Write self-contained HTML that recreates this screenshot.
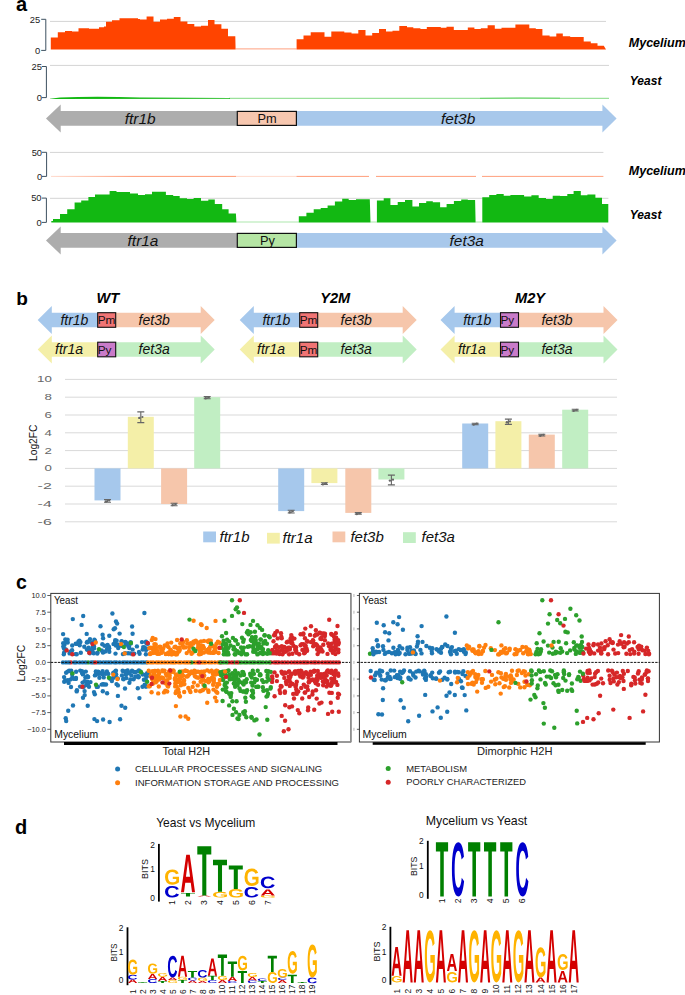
<!DOCTYPE html>
<html><head><meta charset="utf-8"><style>
html,body{margin:0;padding:0;background:#fff;}
body{width:685px;height:995px;overflow:hidden;font-family:"Liberation Sans", sans-serif;}
svg{display:block;}
</style></head><body>
<svg width="685" height="995" viewBox="0 0 685 995" font-family='"Liberation Sans", sans-serif'><defs><path id="gA" d="M1133 0 1008 360H471L346 0H51L565 1409H913L1425 0ZM739 1192 733 1170Q723 1134 709.0 1088.0Q695 1042 537 582H942L803 987L760 1123Z"/><path id="gC" d="M795 212Q1062 212 1166 480L1423 383Q1340 179 1179.5 79.5Q1019 -20 795 -20Q455 -20 269.5 172.5Q84 365 84 711Q84 1058 263.0 1244.0Q442 1430 782 1430Q1030 1430 1186.0 1330.5Q1342 1231 1405 1038L1145 967Q1112 1073 1015.5 1135.5Q919 1198 788 1198Q588 1198 484.5 1074.0Q381 950 381 711Q381 468 487.5 340.0Q594 212 795 212Z"/><path id="gG" d="M806 211Q921 211 1029.0 244.5Q1137 278 1196 330V525H852V743H1466V225Q1354 110 1174.5 45.0Q995 -20 798 -20Q454 -20 269.0 170.5Q84 361 84 711Q84 1059 270.0 1244.5Q456 1430 805 1430Q1301 1430 1436 1063L1164 981Q1120 1088 1026.0 1143.0Q932 1198 805 1198Q597 1198 489.0 1072.0Q381 946 381 711Q381 472 492.5 341.5Q604 211 806 211Z"/><path id="gT" d="M773 1181V0H478V1181H23V1409H1229V1181Z"/></defs><text x="16" y="10.8" font-size="20" font-weight="bold" font-style="normal" text-anchor="start" fill="#000" >a</text>
<line x1="50" y1="21.4" x2="606" y2="21.4" stroke="#d4d4d4" stroke-width="1"/>
<path d="M50.8,49.4 L50.8,37.4 L57.8,37.4 L57.8,32.2 L65.0,32.2 L65.0,30.9 L72.0,30.9 L72.0,31.6 L78.5,31.6 L78.5,28.2 L89.0,28.2 L89.0,28.7 L99.0,28.7 L99.0,27.2 L104.0,27.2 L104.0,26.4 L106.0,26.4 L106.0,21.7 L112.0,21.7 L112.0,20.2 L119.5,20.2 L119.5,18.3 L138.0,18.3 L138.0,19.0 L140.0,19.0 L140.0,19.5 L146.6,19.5 L146.6,16.6 L153.5,16.6 L153.5,21.7 L160.0,21.7 L160.0,19.5 L167.0,19.5 L167.0,18.8 L173.8,18.8 L173.8,16.9 L180.5,16.9 L180.5,21.4 L187.4,21.4 L187.4,23.9 L194.3,23.9 L194.3,26.4 L201.0,26.4 L201.0,25.8 L208.0,25.8 L208.0,19.9 L214.5,19.9 L214.5,24.2 L221.4,24.2 L221.4,28.7 L228.0,28.7 L228.0,36.3 L235.3,36.3 L235.6,49.4 Z" fill="#ff4400"/>
<path d="M296.6,49.4 L296.6,39.2 L303.5,39.2 L303.5,35.5 L310.7,35.5 L310.7,32.2 L324.5,32.2 L324.5,36.7 L331.3,36.7 L331.3,31.6 L344.3,31.6 L344.3,32.6 L351.5,32.6 L351.5,33.4 L358.3,33.4 L358.3,30.0 L365.5,30.0 L365.5,35.5 L372.2,35.5 L372.2,33.0 L379.0,33.0 L379.0,29.0 L386.0,29.0 L386.0,31.6 L392.5,31.6 L392.5,30.7 L399.3,30.7 L399.3,26.0 L407.0,26.0 L407.0,27.2 L413.3,27.2 L413.3,28.2 L420.4,28.2 L420.4,29.0 L426.8,29.0 L426.8,27.0 L440.8,27.0 L440.8,27.8 L446.5,27.8 L446.5,26.8 L453.8,26.8 L453.8,30.0 L467.8,30.0 L467.8,27.5 L474.4,27.5 L474.4,29.0 L480.8,29.0 L480.8,28.2 L487.6,28.2 L487.6,25.3 L494.8,25.3 L494.8,28.7 L501.5,28.7 L501.5,27.8 L515.4,27.8 L515.4,24.6 L529.3,24.6 L529.3,28.2 L535.8,28.2 L535.8,29.0 L542.4,29.0 L542.4,35.5 L549.6,35.5 L549.6,36.6 L556.3,36.6 L556.3,33.6 L562.8,33.6 L562.8,36.3 L570.2,36.3 L570.2,37.0 L583.7,37.0 L583.7,41.4 L590.8,41.4 L590.8,43.3 L597.5,43.3 L597.5,45.8 L603.8,45.8 L606.0,49.4 Z" fill="#ff4400"/>
<line x1="235.6" y1="48.9" x2="296.6" y2="48.9" stroke="#ff4400" stroke-opacity="0.5" stroke-width="1"/>
<path d="M41.199999999999996,19.3 H45.8 V50.4 H41.199999999999996" fill="none" stroke="#3d5060" stroke-width="1"/>
<text x="40.199999999999996" y="22.6" font-size="9.4" font-weight="normal" font-style="normal" text-anchor="end" fill="#222" >25</text>
<text x="40.199999999999996" y="53.699999999999996" font-size="9.4" font-weight="normal" font-style="normal" text-anchor="end" fill="#222" >0</text>
<text x="628.8" y="46.7" font-size="12.5" font-weight="bold" font-style="italic" text-anchor="start" fill="#000" >Mycelium</text>
<line x1="50" y1="65.4" x2="609" y2="65.4" stroke="#d4d4d4" stroke-width="1"/>
<path d="M50,98.7 L60,97.4 Q95,96.2 140,97.4 L230,97.9 L230,98.8 L50,98.9 Z" fill="#12b812"/>
<path d="M229,98.3 H609" stroke="#12b812" stroke-opacity="0.6" stroke-width="0.9"/>
<path d="M480,98.3 Q520,97.3 560,98.1" stroke="#12b812" stroke-opacity="0.5" stroke-width="0.8" fill="none"/>
<path d="M41.8,66.5 H46.4 V97.6 H41.8" fill="none" stroke="#3d5060" stroke-width="1"/>
<text x="42.0" y="69.8" font-size="9.4" font-weight="normal" font-style="normal" text-anchor="end" fill="#222" >25</text>
<text x="42.0" y="100.89999999999999" font-size="9.4" font-weight="normal" font-style="normal" text-anchor="end" fill="#222" >0</text>
<text x="629.8" y="84.6" font-size="12" font-weight="bold" font-style="italic" text-anchor="start" fill="#000" >Yeast</text>
<path d="M46,118.4 L60.7,104.4 L60.7,111.0 L237,111.0 L237,125.80000000000001 L60.7,125.80000000000001 L60.7,132.4 Z" fill="#adadad"/>
<path d="M296,111.0 L602.4,111.0 L602.4,104.4 L616.6,118.4 L602.4,132.4 L602.4,125.80000000000001 L296,125.80000000000001 Z" fill="#a8c8eb"/>
<rect x="237.3" y="111.4" width="59.1" height="14.00000000000001" fill="#f7c7af" stroke="#111" stroke-width="1.2"/>
<text x="124.8" y="123.60000000000001" font-size="15.4" font-weight="normal" font-style="italic" text-anchor="start" fill="#111" >ftr1b</text>
<text x="441.0" y="123.60000000000001" font-size="15.4" font-weight="normal" font-style="italic" text-anchor="start" fill="#111" >fet3b</text>
<text x="257.5" y="123.0" font-size="12.8" font-weight="normal" font-style="normal" text-anchor="start" fill="#111" >Pm</text>
<line x1="50" y1="152.4" x2="603.4" y2="152.4" stroke="#d4d4d4" stroke-width="1"/>
<defs><linearGradient id="rg" x1="51" x2="603" gradientUnits="userSpaceOnUse"><stop offset="0" stop-color="#ff4400" stop-opacity="0.2"/><stop offset="0.15" stop-color="#ff4400" stop-opacity="0.55"/><stop offset="1" stop-color="#ff4400" stop-opacity="0.5"/></linearGradient></defs>
<path d="M51,176.4 H236 M296.5,176.4 H369 M376,176.4 H476 M482,176.4 H603.4" stroke="url(#rg)" stroke-width="1"/>
<path d="M236,176.4 H296.5" stroke="#ff4400" stroke-opacity="0.2" stroke-width="1"/>
<path d="M42.0,152.3 H46.6 V176.4 H42.0" fill="none" stroke="#3d5060" stroke-width="1"/>
<text x="42.1" y="155.60000000000002" font-size="9.4" font-weight="normal" font-style="normal" text-anchor="end" fill="#222" >50</text>
<text x="42.1" y="179.70000000000002" font-size="9.4" font-weight="normal" font-style="normal" text-anchor="end" fill="#222" >0</text>
<text x="628.8" y="175.0" font-size="12.5" font-weight="bold" font-style="italic" text-anchor="start" fill="#000" >Mycelium</text>
<line x1="50" y1="198.3" x2="608.4" y2="198.3" stroke="#d4d4d4" stroke-width="1"/>
<path d="M51.3,222.5 L51.3,221.0 L53.0,221.0 L53.0,219.1 L60.0,219.1 L60.0,213.9 L67.2,213.9 L67.2,209.2 L74.6,209.2 L74.6,202.6 L81.2,202.6 L81.2,200.4 L88.4,200.4 L88.4,197.1 L95.0,197.1 L95.0,194.6 L109.6,194.6 L109.6,191.0 L116.5,191.0 L116.5,192.0 L130.0,192.0 L130.0,193.4 L138.0,193.4 L138.0,194.9 L145.0,194.9 L145.0,194.3 L152.0,194.3 L152.0,191.7 L165.9,191.7 L165.9,195.0 L173.2,195.0 L173.2,196.0 L179.7,196.0 L179.7,198.2 L187.0,198.2 L187.0,199.0 L193.6,199.0 L193.6,198.0 L201.0,198.0 L201.0,200.7 L208.3,200.7 L208.3,199.4 L214.8,199.4 L214.8,204.0 L222.2,204.0 L222.2,209.2 L228.6,209.2 L228.6,213.6 L235.9,213.6 L236.4,222.5 Z" fill="#12b812"/>
<path d="M298.8,222.5 L298.8,216.2 L306.4,216.2 L306.4,212.8 L313.7,212.8 L313.7,209.2 L320.7,209.2 L320.7,208.0 L327.6,208.0 L327.6,205.5 L334.9,205.5 L334.9,201.6 L342.2,201.6 L342.2,198.7 L348.7,198.7 L348.7,200.1 L356.0,200.1 L356.0,199.3 L369.8,199.3 L370.5,222.5 Z" fill="#12b812"/>
<path d="M376.9,222.5 L376.9,200.4 L383.7,200.4 L383.7,198.2 L390.4,198.2 L390.4,205.1 L397.7,205.1 L397.7,201.9 L405.0,201.9 L405.0,200.0 L412.4,200.0 L412.4,206.6 L419.0,206.6 L419.0,202.9 L426.2,202.9 L426.2,201.2 L432.8,201.2 L432.8,202.2 L440.1,202.2 L440.1,207.3 L446.6,207.3 L446.6,204.1 L453.9,204.1 L453.9,200.9 L461.2,200.9 L461.2,199.4 L467.8,199.4 L467.8,200.1 L475.1,200.1 L475.6,222.5 Z" fill="#12b812"/>
<path d="M482.3,222.5 L482.3,197.2 L489.2,197.2 L489.2,194.9 L496.4,194.9 L496.4,193.9 L503.7,193.9 L503.7,195.8 L510.4,195.8 L510.4,195.0 L524.1,195.0 L524.1,196.5 L531.4,196.5 L531.4,195.3 L538.7,195.3 L538.7,198.0 L546.0,198.0 L546.0,199.0 L552.7,199.0 L552.7,195.8 L560.0,195.8 L560.0,196.0 L567.3,196.0 L567.3,193.9 L573.6,193.9 L573.6,191.0 L580.8,191.0 L580.8,195.3 L587.4,195.3 L587.4,194.6 L595.4,194.6 L595.4,197.8 L602.0,197.8 L602.0,204.1 L608.3,204.1 L608.3,222.5 Z" fill="#12b812"/>
<path d="M236.4,222.0 H298.8 M370.5,222.0 H376.9 M475.6,222.0 H482.3" stroke="#12b812" stroke-opacity="0.35" stroke-width="1"/>
<path d="M41.8,198.1 H46.4 V222.4 H41.8" fill="none" stroke="#3d5060" stroke-width="1"/>
<text x="41.6" y="201.4" font-size="9.4" font-weight="normal" font-style="normal" text-anchor="end" fill="#222" >50</text>
<text x="41.6" y="225.70000000000002" font-size="9.4" font-weight="normal" font-style="normal" text-anchor="end" fill="#222" >0</text>
<text x="629.8" y="219.3" font-size="12" font-weight="bold" font-style="italic" text-anchor="start" fill="#000" >Yeast</text>
<path d="M46,240.4 L60.7,226.4 L60.7,233.0 L237,233.0 L237,247.8 L60.7,247.8 L60.7,254.4 Z" fill="#adadad"/>
<path d="M296,233.0 L602.4,233.0 L602.4,226.4 L616.6,240.4 L602.4,254.4 L602.4,247.8 L296,247.8 Z" fill="#a8c8eb"/>
<rect x="237.3" y="233.4" width="59.1" height="14.00000000000001" fill="#b5e5a4" stroke="#111" stroke-width="1.2"/>
<text x="127.6" y="245.6" font-size="15.4" font-weight="normal" font-style="italic" text-anchor="start" fill="#111" >ftr1a</text>
<text x="449.6" y="245.6" font-size="15.4" font-weight="normal" font-style="italic" text-anchor="start" fill="#111" >fet3a</text>
<text x="260.0" y="245.0" font-size="12.8" font-weight="normal" font-style="normal" text-anchor="start" fill="#111" >Py</text>
<text x="16.3" y="304.6" font-size="19" font-weight="bold" font-style="normal" text-anchor="start" fill="#000" >b</text>
<path d="M37.7,320.0 L51.8,305.9 L51.8,312.7 L98,312.7 L98,327.3 L51.8,327.3 L51.8,334.1 Z" fill="#a6c8ec"/>
<path d="M115,312.7 L200.7,312.7 L200.7,305.9 L214.7,320.0 L200.7,334.1 L200.7,327.3 L115,327.3 Z" fill="#f6c6ab"/>
<rect x="97.7" y="312.7" width="18" height="14.600000000000023" fill="#f07474" stroke="#111" stroke-width="1.1"/>
<text x="60.4" y="324.8" font-size="14" font-weight="normal" font-style="italic" text-anchor="start" fill="#111" >ftr1b</text>
<text x="138.6" y="324.8" font-size="14" font-weight="normal" font-style="italic" text-anchor="start" fill="#111" >fet3b</text>
<text x="97.7" y="324.1" font-size="11.8" font-weight="normal" font-style="normal" text-anchor="start" fill="#111" >Pm</text>
<path d="M37.7,349.5 L51.8,335.4 L51.8,342.2 L98,342.2 L98,356.8 L51.8,356.8 L51.8,363.6 Z" fill="#f4efa8"/>
<path d="M115,342.2 L200.7,342.2 L200.7,335.4 L214.7,349.5 L200.7,363.6 L200.7,356.8 L115,356.8 Z" fill="#c1eec3"/>
<rect x="97.7" y="342.2" width="18" height="14.600000000000023" fill="#c97bc9" stroke="#111" stroke-width="1.1"/>
<text x="55.1" y="354.3" font-size="14" font-weight="normal" font-style="italic" text-anchor="start" fill="#111" >ftr1a</text>
<text x="138.6" y="354.3" font-size="14" font-weight="normal" font-style="italic" text-anchor="start" fill="#111" >fet3a</text>
<text x="97.7" y="353.6" font-size="11.8" font-weight="normal" font-style="normal" text-anchor="start" fill="#111" >Py</text>
<path d="M239.7,320.0 L253.8,305.9 L253.8,312.7 L300,312.7 L300,327.3 L253.8,327.3 L253.8,334.1 Z" fill="#a6c8ec"/>
<path d="M317,312.7 L402.7,312.7 L402.7,305.9 L416.7,320.0 L402.7,334.1 L402.7,327.3 L317,327.3 Z" fill="#f6c6ab"/>
<rect x="299.7" y="312.7" width="18" height="14.600000000000023" fill="#f07474" stroke="#111" stroke-width="1.1"/>
<text x="262.4" y="324.8" font-size="14" font-weight="normal" font-style="italic" text-anchor="start" fill="#111" >ftr1b</text>
<text x="340.6" y="324.8" font-size="14" font-weight="normal" font-style="italic" text-anchor="start" fill="#111" >fet3b</text>
<text x="299.7" y="324.1" font-size="11.8" font-weight="normal" font-style="normal" text-anchor="start" fill="#111" >Pm</text>
<path d="M239.7,349.5 L253.8,335.4 L253.8,342.2 L300,342.2 L300,356.8 L253.8,356.8 L253.8,363.6 Z" fill="#f4efa8"/>
<path d="M317,342.2 L402.7,342.2 L402.7,335.4 L416.7,349.5 L402.7,363.6 L402.7,356.8 L317,356.8 Z" fill="#c1eec3"/>
<rect x="299.7" y="342.2" width="18" height="14.600000000000023" fill="#f07474" stroke="#111" stroke-width="1.1"/>
<text x="257.1" y="354.3" font-size="14" font-weight="normal" font-style="italic" text-anchor="start" fill="#111" >ftr1a</text>
<text x="340.6" y="354.3" font-size="14" font-weight="normal" font-style="italic" text-anchor="start" fill="#111" >fet3a</text>
<text x="299.7" y="353.6" font-size="11.8" font-weight="normal" font-style="normal" text-anchor="start" fill="#111" >Pm</text>
<path d="M440.5,320.0 L454.6,305.9 L454.6,312.7 L500.8,312.7 L500.8,327.3 L454.6,327.3 L454.6,334.1 Z" fill="#a6c8ec"/>
<path d="M517.8,312.7 L603.5,312.7 L603.5,305.9 L617.5,320.0 L603.5,334.1 L603.5,327.3 L517.8,327.3 Z" fill="#f6c6ab"/>
<rect x="500.5" y="312.7" width="18" height="14.600000000000023" fill="#c97bc9" stroke="#111" stroke-width="1.1"/>
<text x="463.2" y="324.8" font-size="14" font-weight="normal" font-style="italic" text-anchor="start" fill="#111" >ftr1b</text>
<text x="541.4" y="324.8" font-size="14" font-weight="normal" font-style="italic" text-anchor="start" fill="#111" >fet3b</text>
<text x="500.5" y="324.1" font-size="11.8" font-weight="normal" font-style="normal" text-anchor="start" fill="#111" >Py</text>
<path d="M440.5,349.5 L454.6,335.4 L454.6,342.2 L500.8,342.2 L500.8,356.8 L454.6,356.8 L454.6,363.6 Z" fill="#f4efa8"/>
<path d="M517.8,342.2 L603.5,342.2 L603.5,335.4 L617.5,349.5 L603.5,363.6 L603.5,356.8 L517.8,356.8 Z" fill="#c1eec3"/>
<rect x="500.5" y="342.2" width="18" height="14.600000000000023" fill="#c97bc9" stroke="#111" stroke-width="1.1"/>
<text x="457.90000000000003" y="354.3" font-size="14" font-weight="normal" font-style="italic" text-anchor="start" fill="#111" >ftr1a</text>
<text x="541.4" y="354.3" font-size="14" font-weight="normal" font-style="italic" text-anchor="start" fill="#111" >fet3a</text>
<text x="500.5" y="353.6" font-size="11.8" font-weight="normal" font-style="normal" text-anchor="start" fill="#111" >Py</text>
<text x="96.4" y="303.4" font-size="14.6" font-weight="bold" font-style="italic" text-anchor="start" fill="#000" >WT</text>
<text x="320.2" y="303.4" font-size="14.6" font-weight="bold" font-style="italic" text-anchor="start" fill="#000" >Y2M</text>
<text x="515.0" y="303.4" font-size="14.6" font-weight="bold" font-style="italic" text-anchor="start" fill="#000" >M2Y</text>
<line x1="65" y1="379.4" x2="617" y2="379.4" stroke="#d9d9d9" stroke-width="1"/>
<text x="51.8" y="382.29999999999995" font-size="8.2" font-weight="normal" font-style="normal" text-anchor="end" fill="#666" textLength="14.8" lengthAdjust="spacingAndGlyphs" >10</text>
<line x1="65" y1="397.2" x2="617" y2="397.2" stroke="#d9d9d9" stroke-width="1"/>
<text x="51.8" y="400.09999999999997" font-size="8.2" font-weight="normal" font-style="normal" text-anchor="end" fill="#666" textLength="7.4" lengthAdjust="spacingAndGlyphs" >8</text>
<line x1="65" y1="415.0" x2="617" y2="415.0" stroke="#d9d9d9" stroke-width="1"/>
<text x="51.8" y="417.9" font-size="8.2" font-weight="normal" font-style="normal" text-anchor="end" fill="#666" textLength="7.4" lengthAdjust="spacingAndGlyphs" >6</text>
<line x1="65" y1="432.8" x2="617" y2="432.8" stroke="#d9d9d9" stroke-width="1"/>
<text x="51.8" y="435.69999999999993" font-size="8.2" font-weight="normal" font-style="normal" text-anchor="end" fill="#666" textLength="7.4" lengthAdjust="spacingAndGlyphs" >4</text>
<line x1="65" y1="450.6" x2="617" y2="450.6" stroke="#d9d9d9" stroke-width="1"/>
<text x="51.8" y="453.49999999999994" font-size="8.2" font-weight="normal" font-style="normal" text-anchor="end" fill="#666" textLength="7.4" lengthAdjust="spacingAndGlyphs" >2</text>
<line x1="65" y1="468.4" x2="617" y2="468.4" stroke="#d9d9d9" stroke-width="1"/>
<text x="51.8" y="471.29999999999995" font-size="8.2" font-weight="normal" font-style="normal" text-anchor="end" fill="#666" textLength="7.4" lengthAdjust="spacingAndGlyphs" >0</text>
<line x1="65" y1="486.2" x2="617" y2="486.2" stroke="#d9d9d9" stroke-width="1"/>
<text x="51.8" y="489.09999999999997" font-size="8.2" font-weight="normal" font-style="normal" text-anchor="end" fill="#666" textLength="14.200000000000001" lengthAdjust="spacingAndGlyphs" >-2</text>
<line x1="65" y1="504.0" x2="617" y2="504.0" stroke="#d9d9d9" stroke-width="1"/>
<text x="51.8" y="506.9" font-size="8.2" font-weight="normal" font-style="normal" text-anchor="end" fill="#666" textLength="14.200000000000001" lengthAdjust="spacingAndGlyphs" >-4</text>
<line x1="65" y1="521.8" x2="617" y2="521.8" stroke="#d9d9d9" stroke-width="1"/>
<text x="51.8" y="524.6999999999999" font-size="8.2" font-weight="normal" font-style="normal" text-anchor="end" fill="#666" textLength="14.200000000000001" lengthAdjust="spacingAndGlyphs" >-6</text>
<text transform="translate(37.4,461) rotate(-90)" font-size="10.6" fill="#111" textLength="36.4" lengthAdjust="spacingAndGlyphs">Log2FC</text>
<rect x="94.5" y="468.4" width="26" height="32.0" fill="#a6c8ec"/>
<rect x="127.8" y="416.8" width="26" height="51.6" fill="#f4efa8"/>
<rect x="161.1" y="468.4" width="26" height="35.6" fill="#f6c6ab"/>
<rect x="194.2" y="397.2" width="26" height="71.2" fill="#c1eec3"/>
<rect x="278.2" y="468.4" width="26" height="42.7" fill="#a6c8ec"/>
<rect x="311.4" y="468.4" width="26" height="14.7" fill="#f4efa8"/>
<rect x="345.3" y="468.4" width="26" height="44.5" fill="#f6c6ab"/>
<rect x="378.4" y="468.4" width="26" height="11.1" fill="#c1eec3"/>
<rect x="462.2" y="423.5" width="26" height="44.9" fill="#a6c8ec"/>
<rect x="495.4" y="421.2" width="26" height="47.2" fill="#f4efa8"/>
<rect x="528.8" y="434.6" width="26" height="33.8" fill="#f6c6ab"/>
<rect x="562.2" y="409.7" width="26" height="58.7" fill="#c1eec3"/>
<path d="M107.5,499.6 V502.3 M104.0,499.6 H111.0 M104.0,502.3 H111.0" stroke="#666" stroke-width="1.1" fill="none"/>
<circle cx="106.0" cy="501.5" r="1.2" fill="#666"/>
<circle cx="109.1" cy="500.6" r="1.1" fill="#666"/>
<path d="M140.8,411.9 V422.6 M137.3,411.9 H144.3 M137.3,422.6 H144.3" stroke="#666" stroke-width="1.1" fill="none"/>
<circle cx="139.3" cy="417.9" r="1.2" fill="#666"/>
<circle cx="142.4" cy="417.0" r="1.1" fill="#666"/>
<path d="M174.1,503.2 V505.8 M170.6,503.2 H177.6 M170.6,505.8 H177.6" stroke="#666" stroke-width="1.1" fill="none"/>
<circle cx="172.6" cy="505.1" r="1.2" fill="#666"/>
<circle cx="175.7" cy="504.2" r="1.1" fill="#666"/>
<path d="M207.2,396.6 V398.8 M203.7,396.6 H210.7 M203.7,398.8 H210.7" stroke="#666" stroke-width="1.1" fill="none"/>
<circle cx="205.7" cy="398.3" r="1.2" fill="#666"/>
<circle cx="208.79999999999998" cy="397.4" r="1.1" fill="#666"/>
<path d="M291.2,510.3 V513.0 M287.7,510.3 H294.7 M287.7,513.0 H294.7" stroke="#666" stroke-width="1.1" fill="none"/>
<circle cx="289.7" cy="512.2" r="1.2" fill="#666"/>
<circle cx="292.8" cy="511.3" r="1.1" fill="#666"/>
<path d="M324.4,482.7 V484.5 M320.9,482.7 H327.9 M320.9,484.5 H327.9" stroke="#666" stroke-width="1.1" fill="none"/>
<circle cx="322.9" cy="484.2" r="1.2" fill="#666"/>
<circle cx="326.0" cy="483.3" r="1.1" fill="#666"/>
<path d="M358.3,512.6 V514.2 M354.8,512.6 H361.8 M354.8,514.2 H361.8" stroke="#666" stroke-width="1.1" fill="none"/>
<circle cx="356.8" cy="514.0" r="1.2" fill="#666"/>
<circle cx="359.90000000000003" cy="513.1" r="1.1" fill="#666"/>
<path d="M391.4,475.1 V484.9 M387.9,475.1 H394.9 M387.9,484.9 H394.9" stroke="#666" stroke-width="1.1" fill="none"/>
<circle cx="389.9" cy="480.6" r="1.2" fill="#666"/>
<circle cx="393.0" cy="479.7" r="1.1" fill="#666"/>
<path d="M475.2,423.2 V424.8 M471.7,423.2 H478.7 M471.7,424.8 H478.7" stroke="#666" stroke-width="1.1" fill="none"/>
<circle cx="473.7" cy="424.6" r="1.2" fill="#666"/>
<circle cx="476.8" cy="423.7" r="1.1" fill="#666"/>
<path d="M508.4,419.1 V424.4 M504.9,419.1 H511.9 M504.9,424.4 H511.9" stroke="#666" stroke-width="1.1" fill="none"/>
<circle cx="506.9" cy="422.3" r="1.2" fill="#666"/>
<circle cx="510.0" cy="421.4" r="1.1" fill="#666"/>
<path d="M541.8,434.2 V436.0 M538.3,434.2 H545.3 M538.3,436.0 H545.3" stroke="#666" stroke-width="1.1" fill="none"/>
<circle cx="540.3" cy="435.7" r="1.2" fill="#666"/>
<circle cx="543.4" cy="434.8" r="1.1" fill="#666"/>
<path d="M575.2,409.3 V411.0 M571.7,409.3 H578.7 M571.7,411.0 H578.7" stroke="#666" stroke-width="1.1" fill="none"/>
<circle cx="573.7" cy="410.8" r="1.2" fill="#666"/>
<circle cx="576.8000000000001" cy="409.9" r="1.1" fill="#666"/>
<rect x="203.2" y="531.5" width="12.8" height="10.8" fill="#a6c8ec"/>
<text x="219.5" y="541.7" font-size="15" font-weight="normal" font-style="italic" text-anchor="start" fill="#111" >ftr1b</text>
<rect x="267" y="532.8" width="12.8" height="10.8" fill="#f4efa8"/>
<text x="282.5" y="543.0" font-size="15" font-weight="normal" font-style="italic" text-anchor="start" fill="#111" >ftr1a</text>
<rect x="332.5" y="531.5" width="12.8" height="10.8" fill="#f6c6ab"/>
<text x="350.4" y="541.7" font-size="15" font-weight="normal" font-style="italic" text-anchor="start" fill="#111" >fet3b</text>
<rect x="403" y="532.2" width="12.8" height="10.8" fill="#c1eec3"/>
<text x="421.6" y="542.4000000000001" font-size="15" font-weight="normal" font-style="italic" text-anchor="start" fill="#111" >fet3a</text>
<text x="16" y="589.2" font-size="19.5" font-weight="bold" font-style="normal" text-anchor="start" fill="#000" >c</text>
<rect x="50.8" y="593.4" width="300" height="148.6" fill="#fff" stroke="#333" stroke-width="1"/>
<rect x="359.4" y="593.4" width="300" height="148.6" fill="#fff" stroke="#333" stroke-width="1"/>
<circle cx="506.0" cy="679.8" r="2.2" fill="#ff7f0e"/>
<circle cx="127.6" cy="673.4" r="2.2" fill="#1f77b4"/>
<circle cx="375.1" cy="652.3" r="2.2" fill="#1f77b4"/>
<circle cx="473.7" cy="684.6" r="2.2" fill="#ff7f0e"/>
<circle cx="400.6" cy="700.3" r="2.2" fill="#1f77b4"/>
<circle cx="70.8" cy="662.4" r="2.2" fill="#d62728"/>
<circle cx="280.2" cy="693.0" r="2.2" fill="#d62728"/>
<circle cx="411.5" cy="653.5" r="2.2" fill="#1f77b4"/>
<circle cx="439.0" cy="672.8" r="2.2" fill="#1f77b4"/>
<circle cx="235.2" cy="684.5" r="2.2" fill="#2ca02c"/>
<circle cx="548.0" cy="645.6" r="2.2" fill="#2ca02c"/>
<circle cx="279.0" cy="647.2" r="2.2" fill="#d62728"/>
<circle cx="396.9" cy="675.3" r="2.2" fill="#1f77b4"/>
<circle cx="104.5" cy="645.8" r="2.2" fill="#1f77b4"/>
<circle cx="588.8" cy="651.8" r="2.2" fill="#d62728"/>
<circle cx="237.0" cy="683.6" r="2.2" fill="#2ca02c"/>
<circle cx="76.0" cy="678.0" r="2.2" fill="#1f77b4"/>
<circle cx="227.0" cy="671.2" r="2.2" fill="#2ca02c"/>
<circle cx="338.4" cy="675.7" r="2.2" fill="#d62728"/>
<circle cx="167.5" cy="643.4" r="2.2" fill="#ff7f0e"/>
<circle cx="161.4" cy="652.9" r="2.2" fill="#ff7f0e"/>
<circle cx="302.4" cy="649.9" r="2.2" fill="#d62728"/>
<circle cx="645.4" cy="654.0" r="2.2" fill="#d62728"/>
<circle cx="229.1" cy="693.5" r="2.2" fill="#2ca02c"/>
<circle cx="648.0" cy="678.6" r="2.2" fill="#d62728"/>
<circle cx="80.4" cy="642.1" r="2.2" fill="#1f77b4"/>
<circle cx="179.1" cy="648.3" r="2.2" fill="#ff7f0e"/>
<circle cx="128.9" cy="646.3" r="2.2" fill="#1f77b4"/>
<circle cx="624.1" cy="642.3" r="2.2" fill="#d62728"/>
<circle cx="170.0" cy="672.3" r="2.2" fill="#ff7f0e"/>
<circle cx="246.2" cy="692.4" r="2.2" fill="#2ca02c"/>
<circle cx="623.7" cy="647.2" r="2.2" fill="#d62728"/>
<circle cx="303.4" cy="633.5" r="2.2" fill="#d62728"/>
<circle cx="166.9" cy="675.8" r="2.2" fill="#ff7f0e"/>
<circle cx="312.7" cy="691.5" r="2.2" fill="#d62728"/>
<circle cx="277.7" cy="638.4" r="2.2" fill="#d62728"/>
<circle cx="70.8" cy="671.3" r="2.2" fill="#1f77b4"/>
<circle cx="112.4" cy="613.5" r="2.2" fill="#1f77b4"/>
<circle cx="410.0" cy="671.2" r="2.2" fill="#1f77b4"/>
<circle cx="271.0" cy="662.4" r="2.2" fill="#d62728"/>
<circle cx="501.4" cy="645.4" r="2.2" fill="#ff7f0e"/>
<circle cx="527.6" cy="684.8" r="2.2" fill="#ff7f0e"/>
<circle cx="142.0" cy="642.1" r="2.2" fill="#1f77b4"/>
<circle cx="158.1" cy="675.7" r="2.2" fill="#ff7f0e"/>
<circle cx="267.6" cy="677.5" r="2.2" fill="#2ca02c"/>
<circle cx="178.6" cy="679.1" r="2.2" fill="#ff7f0e"/>
<circle cx="331.7" cy="643.8" r="2.2" fill="#d62728"/>
<circle cx="604.2" cy="647.6" r="2.2" fill="#d62728"/>
<circle cx="93.9" cy="646.2" r="2.2" fill="#1f77b4"/>
<circle cx="512.7" cy="681.0" r="2.2" fill="#ff7f0e"/>
<circle cx="461.0" cy="681.2" r="2.2" fill="#1f77b4"/>
<circle cx="216.1" cy="691.5" r="2.2" fill="#ff7f0e"/>
<circle cx="580.6" cy="680.8" r="2.2" fill="#2ca02c"/>
<circle cx="234.5" cy="662.4" r="2.2" fill="#2ca02c"/>
<circle cx="257.5" cy="686.8" r="2.2" fill="#2ca02c"/>
<circle cx="94.0" cy="692.1" r="2.2" fill="#1f77b4"/>
<circle cx="570.1" cy="650.4" r="2.2" fill="#2ca02c"/>
<circle cx="312.5" cy="679.5" r="2.2" fill="#d62728"/>
<circle cx="146.7" cy="676.4" r="2.2" fill="#1f77b4"/>
<circle cx="306.6" cy="648.7" r="2.2" fill="#d62728"/>
<circle cx="552.5" cy="647.6" r="2.2" fill="#2ca02c"/>
<circle cx="168.7" cy="654.0" r="2.2" fill="#ff7f0e"/>
<circle cx="135.4" cy="672.1" r="2.2" fill="#1f77b4"/>
<circle cx="232.4" cy="673.2" r="2.2" fill="#2ca02c"/>
<circle cx="69.6" cy="653.4" r="2.2" fill="#1f77b4"/>
<circle cx="292.0" cy="637.4" r="2.2" fill="#d62728"/>
<circle cx="164.7" cy="645.5" r="2.2" fill="#ff7f0e"/>
<circle cx="317.0" cy="645.2" r="2.2" fill="#d62728"/>
<circle cx="158.0" cy="670.8" r="2.2" fill="#ff7f0e"/>
<circle cx="213.5" cy="672.4" r="2.2" fill="#ff7f0e"/>
<circle cx="68.2" cy="710.7" r="2.2" fill="#1f77b4"/>
<circle cx="102.3" cy="644.3" r="2.2" fill="#1f77b4"/>
<circle cx="321.5" cy="702.6" r="2.2" fill="#d62728"/>
<circle cx="331.4" cy="650.2" r="2.2" fill="#d62728"/>
<circle cx="303.1" cy="662.4" r="2.2" fill="#d62728"/>
<circle cx="296.0" cy="650.2" r="2.2" fill="#d62728"/>
<circle cx="158.6" cy="674.0" r="2.2" fill="#ff7f0e"/>
<circle cx="167.5" cy="685.7" r="2.2" fill="#ff7f0e"/>
<circle cx="558.7" cy="691.9" r="2.2" fill="#2ca02c"/>
<circle cx="282.5" cy="654.3" r="2.2" fill="#d62728"/>
<circle cx="315.7" cy="644.8" r="2.2" fill="#d62728"/>
<circle cx="178.8" cy="692.3" r="2.2" fill="#ff7f0e"/>
<circle cx="281.3" cy="636.8" r="2.2" fill="#d62728"/>
<circle cx="328.1" cy="643.4" r="2.2" fill="#d62728"/>
<circle cx="612.7" cy="643.0" r="2.2" fill="#d62728"/>
<circle cx="106.0" cy="662.4" r="2.2" fill="#1f77b4"/>
<circle cx="260.1" cy="674.2" r="2.2" fill="#2ca02c"/>
<circle cx="291.6" cy="642.5" r="2.2" fill="#d62728"/>
<circle cx="314.2" cy="709.8" r="2.2" fill="#d62728"/>
<circle cx="234.0" cy="678.9" r="2.2" fill="#2ca02c"/>
<circle cx="326.1" cy="680.4" r="2.2" fill="#d62728"/>
<circle cx="175.9" cy="674.5" r="2.2" fill="#ff7f0e"/>
<circle cx="300.3" cy="662.4" r="2.2" fill="#d62728"/>
<circle cx="109.3" cy="651.7" r="2.2" fill="#1f77b4"/>
<circle cx="529.3" cy="649.8" r="2.2" fill="#ff7f0e"/>
<circle cx="289.8" cy="685.9" r="2.2" fill="#d62728"/>
<circle cx="126.2" cy="671.2" r="2.2" fill="#1f77b4"/>
<circle cx="235.1" cy="670.7" r="2.2" fill="#2ca02c"/>
<circle cx="281.8" cy="646.1" r="2.2" fill="#d62728"/>
<circle cx="185.4" cy="647.4" r="2.2" fill="#ff7f0e"/>
<circle cx="270.5" cy="652.1" r="2.2" fill="#2ca02c"/>
<circle cx="94.4" cy="719.1" r="2.2" fill="#1f77b4"/>
<circle cx="399.1" cy="617.1" r="2.2" fill="#1f77b4"/>
<circle cx="445.2" cy="644.5" r="2.2" fill="#1f77b4"/>
<circle cx="117.9" cy="695.9" r="2.2" fill="#1f77b4"/>
<circle cx="560.7" cy="648.3" r="2.2" fill="#2ca02c"/>
<circle cx="65.5" cy="649.8" r="2.2" fill="#1f77b4"/>
<circle cx="208.7" cy="648.9" r="2.2" fill="#ff7f0e"/>
<circle cx="152.8" cy="653.1" r="2.2" fill="#ff7f0e"/>
<circle cx="97.9" cy="662.4" r="2.2" fill="#1f77b4"/>
<circle cx="145.9" cy="686.5" r="2.2" fill="#1f77b4"/>
<circle cx="413.0" cy="673.4" r="2.2" fill="#1f77b4"/>
<circle cx="601.2" cy="678.6" r="2.2" fill="#d62728"/>
<circle cx="531.9" cy="680.3" r="2.2" fill="#2ca02c"/>
<circle cx="217.3" cy="692.8" r="2.2" fill="#ff7f0e"/>
<circle cx="312.4" cy="694.5" r="2.2" fill="#d62728"/>
<circle cx="288.7" cy="676.6" r="2.2" fill="#d62728"/>
<circle cx="255.1" cy="639.5" r="2.2" fill="#2ca02c"/>
<circle cx="149.2" cy="673.7" r="2.2" fill="#ff7f0e"/>
<circle cx="108.3" cy="673.9" r="2.2" fill="#1f77b4"/>
<circle cx="129.4" cy="682.7" r="2.2" fill="#1f77b4"/>
<circle cx="321.5" cy="639.1" r="2.2" fill="#d62728"/>
<circle cx="138.5" cy="677.3" r="2.2" fill="#1f77b4"/>
<circle cx="217.3" cy="671.5" r="2.2" fill="#ff7f0e"/>
<circle cx="557.2" cy="620.0" r="2.2" fill="#2ca02c"/>
<circle cx="242.3" cy="624.1" r="2.2" fill="#2ca02c"/>
<circle cx="146.0" cy="641.8" r="2.2" fill="#1f77b4"/>
<circle cx="424.2" cy="670.6" r="2.2" fill="#1f77b4"/>
<circle cx="648.6" cy="671.2" r="2.2" fill="#d62728"/>
<circle cx="149.7" cy="686.2" r="2.2" fill="#ff7f0e"/>
<circle cx="237.5" cy="718.5" r="2.2" fill="#2ca02c"/>
<circle cx="162.3" cy="670.5" r="2.2" fill="#ff7f0e"/>
<circle cx="116.0" cy="621.4" r="2.2" fill="#1f77b4"/>
<circle cx="99.4" cy="677.8" r="2.2" fill="#1f77b4"/>
<circle cx="264.5" cy="635.4" r="2.2" fill="#2ca02c"/>
<circle cx="478.3" cy="674.9" r="2.2" fill="#ff7f0e"/>
<circle cx="384.8" cy="653.9" r="2.2" fill="#1f77b4"/>
<circle cx="295.2" cy="673.7" r="2.2" fill="#d62728"/>
<circle cx="242.0" cy="637.7" r="2.2" fill="#2ca02c"/>
<circle cx="127.5" cy="662.4" r="2.2" fill="#1f77b4"/>
<circle cx="175.9" cy="706.1" r="2.2" fill="#ff7f0e"/>
<circle cx="317.5" cy="680.1" r="2.2" fill="#d62728"/>
<circle cx="321.4" cy="637.4" r="2.2" fill="#d62728"/>
<circle cx="116.5" cy="684.1" r="2.2" fill="#1f77b4"/>
<circle cx="212.9" cy="674.0" r="2.2" fill="#ff7f0e"/>
<circle cx="471.4" cy="683.8" r="2.2" fill="#ff7f0e"/>
<circle cx="218.6" cy="653.0" r="2.2" fill="#ff7f0e"/>
<circle cx="220.6" cy="673.1" r="2.2" fill="#ff7f0e"/>
<circle cx="246.0" cy="682.3" r="2.2" fill="#2ca02c"/>
<circle cx="560.2" cy="623.3" r="2.2" fill="#2ca02c"/>
<circle cx="258.0" cy="662.4" r="2.2" fill="#2ca02c"/>
<circle cx="195.0" cy="676.2" r="2.2" fill="#ff7f0e"/>
<circle cx="261.1" cy="646.8" r="2.2" fill="#2ca02c"/>
<circle cx="122.9" cy="662.4" r="2.2" fill="#1f77b4"/>
<circle cx="161.1" cy="648.7" r="2.2" fill="#ff7f0e"/>
<circle cx="272.1" cy="681.9" r="2.2" fill="#d62728"/>
<circle cx="563.8" cy="670.5" r="2.2" fill="#2ca02c"/>
<circle cx="239.2" cy="662.4" r="2.2" fill="#2ca02c"/>
<circle cx="253.5" cy="648.7" r="2.2" fill="#2ca02c"/>
<circle cx="482.9" cy="651.0" r="2.2" fill="#ff7f0e"/>
<circle cx="523.5" cy="671.3" r="2.2" fill="#ff7f0e"/>
<circle cx="208.2" cy="678.9" r="2.2" fill="#ff7f0e"/>
<circle cx="273.5" cy="641.3" r="2.2" fill="#d62728"/>
<circle cx="251.6" cy="696.1" r="2.2" fill="#2ca02c"/>
<circle cx="188.3" cy="687.9" r="2.2" fill="#ff7f0e"/>
<circle cx="246.7" cy="679.2" r="2.2" fill="#2ca02c"/>
<circle cx="108.5" cy="662.4" r="2.2" fill="#1f77b4"/>
<circle cx="119.4" cy="645.3" r="2.2" fill="#1f77b4"/>
<circle cx="594.8" cy="684.5" r="2.2" fill="#d62728"/>
<circle cx="181.5" cy="676.4" r="2.2" fill="#ff7f0e"/>
<circle cx="267.3" cy="719.7" r="2.2" fill="#2ca02c"/>
<circle cx="64.5" cy="644.8" r="2.2" fill="#1f77b4"/>
<circle cx="589.3" cy="670.5" r="2.2" fill="#d62728"/>
<circle cx="80.1" cy="686.6" r="2.2" fill="#1f77b4"/>
<circle cx="555.3" cy="653.3" r="2.2" fill="#2ca02c"/>
<circle cx="430.5" cy="675.3" r="2.2" fill="#1f77b4"/>
<circle cx="447.2" cy="711.7" r="2.2" fill="#1f77b4"/>
<circle cx="138.6" cy="676.2" r="2.2" fill="#1f77b4"/>
<circle cx="338.3" cy="652.3" r="2.2" fill="#d62728"/>
<circle cx="263.7" cy="690.4" r="2.2" fill="#2ca02c"/>
<circle cx="274.6" cy="696.3" r="2.2" fill="#d62728"/>
<circle cx="618.5" cy="677.1" r="2.2" fill="#d62728"/>
<circle cx="337.7" cy="649.7" r="2.2" fill="#d62728"/>
<circle cx="530.8" cy="654.1" r="2.2" fill="#ff7f0e"/>
<circle cx="574.3" cy="648.0" r="2.2" fill="#2ca02c"/>
<circle cx="579.6" cy="647.8" r="2.2" fill="#2ca02c"/>
<circle cx="311.0" cy="680.3" r="2.2" fill="#d62728"/>
<circle cx="336.2" cy="637.6" r="2.2" fill="#d62728"/>
<circle cx="121.8" cy="645.9" r="2.2" fill="#1f77b4"/>
<circle cx="152.5" cy="649.0" r="2.2" fill="#ff7f0e"/>
<circle cx="151.6" cy="692.3" r="2.2" fill="#ff7f0e"/>
<circle cx="436.2" cy="678.8" r="2.2" fill="#1f77b4"/>
<circle cx="155.9" cy="679.3" r="2.2" fill="#ff7f0e"/>
<circle cx="537.2" cy="652.9" r="2.2" fill="#2ca02c"/>
<circle cx="326.7" cy="675.5" r="2.2" fill="#d62728"/>
<circle cx="190.7" cy="643.1" r="2.2" fill="#ff7f0e"/>
<circle cx="125.7" cy="644.1" r="2.2" fill="#1f77b4"/>
<circle cx="301.2" cy="688.0" r="2.2" fill="#d62728"/>
<circle cx="623.9" cy="673.8" r="2.2" fill="#d62728"/>
<circle cx="132.0" cy="670.8" r="2.2" fill="#1f77b4"/>
<circle cx="617.4" cy="684.5" r="2.2" fill="#d62728"/>
<circle cx="543.6" cy="641.5" r="2.2" fill="#2ca02c"/>
<circle cx="400.2" cy="678.9" r="2.2" fill="#1f77b4"/>
<circle cx="281.7" cy="715.9" r="2.2" fill="#d62728"/>
<circle cx="119.6" cy="633.6" r="2.2" fill="#1f77b4"/>
<circle cx="646.9" cy="670.5" r="2.2" fill="#d62728"/>
<circle cx="155.9" cy="648.1" r="2.2" fill="#ff7f0e"/>
<circle cx="272.4" cy="678.7" r="2.2" fill="#d62728"/>
<circle cx="537.4" cy="688.2" r="2.2" fill="#2ca02c"/>
<circle cx="227.7" cy="652.1" r="2.2" fill="#2ca02c"/>
<circle cx="397.4" cy="678.0" r="2.2" fill="#1f77b4"/>
<circle cx="245.9" cy="701.7" r="2.2" fill="#2ca02c"/>
<circle cx="408.2" cy="721.3" r="2.2" fill="#1f77b4"/>
<circle cx="565.0" cy="618.9" r="2.2" fill="#2ca02c"/>
<circle cx="189.1" cy="647.1" r="2.2" fill="#ff7f0e"/>
<circle cx="546.8" cy="676.6" r="2.2" fill="#2ca02c"/>
<circle cx="201.9" cy="647.0" r="2.2" fill="#ff7f0e"/>
<circle cx="64.0" cy="648.6" r="2.2" fill="#1f77b4"/>
<circle cx="127.6" cy="670.4" r="2.2" fill="#1f77b4"/>
<circle cx="397.6" cy="624.3" r="2.2" fill="#1f77b4"/>
<circle cx="291.2" cy="642.8" r="2.2" fill="#d62728"/>
<circle cx="289.2" cy="671.4" r="2.2" fill="#d62728"/>
<circle cx="494.8" cy="679.7" r="2.2" fill="#ff7f0e"/>
<circle cx="618.0" cy="644.6" r="2.2" fill="#d62728"/>
<circle cx="236.6" cy="701.2" r="2.2" fill="#2ca02c"/>
<circle cx="211.5" cy="670.9" r="2.2" fill="#ff7f0e"/>
<circle cx="583.9" cy="678.9" r="2.2" fill="#d62728"/>
<circle cx="555.6" cy="685.2" r="2.2" fill="#2ca02c"/>
<circle cx="137.7" cy="671.4" r="2.2" fill="#1f77b4"/>
<circle cx="203.0" cy="646.0" r="2.2" fill="#ff7f0e"/>
<circle cx="146.0" cy="649.9" r="2.2" fill="#1f77b4"/>
<circle cx="249.7" cy="646.3" r="2.2" fill="#2ca02c"/>
<circle cx="152.7" cy="683.8" r="2.2" fill="#ff7f0e"/>
<circle cx="87.3" cy="676.1" r="2.2" fill="#1f77b4"/>
<circle cx="312.9" cy="640.3" r="2.2" fill="#d62728"/>
<circle cx="580.1" cy="652.9" r="2.2" fill="#2ca02c"/>
<circle cx="408.7" cy="678.8" r="2.2" fill="#1f77b4"/>
<circle cx="335.4" cy="654.1" r="2.2" fill="#d62728"/>
<circle cx="276.5" cy="662.4" r="2.2" fill="#d62728"/>
<circle cx="266.5" cy="696.6" r="2.2" fill="#2ca02c"/>
<circle cx="634.7" cy="677.5" r="2.2" fill="#d62728"/>
<circle cx="616.3" cy="677.3" r="2.2" fill="#d62728"/>
<circle cx="596.8" cy="683.8" r="2.2" fill="#d62728"/>
<circle cx="263.7" cy="642.4" r="2.2" fill="#2ca02c"/>
<circle cx="645.1" cy="674.6" r="2.2" fill="#d62728"/>
<circle cx="291.5" cy="640.2" r="2.2" fill="#d62728"/>
<circle cx="410.0" cy="647.3" r="2.2" fill="#1f77b4"/>
<circle cx="232.5" cy="714.9" r="2.2" fill="#2ca02c"/>
<circle cx="647.9" cy="678.4" r="2.2" fill="#d62728"/>
<circle cx="256.2" cy="686.9" r="2.2" fill="#2ca02c"/>
<circle cx="565.5" cy="680.6" r="2.2" fill="#2ca02c"/>
<circle cx="511.0" cy="682.9" r="2.2" fill="#ff7f0e"/>
<circle cx="569.1" cy="674.3" r="2.2" fill="#2ca02c"/>
<circle cx="331.2" cy="684.5" r="2.2" fill="#d62728"/>
<circle cx="466.8" cy="645.5" r="2.2" fill="#ff7f0e"/>
<circle cx="241.4" cy="654.2" r="2.2" fill="#2ca02c"/>
<circle cx="246.9" cy="632.4" r="2.2" fill="#2ca02c"/>
<circle cx="83.7" cy="686.8" r="2.2" fill="#1f77b4"/>
<circle cx="244.5" cy="714.2" r="2.2" fill="#2ca02c"/>
<circle cx="257.0" cy="679.8" r="2.2" fill="#2ca02c"/>
<circle cx="201.1" cy="645.4" r="2.2" fill="#ff7f0e"/>
<circle cx="320.4" cy="647.4" r="2.2" fill="#d62728"/>
<circle cx="289.2" cy="679.4" r="2.2" fill="#d62728"/>
<circle cx="286.8" cy="642.2" r="2.2" fill="#d62728"/>
<circle cx="432.3" cy="648.2" r="2.2" fill="#1f77b4"/>
<circle cx="540.3" cy="671.9" r="2.2" fill="#2ca02c"/>
<circle cx="478.5" cy="651.1" r="2.2" fill="#ff7f0e"/>
<circle cx="492.0" cy="674.9" r="2.2" fill="#ff7f0e"/>
<circle cx="494.9" cy="650.1" r="2.2" fill="#ff7f0e"/>
<circle cx="64.1" cy="652.8" r="2.2" fill="#1f77b4"/>
<circle cx="155.5" cy="639.1" r="2.2" fill="#ff7f0e"/>
<circle cx="223.9" cy="643.9" r="2.2" fill="#2ca02c"/>
<circle cx="154.6" cy="671.5" r="2.2" fill="#ff7f0e"/>
<circle cx="571.4" cy="689.4" r="2.2" fill="#2ca02c"/>
<circle cx="194.4" cy="662.4" r="2.2" fill="#ff7f0e"/>
<circle cx="300.7" cy="670.6" r="2.2" fill="#d62728"/>
<circle cx="121.6" cy="641.1" r="2.2" fill="#1f77b4"/>
<circle cx="229.1" cy="675.9" r="2.2" fill="#2ca02c"/>
<circle cx="376.7" cy="652.3" r="2.2" fill="#1f77b4"/>
<circle cx="275.1" cy="646.7" r="2.2" fill="#d62728"/>
<circle cx="213.5" cy="689.6" r="2.2" fill="#ff7f0e"/>
<circle cx="589.5" cy="649.7" r="2.2" fill="#d62728"/>
<circle cx="551.1" cy="678.0" r="2.2" fill="#2ca02c"/>
<circle cx="199.1" cy="654.2" r="2.2" fill="#ff7f0e"/>
<circle cx="404.0" cy="670.5" r="2.2" fill="#1f77b4"/>
<circle cx="418.6" cy="670.6" r="2.2" fill="#1f77b4"/>
<circle cx="455.0" cy="671.8" r="2.2" fill="#1f77b4"/>
<circle cx="543.4" cy="703.1" r="2.2" fill="#2ca02c"/>
<circle cx="613.3" cy="709.6" r="2.2" fill="#d62728"/>
<circle cx="260.5" cy="675.0" r="2.2" fill="#2ca02c"/>
<circle cx="530.5" cy="699.6" r="2.2" fill="#2ca02c"/>
<circle cx="455.1" cy="672.6" r="2.2" fill="#1f77b4"/>
<circle cx="133.2" cy="662.4" r="2.2" fill="#1f77b4"/>
<circle cx="588.5" cy="644.5" r="2.2" fill="#d62728"/>
<circle cx="330.4" cy="662.4" r="2.2" fill="#d62728"/>
<circle cx="234.7" cy="680.8" r="2.2" fill="#2ca02c"/>
<circle cx="604.3" cy="649.1" r="2.2" fill="#d62728"/>
<circle cx="305.1" cy="645.9" r="2.2" fill="#d62728"/>
<circle cx="307.1" cy="641.3" r="2.2" fill="#d62728"/>
<circle cx="449.5" cy="692.5" r="2.2" fill="#1f77b4"/>
<circle cx="383.7" cy="625.3" r="2.2" fill="#1f77b4"/>
<circle cx="295.0" cy="671.5" r="2.2" fill="#d62728"/>
<circle cx="93.7" cy="653.3" r="2.2" fill="#1f77b4"/>
<circle cx="173.7" cy="652.3" r="2.2" fill="#ff7f0e"/>
<circle cx="183.0" cy="675.7" r="2.2" fill="#ff7f0e"/>
<circle cx="191.7" cy="671.8" r="2.2" fill="#ff7f0e"/>
<circle cx="189.8" cy="690.4" r="2.2" fill="#ff7f0e"/>
<circle cx="332.2" cy="711.8" r="2.2" fill="#d62728"/>
<circle cx="300.3" cy="676.6" r="2.2" fill="#d62728"/>
<circle cx="413.9" cy="650.5" r="2.2" fill="#1f77b4"/>
<circle cx="213.7" cy="652.8" r="2.2" fill="#ff7f0e"/>
<circle cx="243.7" cy="674.8" r="2.2" fill="#2ca02c"/>
<circle cx="282.0" cy="662.4" r="2.2" fill="#d62728"/>
<circle cx="388.5" cy="640.4" r="2.2" fill="#1f77b4"/>
<circle cx="252.0" cy="696.3" r="2.2" fill="#2ca02c"/>
<circle cx="132.8" cy="671.4" r="2.2" fill="#1f77b4"/>
<circle cx="221.3" cy="675.2" r="2.2" fill="#2ca02c"/>
<circle cx="641.8" cy="683.5" r="2.2" fill="#d62728"/>
<circle cx="207.5" cy="641.2" r="2.2" fill="#ff7f0e"/>
<circle cx="425.2" cy="694.9" r="2.2" fill="#1f77b4"/>
<circle cx="374.7" cy="680.0" r="2.2" fill="#1f77b4"/>
<circle cx="328.0" cy="713.9" r="2.2" fill="#d62728"/>
<circle cx="514.6" cy="654.3" r="2.2" fill="#ff7f0e"/>
<circle cx="248.5" cy="634.2" r="2.2" fill="#2ca02c"/>
<circle cx="200.3" cy="677.0" r="2.2" fill="#ff7f0e"/>
<circle cx="113.6" cy="672.9" r="2.2" fill="#1f77b4"/>
<circle cx="275.3" cy="632.9" r="2.2" fill="#d62728"/>
<circle cx="243.2" cy="641.7" r="2.2" fill="#2ca02c"/>
<circle cx="304.1" cy="653.2" r="2.2" fill="#d62728"/>
<circle cx="221.5" cy="675.2" r="2.2" fill="#2ca02c"/>
<circle cx="389.2" cy="633.2" r="2.2" fill="#1f77b4"/>
<circle cx="165.9" cy="654.1" r="2.2" fill="#ff7f0e"/>
<circle cx="211.7" cy="662.4" r="2.2" fill="#ff7f0e"/>
<circle cx="280.8" cy="686.0" r="2.2" fill="#d62728"/>
<circle cx="63.3" cy="646.6" r="2.2" fill="#1f77b4"/>
<circle cx="601.3" cy="651.1" r="2.2" fill="#d62728"/>
<circle cx="161.5" cy="650.4" r="2.2" fill="#ff7f0e"/>
<circle cx="83.2" cy="616.0" r="2.2" fill="#1f77b4"/>
<circle cx="233.8" cy="646.9" r="2.2" fill="#2ca02c"/>
<circle cx="155.0" cy="678.5" r="2.2" fill="#ff7f0e"/>
<circle cx="294.4" cy="662.4" r="2.2" fill="#d62728"/>
<circle cx="238.3" cy="679.4" r="2.2" fill="#2ca02c"/>
<circle cx="580.9" cy="644.9" r="2.2" fill="#2ca02c"/>
<circle cx="165.9" cy="653.9" r="2.2" fill="#ff7f0e"/>
<circle cx="95.8" cy="674.8" r="2.2" fill="#1f77b4"/>
<circle cx="129.3" cy="648.1" r="2.2" fill="#1f77b4"/>
<circle cx="397.9" cy="650.4" r="2.2" fill="#1f77b4"/>
<circle cx="80.8" cy="652.8" r="2.2" fill="#1f77b4"/>
<circle cx="301.4" cy="671.1" r="2.2" fill="#d62728"/>
<circle cx="87.3" cy="681.8" r="2.2" fill="#1f77b4"/>
<circle cx="236.0" cy="640.6" r="2.2" fill="#2ca02c"/>
<circle cx="92.3" cy="651.2" r="2.2" fill="#1f77b4"/>
<circle cx="334.7" cy="641.5" r="2.2" fill="#d62728"/>
<circle cx="574.4" cy="649.5" r="2.2" fill="#2ca02c"/>
<circle cx="381.7" cy="679.6" r="2.2" fill="#1f77b4"/>
<circle cx="173.0" cy="671.9" r="2.2" fill="#ff7f0e"/>
<circle cx="82.9" cy="674.4" r="2.2" fill="#1f77b4"/>
<circle cx="159.3" cy="673.1" r="2.2" fill="#ff7f0e"/>
<circle cx="382.8" cy="700.0" r="2.2" fill="#1f77b4"/>
<circle cx="638.8" cy="649.3" r="2.2" fill="#d62728"/>
<circle cx="370.7" cy="671.0" r="2.2" fill="#1f77b4"/>
<circle cx="408.5" cy="677.6" r="2.2" fill="#1f77b4"/>
<circle cx="72.8" cy="619.1" r="2.2" fill="#1f77b4"/>
<circle cx="322.9" cy="681.5" r="2.2" fill="#d62728"/>
<circle cx="153.4" cy="674.1" r="2.2" fill="#ff7f0e"/>
<circle cx="196.4" cy="677.2" r="2.2" fill="#ff7f0e"/>
<circle cx="593.8" cy="644.0" r="2.2" fill="#d62728"/>
<circle cx="338.0" cy="673.5" r="2.2" fill="#d62728"/>
<circle cx="372.7" cy="648.3" r="2.2" fill="#1f77b4"/>
<circle cx="204.2" cy="675.4" r="2.2" fill="#ff7f0e"/>
<circle cx="397.2" cy="651.8" r="2.2" fill="#1f77b4"/>
<circle cx="609.7" cy="679.8" r="2.2" fill="#d62728"/>
<circle cx="243.6" cy="691.4" r="2.2" fill="#2ca02c"/>
<circle cx="207.2" cy="702.8" r="2.2" fill="#ff7f0e"/>
<circle cx="468.0" cy="684.0" r="2.2" fill="#ff7f0e"/>
<circle cx="103.0" cy="684.1" r="2.2" fill="#1f77b4"/>
<circle cx="186.6" cy="676.5" r="2.2" fill="#ff7f0e"/>
<circle cx="217.9" cy="641.7" r="2.2" fill="#ff7f0e"/>
<circle cx="250.0" cy="662.4" r="2.2" fill="#2ca02c"/>
<circle cx="260.8" cy="639.6" r="2.2" fill="#2ca02c"/>
<circle cx="545.0" cy="683.0" r="2.2" fill="#2ca02c"/>
<circle cx="418.0" cy="641.6" r="2.2" fill="#1f77b4"/>
<circle cx="205.3" cy="688.1" r="2.2" fill="#ff7f0e"/>
<circle cx="284.2" cy="647.0" r="2.2" fill="#d62728"/>
<circle cx="578.3" cy="676.9" r="2.2" fill="#2ca02c"/>
<circle cx="305.4" cy="662.4" r="2.2" fill="#d62728"/>
<circle cx="252.8" cy="670.7" r="2.2" fill="#2ca02c"/>
<circle cx="193.6" cy="620.7" r="2.2" fill="#ff7f0e"/>
<circle cx="322.8" cy="676.4" r="2.2" fill="#d62728"/>
<circle cx="179.3" cy="647.6" r="2.2" fill="#ff7f0e"/>
<circle cx="207.4" cy="650.0" r="2.2" fill="#ff7f0e"/>
<circle cx="429.8" cy="647.8" r="2.2" fill="#1f77b4"/>
<circle cx="161.5" cy="677.4" r="2.2" fill="#ff7f0e"/>
<circle cx="123.6" cy="679.3" r="2.2" fill="#1f77b4"/>
<circle cx="317.3" cy="634.5" r="2.2" fill="#d62728"/>
<circle cx="564.2" cy="674.0" r="2.2" fill="#2ca02c"/>
<circle cx="303.9" cy="649.6" r="2.2" fill="#d62728"/>
<circle cx="245.7" cy="654.4" r="2.2" fill="#2ca02c"/>
<circle cx="97.9" cy="686.7" r="2.2" fill="#1f77b4"/>
<circle cx="333.3" cy="662.4" r="2.2" fill="#d62728"/>
<circle cx="230.7" cy="696.9" r="2.2" fill="#2ca02c"/>
<circle cx="550.3" cy="670.5" r="2.2" fill="#2ca02c"/>
<circle cx="299.3" cy="674.2" r="2.2" fill="#d62728"/>
<circle cx="572.2" cy="690.9" r="2.2" fill="#2ca02c"/>
<circle cx="626.4" cy="653.7" r="2.2" fill="#d62728"/>
<circle cx="160.2" cy="646.6" r="2.2" fill="#ff7f0e"/>
<circle cx="335.4" cy="647.2" r="2.2" fill="#d62728"/>
<circle cx="197.7" cy="685.4" r="2.2" fill="#ff7f0e"/>
<circle cx="538.4" cy="654.2" r="2.2" fill="#2ca02c"/>
<circle cx="164.0" cy="692.4" r="2.2" fill="#ff7f0e"/>
<circle cx="63.8" cy="654.2" r="2.2" fill="#1f77b4"/>
<circle cx="237.4" cy="685.4" r="2.2" fill="#2ca02c"/>
<circle cx="255.7" cy="640.6" r="2.2" fill="#2ca02c"/>
<circle cx="388.9" cy="652.0" r="2.2" fill="#1f77b4"/>
<circle cx="209.6" cy="681.1" r="2.2" fill="#ff7f0e"/>
<circle cx="330.8" cy="685.8" r="2.2" fill="#d62728"/>
<circle cx="247.8" cy="631.0" r="2.2" fill="#2ca02c"/>
<circle cx="202.0" cy="680.6" r="2.2" fill="#ff7f0e"/>
<circle cx="167.8" cy="662.4" r="2.2" fill="#ff7f0e"/>
<circle cx="587.5" cy="677.6" r="2.2" fill="#d62728"/>
<circle cx="282.0" cy="673.0" r="2.2" fill="#d62728"/>
<circle cx="224.3" cy="672.7" r="2.2" fill="#2ca02c"/>
<circle cx="175.3" cy="678.1" r="2.2" fill="#ff7f0e"/>
<circle cx="133.6" cy="679.2" r="2.2" fill="#1f77b4"/>
<circle cx="316.0" cy="644.2" r="2.2" fill="#d62728"/>
<circle cx="639.5" cy="679.6" r="2.2" fill="#d62728"/>
<circle cx="587.6" cy="671.0" r="2.2" fill="#d62728"/>
<circle cx="412.5" cy="652.3" r="2.2" fill="#1f77b4"/>
<circle cx="190.5" cy="692.1" r="2.2" fill="#ff7f0e"/>
<circle cx="245.4" cy="691.4" r="2.2" fill="#2ca02c"/>
<circle cx="280.8" cy="686.8" r="2.2" fill="#d62728"/>
<circle cx="590.0" cy="653.3" r="2.2" fill="#d62728"/>
<circle cx="132.1" cy="626.5" r="2.2" fill="#1f77b4"/>
<circle cx="503.3" cy="678.8" r="2.2" fill="#ff7f0e"/>
<circle cx="198.3" cy="647.9" r="2.2" fill="#ff7f0e"/>
<circle cx="593.4" cy="645.3" r="2.2" fill="#d62728"/>
<circle cx="385.8" cy="680.2" r="2.2" fill="#1f77b4"/>
<circle cx="169.6" cy="671.6" r="2.2" fill="#ff7f0e"/>
<circle cx="81.6" cy="624.9" r="2.2" fill="#1f77b4"/>
<circle cx="330.5" cy="649.8" r="2.2" fill="#d62728"/>
<circle cx="286.4" cy="684.1" r="2.2" fill="#d62728"/>
<circle cx="505.4" cy="675.9" r="2.2" fill="#ff7f0e"/>
<circle cx="145.7" cy="674.6" r="2.2" fill="#1f77b4"/>
<circle cx="604.7" cy="647.1" r="2.2" fill="#d62728"/>
<circle cx="125.9" cy="674.8" r="2.2" fill="#1f77b4"/>
<circle cx="281.0" cy="633.3" r="2.2" fill="#d62728"/>
<circle cx="128.4" cy="646.4" r="2.2" fill="#1f77b4"/>
<circle cx="591.1" cy="651.9" r="2.2" fill="#d62728"/>
<circle cx="289.8" cy="649.5" r="2.2" fill="#d62728"/>
<circle cx="99.7" cy="673.6" r="2.2" fill="#1f77b4"/>
<circle cx="122.9" cy="654.1" r="2.2" fill="#1f77b4"/>
<circle cx="323.7" cy="674.2" r="2.2" fill="#d62728"/>
<circle cx="260.3" cy="662.4" r="2.2" fill="#2ca02c"/>
<circle cx="225.8" cy="676.2" r="2.2" fill="#2ca02c"/>
<circle cx="415.6" cy="654.1" r="2.2" fill="#1f77b4"/>
<circle cx="167.2" cy="680.2" r="2.2" fill="#ff7f0e"/>
<circle cx="331.9" cy="682.5" r="2.2" fill="#d62728"/>
<circle cx="624.6" cy="646.8" r="2.2" fill="#d62728"/>
<circle cx="71.0" cy="687.0" r="2.2" fill="#1f77b4"/>
<circle cx="307.0" cy="674.0" r="2.2" fill="#d62728"/>
<circle cx="309.2" cy="697.0" r="2.2" fill="#d62728"/>
<circle cx="150.8" cy="653.1" r="2.2" fill="#ff7f0e"/>
<circle cx="82.0" cy="671.2" r="2.2" fill="#1f77b4"/>
<circle cx="442.4" cy="647.1" r="2.2" fill="#1f77b4"/>
<circle cx="208.9" cy="640.5" r="2.2" fill="#ff7f0e"/>
<circle cx="447.3" cy="679.5" r="2.2" fill="#1f77b4"/>
<circle cx="77.1" cy="643.9" r="2.2" fill="#1f77b4"/>
<circle cx="72.1" cy="650.2" r="2.2" fill="#1f77b4"/>
<circle cx="593.5" cy="719.2" r="2.2" fill="#d62728"/>
<circle cx="191.4" cy="646.4" r="2.2" fill="#ff7f0e"/>
<circle cx="176.4" cy="682.3" r="2.2" fill="#ff7f0e"/>
<circle cx="226.9" cy="682.6" r="2.2" fill="#2ca02c"/>
<circle cx="320.9" cy="676.8" r="2.2" fill="#d62728"/>
<circle cx="130.3" cy="679.5" r="2.2" fill="#1f77b4"/>
<circle cx="182.0" cy="671.4" r="2.2" fill="#ff7f0e"/>
<circle cx="638.6" cy="653.7" r="2.2" fill="#d62728"/>
<circle cx="176.5" cy="653.1" r="2.2" fill="#ff7f0e"/>
<circle cx="405.5" cy="654.2" r="2.2" fill="#1f77b4"/>
<circle cx="155.0" cy="670.9" r="2.2" fill="#ff7f0e"/>
<circle cx="284.9" cy="662.4" r="2.2" fill="#d62728"/>
<circle cx="67.6" cy="639.8" r="2.2" fill="#1f77b4"/>
<circle cx="125.2" cy="707.7" r="2.2" fill="#1f77b4"/>
<circle cx="395.7" cy="653.0" r="2.2" fill="#1f77b4"/>
<circle cx="448.7" cy="672.3" r="2.2" fill="#1f77b4"/>
<circle cx="288.5" cy="729.2" r="2.2" fill="#d62728"/>
<circle cx="529.8" cy="685.2" r="2.2" fill="#ff7f0e"/>
<circle cx="286.7" cy="682.5" r="2.2" fill="#d62728"/>
<circle cx="557.1" cy="652.4" r="2.2" fill="#2ca02c"/>
<circle cx="289.4" cy="707.2" r="2.2" fill="#d62728"/>
<circle cx="291.3" cy="635.1" r="2.2" fill="#d62728"/>
<circle cx="297.3" cy="662.4" r="2.2" fill="#d62728"/>
<circle cx="527.4" cy="684.7" r="2.2" fill="#ff7f0e"/>
<circle cx="415.5" cy="677.5" r="2.2" fill="#1f77b4"/>
<circle cx="88.1" cy="662.4" r="2.2" fill="#2ca02c"/>
<circle cx="469.0" cy="646.6" r="2.2" fill="#ff7f0e"/>
<circle cx="393.3" cy="622.3" r="2.2" fill="#1f77b4"/>
<circle cx="268.3" cy="671.3" r="2.2" fill="#2ca02c"/>
<circle cx="192.7" cy="652.5" r="2.2" fill="#ff7f0e"/>
<circle cx="243.9" cy="647.6" r="2.2" fill="#2ca02c"/>
<circle cx="283.8" cy="731.3" r="2.2" fill="#d62728"/>
<circle cx="334.3" cy="673.5" r="2.2" fill="#d62728"/>
<circle cx="536.4" cy="651.9" r="2.2" fill="#2ca02c"/>
<circle cx="158.2" cy="693.4" r="2.2" fill="#ff7f0e"/>
<circle cx="286.0" cy="651.4" r="2.2" fill="#d62728"/>
<circle cx="334.2" cy="650.6" r="2.2" fill="#d62728"/>
<circle cx="175.6" cy="693.1" r="2.2" fill="#ff7f0e"/>
<circle cx="338.8" cy="642.7" r="2.2" fill="#d62728"/>
<circle cx="108.8" cy="646.6" r="2.2" fill="#1f77b4"/>
<circle cx="327.9" cy="670.5" r="2.2" fill="#d62728"/>
<circle cx="314.7" cy="635.8" r="2.2" fill="#d62728"/>
<circle cx="66.1" cy="672.8" r="2.2" fill="#1f77b4"/>
<circle cx="144.4" cy="613.0" r="2.2" fill="#1f77b4"/>
<circle cx="155.4" cy="652.9" r="2.2" fill="#ff7f0e"/>
<circle cx="252.0" cy="637.1" r="2.2" fill="#2ca02c"/>
<circle cx="223.3" cy="673.6" r="2.2" fill="#2ca02c"/>
<circle cx="169.4" cy="671.4" r="2.2" fill="#ff7f0e"/>
<circle cx="219.2" cy="648.1" r="2.2" fill="#ff7f0e"/>
<circle cx="255.7" cy="637.0" r="2.2" fill="#2ca02c"/>
<circle cx="462.6" cy="687.9" r="2.2" fill="#1f77b4"/>
<circle cx="457.6" cy="672.0" r="2.2" fill="#1f77b4"/>
<circle cx="305.0" cy="638.2" r="2.2" fill="#d62728"/>
<circle cx="292.6" cy="638.4" r="2.2" fill="#d62728"/>
<circle cx="526.2" cy="651.2" r="2.2" fill="#ff7f0e"/>
<circle cx="263.3" cy="682.0" r="2.2" fill="#2ca02c"/>
<circle cx="623.5" cy="681.0" r="2.2" fill="#d62728"/>
<circle cx="252.0" cy="690.6" r="2.2" fill="#2ca02c"/>
<circle cx="256.5" cy="719.5" r="2.2" fill="#2ca02c"/>
<circle cx="201.8" cy="690.6" r="2.2" fill="#ff7f0e"/>
<circle cx="157.5" cy="653.9" r="2.2" fill="#ff7f0e"/>
<circle cx="323.2" cy="676.8" r="2.2" fill="#d62728"/>
<circle cx="181.6" cy="682.8" r="2.2" fill="#ff7f0e"/>
<circle cx="203.9" cy="675.9" r="2.2" fill="#ff7f0e"/>
<circle cx="296.7" cy="693.9" r="2.2" fill="#d62728"/>
<circle cx="467.9" cy="672.2" r="2.2" fill="#ff7f0e"/>
<circle cx="516.9" cy="675.0" r="2.2" fill="#ff7f0e"/>
<circle cx="179.9" cy="696.5" r="2.2" fill="#ff7f0e"/>
<circle cx="139.6" cy="653.7" r="2.2" fill="#1f77b4"/>
<circle cx="264.7" cy="635.3" r="2.2" fill="#2ca02c"/>
<circle cx="576.2" cy="645.6" r="2.2" fill="#2ca02c"/>
<circle cx="517.6" cy="651.4" r="2.2" fill="#ff7f0e"/>
<circle cx="517.6" cy="670.9" r="2.2" fill="#ff7f0e"/>
<circle cx="283.5" cy="651.6" r="2.2" fill="#d62728"/>
<circle cx="475.0" cy="652.2" r="2.2" fill="#ff7f0e"/>
<circle cx="545.8" cy="684.5" r="2.2" fill="#2ca02c"/>
<circle cx="382.1" cy="671.3" r="2.2" fill="#1f77b4"/>
<circle cx="535.6" cy="654.3" r="2.2" fill="#2ca02c"/>
<circle cx="459.5" cy="680.1" r="2.2" fill="#1f77b4"/>
<circle cx="131.4" cy="675.4" r="2.2" fill="#1f77b4"/>
<circle cx="295.4" cy="671.8" r="2.2" fill="#d62728"/>
<circle cx="125.0" cy="688.5" r="2.2" fill="#1f77b4"/>
<circle cx="175.0" cy="679.8" r="2.2" fill="#ff7f0e"/>
<circle cx="227.0" cy="652.1" r="2.2" fill="#2ca02c"/>
<circle cx="228.9" cy="662.4" r="2.2" fill="#d62728"/>
<circle cx="539.3" cy="671.1" r="2.2" fill="#2ca02c"/>
<circle cx="321.0" cy="677.9" r="2.2" fill="#d62728"/>
<circle cx="223.9" cy="673.6" r="2.2" fill="#2ca02c"/>
<circle cx="527.8" cy="654.1" r="2.2" fill="#ff7f0e"/>
<circle cx="191.4" cy="662.4" r="2.2" fill="#2ca02c"/>
<circle cx="158.1" cy="678.8" r="2.2" fill="#ff7f0e"/>
<circle cx="335.5" cy="643.3" r="2.2" fill="#d62728"/>
<circle cx="205.6" cy="662.4" r="2.2" fill="#ff7f0e"/>
<circle cx="168.8" cy="654.1" r="2.2" fill="#ff7f0e"/>
<circle cx="191.5" cy="653.8" r="2.2" fill="#ff7f0e"/>
<circle cx="316.0" cy="679.3" r="2.2" fill="#d62728"/>
<circle cx="242.9" cy="683.3" r="2.2" fill="#2ca02c"/>
<circle cx="332.0" cy="647.5" r="2.2" fill="#d62728"/>
<circle cx="239.5" cy="688.5" r="2.2" fill="#2ca02c"/>
<circle cx="84.6" cy="681.2" r="2.2" fill="#1f77b4"/>
<circle cx="425.0" cy="678.3" r="2.2" fill="#1f77b4"/>
<circle cx="376.0" cy="651.7" r="2.2" fill="#1f77b4"/>
<circle cx="179.7" cy="649.7" r="2.2" fill="#ff7f0e"/>
<circle cx="183.1" cy="684.4" r="2.2" fill="#ff7f0e"/>
<circle cx="380.3" cy="675.7" r="2.2" fill="#1f77b4"/>
<circle cx="79.7" cy="645.3" r="2.2" fill="#1f77b4"/>
<circle cx="288.8" cy="671.8" r="2.2" fill="#d62728"/>
<circle cx="204.0" cy="652.6" r="2.2" fill="#ff7f0e"/>
<circle cx="292.6" cy="684.0" r="2.2" fill="#d62728"/>
<circle cx="250.2" cy="673.6" r="2.2" fill="#2ca02c"/>
<circle cx="425.9" cy="674.2" r="2.2" fill="#1f77b4"/>
<circle cx="76.7" cy="654.2" r="2.2" fill="#1f77b4"/>
<circle cx="447.5" cy="646.0" r="2.2" fill="#1f77b4"/>
<circle cx="203.8" cy="647.9" r="2.2" fill="#ff7f0e"/>
<circle cx="279.6" cy="690.1" r="2.2" fill="#d62728"/>
<circle cx="498.5" cy="622.3" r="2.2" fill="#2ca02c"/>
<circle cx="235.2" cy="640.2" r="2.2" fill="#2ca02c"/>
<circle cx="253.9" cy="673.9" r="2.2" fill="#2ca02c"/>
<circle cx="170.3" cy="652.0" r="2.2" fill="#ff7f0e"/>
<circle cx="203.3" cy="679.4" r="2.2" fill="#ff7f0e"/>
<circle cx="648.1" cy="650.6" r="2.2" fill="#d62728"/>
<circle cx="266.6" cy="681.6" r="2.2" fill="#2ca02c"/>
<circle cx="472.5" cy="682.8" r="2.2" fill="#ff7f0e"/>
<circle cx="226.4" cy="662.4" r="2.2" fill="#2ca02c"/>
<circle cx="592.6" cy="684.6" r="2.2" fill="#d62728"/>
<circle cx="607.7" cy="645.3" r="2.2" fill="#d62728"/>
<circle cx="111.0" cy="662.4" r="2.2" fill="#1f77b4"/>
<circle cx="255.7" cy="680.3" r="2.2" fill="#2ca02c"/>
<circle cx="147.1" cy="673.3" r="2.2" fill="#1f77b4"/>
<circle cx="185.1" cy="670.8" r="2.2" fill="#ff7f0e"/>
<circle cx="613.5" cy="649.6" r="2.2" fill="#d62728"/>
<circle cx="458.8" cy="649.1" r="2.2" fill="#1f77b4"/>
<circle cx="447.3" cy="678.9" r="2.2" fill="#1f77b4"/>
<circle cx="142.5" cy="686.8" r="2.2" fill="#1f77b4"/>
<circle cx="204.0" cy="640.9" r="2.2" fill="#ff7f0e"/>
<circle cx="74.1" cy="662.4" r="2.2" fill="#1f77b4"/>
<circle cx="226.3" cy="644.4" r="2.2" fill="#2ca02c"/>
<circle cx="186.9" cy="640.3" r="2.2" fill="#ff7f0e"/>
<circle cx="482.7" cy="679.4" r="2.2" fill="#ff7f0e"/>
<circle cx="421.5" cy="653.4" r="2.2" fill="#1f77b4"/>
<circle cx="251.3" cy="716.9" r="2.2" fill="#2ca02c"/>
<circle cx="200.6" cy="681.8" r="2.2" fill="#ff7f0e"/>
<circle cx="226.1" cy="633.0" r="2.2" fill="#2ca02c"/>
<circle cx="490.8" cy="648.2" r="2.2" fill="#ff7f0e"/>
<circle cx="252.2" cy="695.9" r="2.2" fill="#2ca02c"/>
<circle cx="146.2" cy="662.4" r="2.2" fill="#1f77b4"/>
<circle cx="85.4" cy="677.4" r="2.2" fill="#1f77b4"/>
<circle cx="117.1" cy="623.6" r="2.2" fill="#1f77b4"/>
<circle cx="260.8" cy="652.7" r="2.2" fill="#2ca02c"/>
<circle cx="307.1" cy="650.8" r="2.2" fill="#d62728"/>
<circle cx="637.6" cy="646.9" r="2.2" fill="#d62728"/>
<circle cx="123.6" cy="671.4" r="2.2" fill="#1f77b4"/>
<circle cx="540.5" cy="679.4" r="2.2" fill="#2ca02c"/>
<circle cx="71.2" cy="670.6" r="2.2" fill="#1f77b4"/>
<circle cx="189.5" cy="619.6" r="2.2" fill="#2ca02c"/>
<circle cx="516.5" cy="654.0" r="2.2" fill="#ff7f0e"/>
<circle cx="163.0" cy="671.2" r="2.2" fill="#ff7f0e"/>
<circle cx="209.6" cy="671.6" r="2.2" fill="#ff7f0e"/>
<circle cx="165.6" cy="680.7" r="2.2" fill="#ff7f0e"/>
<circle cx="138.9" cy="670.4" r="2.2" fill="#1f77b4"/>
<circle cx="83.0" cy="673.9" r="2.2" fill="#1f77b4"/>
<circle cx="93.7" cy="644.8" r="2.2" fill="#1f77b4"/>
<circle cx="424.4" cy="671.5" r="2.2" fill="#1f77b4"/>
<circle cx="400.1" cy="671.7" r="2.2" fill="#1f77b4"/>
<circle cx="324.9" cy="673.6" r="2.2" fill="#d62728"/>
<circle cx="442.4" cy="679.7" r="2.2" fill="#1f77b4"/>
<circle cx="72.2" cy="645.5" r="2.2" fill="#1f77b4"/>
<circle cx="589.5" cy="680.4" r="2.2" fill="#d62728"/>
<circle cx="172.1" cy="654.3" r="2.2" fill="#ff7f0e"/>
<circle cx="257.7" cy="670.7" r="2.2" fill="#2ca02c"/>
<circle cx="610.5" cy="683.0" r="2.2" fill="#d62728"/>
<circle cx="612.6" cy="642.3" r="2.2" fill="#d62728"/>
<circle cx="468.1" cy="648.4" r="2.2" fill="#ff7f0e"/>
<circle cx="566.1" cy="643.2" r="2.2" fill="#2ca02c"/>
<circle cx="430.7" cy="675.9" r="2.2" fill="#1f77b4"/>
<circle cx="284.9" cy="691.4" r="2.2" fill="#d62728"/>
<circle cx="76.9" cy="690.2" r="2.2" fill="#1f77b4"/>
<circle cx="200.2" cy="650.7" r="2.2" fill="#ff7f0e"/>
<circle cx="378.0" cy="645.3" r="2.2" fill="#1f77b4"/>
<circle cx="278.4" cy="652.0" r="2.2" fill="#d62728"/>
<circle cx="330.8" cy="702.7" r="2.2" fill="#d62728"/>
<circle cx="115.0" cy="628.3" r="2.2" fill="#1f77b4"/>
<circle cx="245.3" cy="697.8" r="2.2" fill="#2ca02c"/>
<circle cx="205.6" cy="680.9" r="2.2" fill="#ff7f0e"/>
<circle cx="255.1" cy="679.0" r="2.2" fill="#2ca02c"/>
<circle cx="87.7" cy="705.7" r="2.2" fill="#1f77b4"/>
<circle cx="451.2" cy="684.0" r="2.2" fill="#1f77b4"/>
<circle cx="86.9" cy="649.5" r="2.2" fill="#1f77b4"/>
<circle cx="322.2" cy="662.4" r="2.2" fill="#d62728"/>
<circle cx="263.0" cy="662.4" r="2.2" fill="#2ca02c"/>
<circle cx="239.1" cy="653.0" r="2.2" fill="#2ca02c"/>
<circle cx="268.2" cy="650.2" r="2.2" fill="#2ca02c"/>
<circle cx="100.5" cy="626.2" r="2.2" fill="#1f77b4"/>
<circle cx="111.9" cy="681.0" r="2.2" fill="#1f77b4"/>
<circle cx="177.3" cy="653.4" r="2.2" fill="#ff7f0e"/>
<circle cx="255.5" cy="651.9" r="2.2" fill="#2ca02c"/>
<circle cx="509.4" cy="650.0" r="2.2" fill="#ff7f0e"/>
<circle cx="229.5" cy="674.5" r="2.2" fill="#2ca02c"/>
<circle cx="156.6" cy="651.4" r="2.2" fill="#ff7f0e"/>
<circle cx="164.7" cy="662.4" r="2.2" fill="#ff7f0e"/>
<circle cx="585.9" cy="680.9" r="2.2" fill="#d62728"/>
<circle cx="582.3" cy="647.0" r="2.2" fill="#2ca02c"/>
<circle cx="431.7" cy="651.0" r="2.2" fill="#1f77b4"/>
<circle cx="315.9" cy="662.4" r="2.2" fill="#d62728"/>
<circle cx="274.1" cy="635.3" r="2.2" fill="#d62728"/>
<circle cx="531.6" cy="671.3" r="2.2" fill="#2ca02c"/>
<circle cx="125.1" cy="653.2" r="2.2" fill="#1f77b4"/>
<circle cx="125.6" cy="671.9" r="2.2" fill="#1f77b4"/>
<circle cx="253.2" cy="651.7" r="2.2" fill="#2ca02c"/>
<circle cx="226.2" cy="654.4" r="2.2" fill="#2ca02c"/>
<circle cx="233.2" cy="674.9" r="2.2" fill="#2ca02c"/>
<circle cx="300.6" cy="634.3" r="2.2" fill="#d62728"/>
<circle cx="93.2" cy="662.4" r="2.2" fill="#1f77b4"/>
<circle cx="306.0" cy="672.3" r="2.2" fill="#d62728"/>
<circle cx="394.2" cy="670.6" r="2.2" fill="#1f77b4"/>
<circle cx="254.4" cy="720.4" r="2.2" fill="#2ca02c"/>
<circle cx="621.1" cy="635.1" r="2.2" fill="#d62728"/>
<circle cx="184.3" cy="662.4" r="2.2" fill="#ff7f0e"/>
<circle cx="145.9" cy="654.3" r="2.2" fill="#1f77b4"/>
<circle cx="227.7" cy="652.6" r="2.2" fill="#2ca02c"/>
<circle cx="214.9" cy="662.4" r="2.2" fill="#ff7f0e"/>
<circle cx="383.4" cy="649.9" r="2.2" fill="#1f77b4"/>
<circle cx="176.7" cy="686.4" r="2.2" fill="#ff7f0e"/>
<circle cx="167.2" cy="691.5" r="2.2" fill="#ff7f0e"/>
<circle cx="229.9" cy="679.4" r="2.2" fill="#2ca02c"/>
<circle cx="262.8" cy="687.2" r="2.2" fill="#2ca02c"/>
<circle cx="97.1" cy="721.1" r="2.2" fill="#1f77b4"/>
<circle cx="148.7" cy="670.7" r="2.2" fill="#ff7f0e"/>
<circle cx="162.6" cy="651.8" r="2.2" fill="#ff7f0e"/>
<circle cx="283.8" cy="672.9" r="2.2" fill="#d62728"/>
<circle cx="207.2" cy="670.4" r="2.2" fill="#ff7f0e"/>
<circle cx="213.1" cy="684.8" r="2.2" fill="#ff7f0e"/>
<circle cx="503.4" cy="652.4" r="2.2" fill="#ff7f0e"/>
<circle cx="338.2" cy="644.4" r="2.2" fill="#d62728"/>
<circle cx="416.3" cy="671.6" r="2.2" fill="#1f77b4"/>
<circle cx="549.2" cy="652.6" r="2.2" fill="#2ca02c"/>
<circle cx="420.4" cy="649.9" r="2.2" fill="#1f77b4"/>
<circle cx="558.3" cy="690.8" r="2.2" fill="#2ca02c"/>
<circle cx="237.0" cy="662.4" r="2.2" fill="#d62728"/>
<circle cx="122.0" cy="675.4" r="2.2" fill="#1f77b4"/>
<circle cx="334.6" cy="639.8" r="2.2" fill="#d62728"/>
<circle cx="257.6" cy="646.1" r="2.2" fill="#2ca02c"/>
<circle cx="594.6" cy="677.1" r="2.2" fill="#d62728"/>
<circle cx="646.9" cy="647.6" r="2.2" fill="#d62728"/>
<circle cx="319.9" cy="632.6" r="2.2" fill="#d62728"/>
<circle cx="331.2" cy="685.3" r="2.2" fill="#d62728"/>
<circle cx="200.2" cy="651.6" r="2.2" fill="#ff7f0e"/>
<circle cx="460.9" cy="649.9" r="2.2" fill="#1f77b4"/>
<circle cx="536.7" cy="643.3" r="2.2" fill="#2ca02c"/>
<circle cx="218.6" cy="673.9" r="2.2" fill="#ff7f0e"/>
<circle cx="88.1" cy="650.0" r="2.2" fill="#1f77b4"/>
<circle cx="618.9" cy="682.1" r="2.2" fill="#d62728"/>
<circle cx="201.1" cy="653.8" r="2.2" fill="#ff7f0e"/>
<circle cx="391.9" cy="653.3" r="2.2" fill="#1f77b4"/>
<circle cx="288.2" cy="641.5" r="2.2" fill="#d62728"/>
<circle cx="325.0" cy="681.9" r="2.2" fill="#d62728"/>
<circle cx="259.9" cy="627.9" r="2.2" fill="#2ca02c"/>
<circle cx="106.9" cy="671.4" r="2.2" fill="#1f77b4"/>
<circle cx="332.8" cy="652.8" r="2.2" fill="#d62728"/>
<circle cx="472.5" cy="650.8" r="2.2" fill="#ff7f0e"/>
<circle cx="163.2" cy="648.5" r="2.2" fill="#ff7f0e"/>
<circle cx="114.7" cy="674.1" r="2.2" fill="#1f77b4"/>
<circle cx="198.2" cy="642.9" r="2.2" fill="#ff7f0e"/>
<circle cx="601.2" cy="653.3" r="2.2" fill="#d62728"/>
<circle cx="165.9" cy="673.9" r="2.2" fill="#ff7f0e"/>
<circle cx="456.8" cy="653.8" r="2.2" fill="#1f77b4"/>
<circle cx="79.5" cy="662.4" r="2.2" fill="#1f77b4"/>
<circle cx="208.3" cy="690.5" r="2.2" fill="#ff7f0e"/>
<circle cx="337.5" cy="641.7" r="2.2" fill="#d62728"/>
<circle cx="178.2" cy="689.3" r="2.2" fill="#ff7f0e"/>
<circle cx="303.5" cy="674.3" r="2.2" fill="#d62728"/>
<circle cx="259.9" cy="675.3" r="2.2" fill="#2ca02c"/>
<circle cx="173.2" cy="670.5" r="2.2" fill="#ff7f0e"/>
<circle cx="308.2" cy="674.1" r="2.2" fill="#d62728"/>
<circle cx="303.2" cy="634.5" r="2.2" fill="#d62728"/>
<circle cx="540.8" cy="651.6" r="2.2" fill="#2ca02c"/>
<circle cx="146.9" cy="648.8" r="2.2" fill="#1f77b4"/>
<circle cx="219.2" cy="684.3" r="2.2" fill="#ff7f0e"/>
<circle cx="170.0" cy="672.5" r="2.2" fill="#ff7f0e"/>
<circle cx="267.0" cy="690.2" r="2.2" fill="#2ca02c"/>
<circle cx="170.9" cy="662.4" r="2.2" fill="#ff7f0e"/>
<circle cx="284.3" cy="677.9" r="2.2" fill="#d62728"/>
<circle cx="313.2" cy="646.3" r="2.2" fill="#d62728"/>
<circle cx="563.5" cy="625.6" r="2.2" fill="#d62728"/>
<circle cx="285.0" cy="647.7" r="2.2" fill="#d62728"/>
<circle cx="319.4" cy="703.5" r="2.2" fill="#d62728"/>
<circle cx="409.5" cy="653.8" r="2.2" fill="#1f77b4"/>
<circle cx="224.3" cy="671.6" r="2.2" fill="#2ca02c"/>
<circle cx="258.8" cy="646.8" r="2.2" fill="#2ca02c"/>
<circle cx="200.9" cy="673.9" r="2.2" fill="#ff7f0e"/>
<circle cx="537.5" cy="648.9" r="2.2" fill="#2ca02c"/>
<circle cx="317.2" cy="649.4" r="2.2" fill="#d62728"/>
<circle cx="446.4" cy="616.5" r="2.2" fill="#1f77b4"/>
<circle cx="270.8" cy="671.9" r="2.2" fill="#2ca02c"/>
<circle cx="432.8" cy="678.3" r="2.2" fill="#1f77b4"/>
<circle cx="240.5" cy="690.9" r="2.2" fill="#2ca02c"/>
<circle cx="253.2" cy="697.5" r="2.2" fill="#2ca02c"/>
<circle cx="596.1" cy="672.2" r="2.2" fill="#d62728"/>
<circle cx="137.5" cy="676.2" r="2.2" fill="#1f77b4"/>
<circle cx="465.5" cy="654.0" r="2.2" fill="#1f77b4"/>
<circle cx="473.6" cy="649.4" r="2.2" fill="#ff7f0e"/>
<circle cx="110.2" cy="678.7" r="2.2" fill="#1f77b4"/>
<circle cx="156.5" cy="662.4" r="2.2" fill="#ff7f0e"/>
<circle cx="643.1" cy="711.4" r="2.2" fill="#d62728"/>
<circle cx="581.7" cy="636.5" r="2.2" fill="#2ca02c"/>
<circle cx="193.4" cy="641.7" r="2.2" fill="#ff7f0e"/>
<circle cx="379.0" cy="673.2" r="2.2" fill="#1f77b4"/>
<circle cx="221.2" cy="647.8" r="2.2" fill="#2ca02c"/>
<circle cx="528.7" cy="674.3" r="2.2" fill="#ff7f0e"/>
<circle cx="254.8" cy="662.4" r="2.2" fill="#2ca02c"/>
<circle cx="215.3" cy="647.2" r="2.2" fill="#ff7f0e"/>
<circle cx="154.2" cy="674.2" r="2.2" fill="#ff7f0e"/>
<circle cx="481.4" cy="653.7" r="2.2" fill="#ff7f0e"/>
<circle cx="335.8" cy="633.2" r="2.2" fill="#d62728"/>
<circle cx="587.2" cy="717.9" r="2.2" fill="#d62728"/>
<circle cx="394.7" cy="677.1" r="2.2" fill="#1f77b4"/>
<circle cx="129.5" cy="643.4" r="2.2" fill="#1f77b4"/>
<circle cx="208.3" cy="652.6" r="2.2" fill="#ff7f0e"/>
<circle cx="262.1" cy="680.1" r="2.2" fill="#2ca02c"/>
<circle cx="253.0" cy="620.9" r="2.2" fill="#2ca02c"/>
<circle cx="186.7" cy="653.1" r="2.2" fill="#ff7f0e"/>
<circle cx="251.7" cy="717.7" r="2.2" fill="#2ca02c"/>
<circle cx="187.2" cy="671.1" r="2.2" fill="#ff7f0e"/>
<circle cx="253.8" cy="644.4" r="2.2" fill="#2ca02c"/>
<circle cx="426.4" cy="646.0" r="2.2" fill="#1f77b4"/>
<circle cx="289.1" cy="654.2" r="2.2" fill="#d62728"/>
<circle cx="398.8" cy="654.1" r="2.2" fill="#1f77b4"/>
<circle cx="432.5" cy="711.4" r="2.2" fill="#1f77b4"/>
<circle cx="310.6" cy="671.6" r="2.2" fill="#d62728"/>
<circle cx="230.6" cy="645.5" r="2.2" fill="#2ca02c"/>
<circle cx="270.5" cy="688.6" r="2.2" fill="#2ca02c"/>
<circle cx="201.1" cy="650.0" r="2.2" fill="#ff7f0e"/>
<circle cx="432.2" cy="672.6" r="2.2" fill="#1f77b4"/>
<circle cx="243.3" cy="712.3" r="2.2" fill="#2ca02c"/>
<circle cx="469.5" cy="675.6" r="2.2" fill="#ff7f0e"/>
<circle cx="465.5" cy="675.9" r="2.2" fill="#1f77b4"/>
<circle cx="281.7" cy="638.2" r="2.2" fill="#d62728"/>
<circle cx="173.2" cy="662.4" r="2.2" fill="#ff7f0e"/>
<circle cx="518.3" cy="683.9" r="2.2" fill="#ff7f0e"/>
<circle cx="531.6" cy="675.5" r="2.2" fill="#2ca02c"/>
<circle cx="318.8" cy="662.4" r="2.2" fill="#d62728"/>
<circle cx="214.0" cy="651.6" r="2.2" fill="#ff7f0e"/>
<circle cx="121.7" cy="641.6" r="2.2" fill="#1f77b4"/>
<circle cx="125.2" cy="641.9" r="2.2" fill="#1f77b4"/>
<circle cx="217.0" cy="671.0" r="2.2" fill="#ff7f0e"/>
<circle cx="278.8" cy="662.4" r="2.2" fill="#d62728"/>
<circle cx="539.5" cy="633.2" r="2.2" fill="#2ca02c"/>
<circle cx="269.7" cy="637.2" r="2.2" fill="#2ca02c"/>
<circle cx="407.4" cy="650.1" r="2.2" fill="#1f77b4"/>
<circle cx="327.4" cy="681.1" r="2.2" fill="#d62728"/>
<circle cx="175.3" cy="662.4" r="2.2" fill="#ff7f0e"/>
<circle cx="635.3" cy="683.6" r="2.2" fill="#d62728"/>
<circle cx="614.3" cy="674.4" r="2.2" fill="#d62728"/>
<circle cx="168.1" cy="686.6" r="2.2" fill="#ff7f0e"/>
<circle cx="458.8" cy="672.3" r="2.2" fill="#1f77b4"/>
<circle cx="322.5" cy="651.5" r="2.2" fill="#d62728"/>
<circle cx="229.8" cy="678.6" r="2.2" fill="#2ca02c"/>
<circle cx="82.6" cy="687.1" r="2.2" fill="#1f77b4"/>
<circle cx="216.5" cy="643.7" r="2.2" fill="#ff7f0e"/>
<circle cx="437.6" cy="707.4" r="2.2" fill="#1f77b4"/>
<circle cx="238.6" cy="719.0" r="2.2" fill="#2ca02c"/>
<circle cx="502.8" cy="651.6" r="2.2" fill="#ff7f0e"/>
<circle cx="628.8" cy="636.5" r="2.2" fill="#d62728"/>
<circle cx="210.5" cy="652.7" r="2.2" fill="#ff7f0e"/>
<circle cx="503.8" cy="649.8" r="2.2" fill="#ff7f0e"/>
<circle cx="382.0" cy="714.5" r="2.2" fill="#1f77b4"/>
<circle cx="222.0" cy="636.3" r="2.2" fill="#2ca02c"/>
<circle cx="243.9" cy="674.7" r="2.2" fill="#2ca02c"/>
<circle cx="213.7" cy="680.4" r="2.2" fill="#ff7f0e"/>
<circle cx="436.6" cy="649.3" r="2.2" fill="#1f77b4"/>
<circle cx="282.0" cy="649.9" r="2.2" fill="#d62728"/>
<circle cx="299.3" cy="713.2" r="2.2" fill="#d62728"/>
<circle cx="252.7" cy="690.8" r="2.2" fill="#2ca02c"/>
<circle cx="297.2" cy="671.6" r="2.2" fill="#d62728"/>
<circle cx="70.2" cy="679.6" r="2.2" fill="#1f77b4"/>
<circle cx="257.4" cy="654.4" r="2.2" fill="#2ca02c"/>
<circle cx="130.6" cy="642.1" r="2.2" fill="#1f77b4"/>
<circle cx="638.7" cy="671.3" r="2.2" fill="#d62728"/>
<circle cx="232.4" cy="701.3" r="2.2" fill="#2ca02c"/>
<circle cx="202.8" cy="652.4" r="2.2" fill="#ff7f0e"/>
<circle cx="86.7" cy="633.9" r="2.2" fill="#1f77b4"/>
<circle cx="633.4" cy="676.9" r="2.2" fill="#d62728"/>
<circle cx="216.0" cy="671.1" r="2.2" fill="#ff7f0e"/>
<circle cx="484.1" cy="647.6" r="2.2" fill="#ff7f0e"/>
<circle cx="75.4" cy="654.1" r="2.2" fill="#1f77b4"/>
<circle cx="65.8" cy="649.4" r="2.2" fill="#1f77b4"/>
<circle cx="114.9" cy="642.5" r="2.2" fill="#1f77b4"/>
<circle cx="477.2" cy="691.6" r="2.2" fill="#ff7f0e"/>
<circle cx="147.9" cy="643.7" r="2.2" fill="#1f77b4"/>
<circle cx="258.2" cy="646.2" r="2.2" fill="#2ca02c"/>
<circle cx="198.2" cy="677.8" r="2.2" fill="#ff7f0e"/>
<circle cx="181.1" cy="662.4" r="2.2" fill="#ff7f0e"/>
<circle cx="209.9" cy="679.5" r="2.2" fill="#ff7f0e"/>
<circle cx="582.9" cy="652.2" r="2.2" fill="#2ca02c"/>
<circle cx="305.2" cy="692.5" r="2.2" fill="#d62728"/>
<circle cx="571.9" cy="683.5" r="2.2" fill="#2ca02c"/>
<circle cx="136.9" cy="646.4" r="2.2" fill="#1f77b4"/>
<circle cx="311.0" cy="626.3" r="2.2" fill="#d62728"/>
<circle cx="146.2" cy="686.4" r="2.2" fill="#1f77b4"/>
<circle cx="563.2" cy="678.0" r="2.2" fill="#2ca02c"/>
<circle cx="275.1" cy="635.1" r="2.2" fill="#d62728"/>
<circle cx="160.4" cy="678.0" r="2.2" fill="#ff7f0e"/>
<circle cx="337.5" cy="626.0" r="2.2" fill="#d62728"/>
<circle cx="132.6" cy="633.7" r="2.2" fill="#1f77b4"/>
<circle cx="87.9" cy="684.7" r="2.2" fill="#1f77b4"/>
<circle cx="109.3" cy="635.8" r="2.2" fill="#1f77b4"/>
<circle cx="247.8" cy="646.7" r="2.2" fill="#2ca02c"/>
<circle cx="201.3" cy="662.4" r="2.2" fill="#ff7f0e"/>
<circle cx="644.6" cy="650.6" r="2.2" fill="#d62728"/>
<circle cx="549.4" cy="676.6" r="2.2" fill="#2ca02c"/>
<circle cx="323.2" cy="685.3" r="2.2" fill="#d62728"/>
<circle cx="317.6" cy="654.1" r="2.2" fill="#d62728"/>
<circle cx="286.1" cy="681.6" r="2.2" fill="#d62728"/>
<circle cx="148.6" cy="686.2" r="2.2" fill="#ff7f0e"/>
<circle cx="115.3" cy="671.5" r="2.2" fill="#1f77b4"/>
<circle cx="94.8" cy="640.8" r="2.2" fill="#1f77b4"/>
<circle cx="283.2" cy="673.9" r="2.2" fill="#d62728"/>
<circle cx="613.4" cy="678.5" r="2.2" fill="#d62728"/>
<circle cx="170.5" cy="649.6" r="2.2" fill="#ff7f0e"/>
<circle cx="470.9" cy="673.6" r="2.2" fill="#ff7f0e"/>
<circle cx="590.1" cy="653.8" r="2.2" fill="#d62728"/>
<circle cx="211.6" cy="670.7" r="2.2" fill="#ff7f0e"/>
<circle cx="96.8" cy="686.9" r="2.2" fill="#1f77b4"/>
<circle cx="314.3" cy="671.2" r="2.2" fill="#d62728"/>
<circle cx="161.7" cy="662.4" r="2.2" fill="#ff7f0e"/>
<circle cx="184.2" cy="692.0" r="2.2" fill="#ff7f0e"/>
<circle cx="94.8" cy="694.3" r="2.2" fill="#1f77b4"/>
<circle cx="175.9" cy="653.5" r="2.2" fill="#ff7f0e"/>
<circle cx="229.1" cy="705.4" r="2.2" fill="#2ca02c"/>
<circle cx="335.4" cy="639.0" r="2.2" fill="#d62728"/>
<circle cx="387.5" cy="673.8" r="2.2" fill="#1f77b4"/>
<circle cx="135.5" cy="662.4" r="2.2" fill="#1f77b4"/>
<circle cx="222.6" cy="671.8" r="2.2" fill="#2ca02c"/>
<circle cx="120.1" cy="719.2" r="2.2" fill="#1f77b4"/>
<circle cx="200.1" cy="691.2" r="2.2" fill="#ff7f0e"/>
<circle cx="237.4" cy="651.3" r="2.2" fill="#2ca02c"/>
<circle cx="304.7" cy="692.6" r="2.2" fill="#d62728"/>
<circle cx="294.4" cy="672.4" r="2.2" fill="#d62728"/>
<circle cx="152.6" cy="647.7" r="2.2" fill="#ff7f0e"/>
<circle cx="582.0" cy="641.9" r="2.2" fill="#2ca02c"/>
<circle cx="225.1" cy="683.6" r="2.2" fill="#2ca02c"/>
<circle cx="383.0" cy="646.2" r="2.2" fill="#1f77b4"/>
<circle cx="450.0" cy="651.9" r="2.2" fill="#1f77b4"/>
<circle cx="150.8" cy="676.4" r="2.2" fill="#ff7f0e"/>
<circle cx="328.9" cy="672.1" r="2.2" fill="#d62728"/>
<circle cx="307.8" cy="662.4" r="2.2" fill="#d62728"/>
<circle cx="293.2" cy="693.9" r="2.2" fill="#d62728"/>
<circle cx="170.8" cy="650.5" r="2.2" fill="#ff7f0e"/>
<circle cx="244.3" cy="681.3" r="2.2" fill="#2ca02c"/>
<circle cx="176.2" cy="653.7" r="2.2" fill="#ff7f0e"/>
<circle cx="208.5" cy="691.9" r="2.2" fill="#ff7f0e"/>
<circle cx="192.6" cy="686.9" r="2.2" fill="#ff7f0e"/>
<circle cx="648.9" cy="654.2" r="2.2" fill="#d62728"/>
<circle cx="193.9" cy="682.6" r="2.2" fill="#ff7f0e"/>
<circle cx="305.0" cy="651.8" r="2.2" fill="#d62728"/>
<circle cx="499.1" cy="654.3" r="2.2" fill="#ff7f0e"/>
<circle cx="505.9" cy="673.9" r="2.2" fill="#ff7f0e"/>
<circle cx="308.0" cy="710.2" r="2.2" fill="#d62728"/>
<circle cx="317.7" cy="676.8" r="2.2" fill="#d62728"/>
<circle cx="67.6" cy="671.6" r="2.2" fill="#1f77b4"/>
<circle cx="570.4" cy="608.7" r="2.2" fill="#2ca02c"/>
<circle cx="185.6" cy="716.5" r="2.2" fill="#ff7f0e"/>
<circle cx="94.9" cy="675.4" r="2.2" fill="#1f77b4"/>
<circle cx="171.2" cy="642.6" r="2.2" fill="#ff7f0e"/>
<circle cx="215.1" cy="697.6" r="2.2" fill="#ff7f0e"/>
<circle cx="232.9" cy="637.9" r="2.2" fill="#2ca02c"/>
<circle cx="102.9" cy="652.5" r="2.2" fill="#1f77b4"/>
<circle cx="250.8" cy="639.9" r="2.2" fill="#2ca02c"/>
<circle cx="287.4" cy="680.8" r="2.2" fill="#d62728"/>
<circle cx="507.0" cy="652.7" r="2.2" fill="#ff7f0e"/>
<circle cx="68.5" cy="662.4" r="2.2" fill="#1f77b4"/>
<circle cx="238.3" cy="680.2" r="2.2" fill="#2ca02c"/>
<circle cx="168.5" cy="647.1" r="2.2" fill="#ff7f0e"/>
<circle cx="308.2" cy="707.4" r="2.2" fill="#d62728"/>
<circle cx="385.0" cy="680.3" r="2.2" fill="#1f77b4"/>
<circle cx="438.3" cy="650.2" r="2.2" fill="#1f77b4"/>
<circle cx="446.5" cy="695.8" r="2.2" fill="#1f77b4"/>
<circle cx="189.2" cy="674.4" r="2.2" fill="#ff7f0e"/>
<circle cx="149.3" cy="648.2" r="2.2" fill="#ff7f0e"/>
<circle cx="204.1" cy="671.5" r="2.2" fill="#ff7f0e"/>
<circle cx="199.8" cy="649.6" r="2.2" fill="#ff7f0e"/>
<circle cx="125.0" cy="662.4" r="2.2" fill="#1f77b4"/>
<circle cx="538.9" cy="670.5" r="2.2" fill="#2ca02c"/>
<circle cx="425.9" cy="679.9" r="2.2" fill="#1f77b4"/>
<circle cx="411.6" cy="650.8" r="2.2" fill="#1f77b4"/>
<circle cx="192.7" cy="673.2" r="2.2" fill="#ff7f0e"/>
<circle cx="239.4" cy="715.0" r="2.2" fill="#2ca02c"/>
<circle cx="295.5" cy="686.6" r="2.2" fill="#d62728"/>
<circle cx="257.8" cy="649.0" r="2.2" fill="#2ca02c"/>
<circle cx="225.0" cy="672.9" r="2.2" fill="#2ca02c"/>
<circle cx="450.9" cy="648.4" r="2.2" fill="#1f77b4"/>
<circle cx="154.8" cy="670.9" r="2.2" fill="#ff7f0e"/>
<circle cx="393.4" cy="647.8" r="2.2" fill="#1f77b4"/>
<circle cx="263.0" cy="652.9" r="2.2" fill="#2ca02c"/>
<circle cx="305.4" cy="686.7" r="2.2" fill="#d62728"/>
<circle cx="450.6" cy="651.1" r="2.2" fill="#1f77b4"/>
<circle cx="268.9" cy="679.7" r="2.2" fill="#2ca02c"/>
<circle cx="129.5" cy="672.7" r="2.2" fill="#1f77b4"/>
<circle cx="163.1" cy="678.0" r="2.2" fill="#ff7f0e"/>
<circle cx="237.0" cy="607.4" r="2.2" fill="#2ca02c"/>
<circle cx="598.3" cy="682.4" r="2.2" fill="#d62728"/>
<circle cx="573.8" cy="642.3" r="2.2" fill="#2ca02c"/>
<circle cx="290.7" cy="638.3" r="2.2" fill="#d62728"/>
<circle cx="413.4" cy="675.5" r="2.2" fill="#1f77b4"/>
<circle cx="116.1" cy="674.2" r="2.2" fill="#1f77b4"/>
<circle cx="175.2" cy="686.4" r="2.2" fill="#ff7f0e"/>
<circle cx="217.7" cy="683.9" r="2.2" fill="#ff7f0e"/>
<circle cx="601.4" cy="643.5" r="2.2" fill="#d62728"/>
<circle cx="432.0" cy="653.3" r="2.2" fill="#1f77b4"/>
<circle cx="579.1" cy="652.3" r="2.2" fill="#2ca02c"/>
<circle cx="375.1" cy="675.3" r="2.2" fill="#1f77b4"/>
<circle cx="339.0" cy="694.4" r="2.2" fill="#d62728"/>
<circle cx="79.4" cy="640.8" r="2.2" fill="#1f77b4"/>
<circle cx="640.9" cy="647.9" r="2.2" fill="#d62728"/>
<circle cx="262.7" cy="649.9" r="2.2" fill="#2ca02c"/>
<circle cx="175.3" cy="683.8" r="2.2" fill="#ff7f0e"/>
<circle cx="97.3" cy="653.5" r="2.2" fill="#1f77b4"/>
<circle cx="331.6" cy="670.6" r="2.2" fill="#d62728"/>
<circle cx="258.4" cy="686.7" r="2.2" fill="#2ca02c"/>
<circle cx="557.5" cy="674.3" r="2.2" fill="#2ca02c"/>
<circle cx="115.5" cy="653.6" r="2.2" fill="#1f77b4"/>
<circle cx="327.8" cy="683.6" r="2.2" fill="#d62728"/>
<circle cx="109.6" cy="722.0" r="2.2" fill="#1f77b4"/>
<circle cx="648.0" cy="681.0" r="2.2" fill="#d62728"/>
<circle cx="562.2" cy="651.5" r="2.2" fill="#2ca02c"/>
<circle cx="272.4" cy="650.0" r="2.2" fill="#d62728"/>
<circle cx="472.2" cy="649.5" r="2.2" fill="#ff7f0e"/>
<circle cx="450.1" cy="671.7" r="2.2" fill="#1f77b4"/>
<circle cx="115.7" cy="675.3" r="2.2" fill="#1f77b4"/>
<circle cx="471.6" cy="672.1" r="2.2" fill="#ff7f0e"/>
<circle cx="333.9" cy="636.6" r="2.2" fill="#d62728"/>
<circle cx="285.2" cy="705.2" r="2.2" fill="#d62728"/>
<circle cx="115.2" cy="674.1" r="2.2" fill="#1f77b4"/>
<circle cx="242.0" cy="648.1" r="2.2" fill="#2ca02c"/>
<circle cx="305.0" cy="652.5" r="2.2" fill="#d62728"/>
<circle cx="115.2" cy="640.3" r="2.2" fill="#1f77b4"/>
<circle cx="241.5" cy="662.4" r="2.2" fill="#2ca02c"/>
<circle cx="321.0" cy="674.2" r="2.2" fill="#d62728"/>
<circle cx="589.8" cy="672.9" r="2.2" fill="#d62728"/>
<circle cx="201.0" cy="641.4" r="2.2" fill="#ff7f0e"/>
<circle cx="227.1" cy="639.7" r="2.2" fill="#2ca02c"/>
<circle cx="509.7" cy="648.7" r="2.2" fill="#ff7f0e"/>
<circle cx="190.4" cy="644.4" r="2.2" fill="#ff7f0e"/>
<circle cx="337.8" cy="697.7" r="2.2" fill="#d62728"/>
<circle cx="458.8" cy="678.7" r="2.2" fill="#1f77b4"/>
<circle cx="86.3" cy="685.0" r="2.2" fill="#1f77b4"/>
<circle cx="482.7" cy="679.2" r="2.2" fill="#ff7f0e"/>
<circle cx="90.0" cy="639.1" r="2.2" fill="#1f77b4"/>
<circle cx="150.0" cy="654.1" r="2.2" fill="#ff7f0e"/>
<circle cx="284.8" cy="692.8" r="2.2" fill="#d62728"/>
<circle cx="101.7" cy="684.6" r="2.2" fill="#1f77b4"/>
<circle cx="210.0" cy="646.9" r="2.2" fill="#ff7f0e"/>
<circle cx="589.6" cy="649.6" r="2.2" fill="#d62728"/>
<circle cx="231.9" cy="662.4" r="2.2" fill="#d62728"/>
<circle cx="525.9" cy="647.1" r="2.2" fill="#ff7f0e"/>
<circle cx="336.1" cy="682.0" r="2.2" fill="#d62728"/>
<circle cx="225.5" cy="651.8" r="2.2" fill="#2ca02c"/>
<circle cx="598.1" cy="650.6" r="2.2" fill="#d62728"/>
<circle cx="186.7" cy="662.4" r="2.2" fill="#ff7f0e"/>
<circle cx="213.4" cy="652.4" r="2.2" fill="#ff7f0e"/>
<circle cx="180.8" cy="685.2" r="2.2" fill="#ff7f0e"/>
<circle cx="169.6" cy="675.4" r="2.2" fill="#ff7f0e"/>
<circle cx="491.1" cy="681.6" r="2.2" fill="#ff7f0e"/>
<circle cx="98.3" cy="673.7" r="2.2" fill="#1f77b4"/>
<circle cx="455.9" cy="650.7" r="2.2" fill="#1f77b4"/>
<circle cx="395.6" cy="654.3" r="2.2" fill="#1f77b4"/>
<circle cx="560.3" cy="652.8" r="2.2" fill="#2ca02c"/>
<circle cx="151.7" cy="677.2" r="2.2" fill="#ff7f0e"/>
<circle cx="544.9" cy="707.7" r="2.2" fill="#2ca02c"/>
<circle cx="229.2" cy="641.4" r="2.2" fill="#2ca02c"/>
<circle cx="98.2" cy="671.7" r="2.2" fill="#1f77b4"/>
<circle cx="155.5" cy="682.4" r="2.2" fill="#ff7f0e"/>
<circle cx="567.1" cy="653.1" r="2.2" fill="#2ca02c"/>
<circle cx="476.0" cy="682.1" r="2.2" fill="#ff7f0e"/>
<circle cx="144.6" cy="647.4" r="2.2" fill="#1f77b4"/>
<circle cx="299.2" cy="654.3" r="2.2" fill="#d62728"/>
<circle cx="114.7" cy="676.1" r="2.2" fill="#1f77b4"/>
<circle cx="310.9" cy="674.9" r="2.2" fill="#d62728"/>
<circle cx="591.3" cy="678.4" r="2.2" fill="#d62728"/>
<circle cx="468.5" cy="647.6" r="2.2" fill="#ff7f0e"/>
<circle cx="513.6" cy="679.5" r="2.2" fill="#ff7f0e"/>
<circle cx="627.8" cy="671.0" r="2.2" fill="#d62728"/>
<circle cx="267.4" cy="695.9" r="2.2" fill="#2ca02c"/>
<circle cx="642.0" cy="677.5" r="2.2" fill="#d62728"/>
<circle cx="552.8" cy="653.7" r="2.2" fill="#2ca02c"/>
<circle cx="203.5" cy="684.8" r="2.2" fill="#ff7f0e"/>
<circle cx="224.6" cy="685.1" r="2.2" fill="#2ca02c"/>
<circle cx="315.9" cy="630.2" r="2.2" fill="#d62728"/>
<circle cx="297.8" cy="710.1" r="2.2" fill="#d62728"/>
<circle cx="218.2" cy="662.4" r="2.2" fill="#ff7f0e"/>
<circle cx="518.9" cy="670.4" r="2.2" fill="#ff7f0e"/>
<circle cx="586.1" cy="648.6" r="2.2" fill="#d62728"/>
<circle cx="334.7" cy="675.5" r="2.2" fill="#d62728"/>
<circle cx="154.2" cy="651.5" r="2.2" fill="#ff7f0e"/>
<circle cx="442.0" cy="647.0" r="2.2" fill="#1f77b4"/>
<circle cx="509.2" cy="687.5" r="2.2" fill="#ff7f0e"/>
<circle cx="567.2" cy="690.8" r="2.2" fill="#2ca02c"/>
<circle cx="600.0" cy="647.8" r="2.2" fill="#d62728"/>
<circle cx="84.3" cy="646.7" r="2.2" fill="#1f77b4"/>
<circle cx="176.7" cy="652.7" r="2.2" fill="#ff7f0e"/>
<circle cx="541.0" cy="649.2" r="2.2" fill="#2ca02c"/>
<circle cx="153.2" cy="662.4" r="2.2" fill="#ff7f0e"/>
<circle cx="212.7" cy="652.7" r="2.2" fill="#ff7f0e"/>
<circle cx="285.0" cy="651.7" r="2.2" fill="#d62728"/>
<circle cx="419.1" cy="715.7" r="2.2" fill="#1f77b4"/>
<circle cx="259.5" cy="734.5" r="2.2" fill="#2ca02c"/>
<circle cx="66.1" cy="642.0" r="2.2" fill="#1f77b4"/>
<circle cx="151.8" cy="640.1" r="2.2" fill="#ff7f0e"/>
<circle cx="183.2" cy="642.0" r="2.2" fill="#ff7f0e"/>
<circle cx="276.6" cy="653.6" r="2.2" fill="#d62728"/>
<circle cx="454.8" cy="695.0" r="2.2" fill="#1f77b4"/>
<circle cx="646.5" cy="672.0" r="2.2" fill="#d62728"/>
<circle cx="498.4" cy="672.3" r="2.2" fill="#ff7f0e"/>
<circle cx="184.1" cy="680.7" r="2.2" fill="#ff7f0e"/>
<circle cx="82.2" cy="673.3" r="2.2" fill="#1f77b4"/>
<circle cx="90.5" cy="682.1" r="2.2" fill="#1f77b4"/>
<circle cx="578.7" cy="677.7" r="2.2" fill="#2ca02c"/>
<circle cx="303.6" cy="644.2" r="2.2" fill="#d62728"/>
<circle cx="500.7" cy="693.6" r="2.2" fill="#ff7f0e"/>
<circle cx="158.8" cy="686.5" r="2.2" fill="#ff7f0e"/>
<circle cx="188.9" cy="662.4" r="2.2" fill="#ff7f0e"/>
<circle cx="266.9" cy="643.7" r="2.2" fill="#2ca02c"/>
<circle cx="213.4" cy="646.2" r="2.2" fill="#ff7f0e"/>
<circle cx="310.1" cy="634.9" r="2.2" fill="#d62728"/>
<circle cx="87.6" cy="641.7" r="2.2" fill="#1f77b4"/>
<circle cx="145.7" cy="679.5" r="2.2" fill="#1f77b4"/>
<circle cx="103.1" cy="638.3" r="2.2" fill="#1f77b4"/>
<circle cx="146.5" cy="643.3" r="2.2" fill="#1f77b4"/>
<circle cx="143.2" cy="647.1" r="2.2" fill="#1f77b4"/>
<circle cx="103.7" cy="677.4" r="2.2" fill="#1f77b4"/>
<circle cx="201.0" cy="624.3" r="2.2" fill="#ff7f0e"/>
<circle cx="316.5" cy="683.4" r="2.2" fill="#d62728"/>
<circle cx="510.8" cy="675.5" r="2.2" fill="#ff7f0e"/>
<circle cx="623.8" cy="646.8" r="2.2" fill="#d62728"/>
<circle cx="639.0" cy="645.6" r="2.2" fill="#d62728"/>
<circle cx="302.2" cy="698.5" r="2.2" fill="#d62728"/>
<circle cx="159.1" cy="679.5" r="2.2" fill="#ff7f0e"/>
<circle cx="298.3" cy="691.6" r="2.2" fill="#d62728"/>
<circle cx="294.4" cy="638.6" r="2.2" fill="#d62728"/>
<circle cx="535.5" cy="697.2" r="2.2" fill="#2ca02c"/>
<circle cx="105.4" cy="651.4" r="2.2" fill="#1f77b4"/>
<circle cx="305.0" cy="645.2" r="2.2" fill="#d62728"/>
<circle cx="228.5" cy="670.5" r="2.2" fill="#2ca02c"/>
<circle cx="224.1" cy="651.1" r="2.2" fill="#2ca02c"/>
<circle cx="620.5" cy="678.0" r="2.2" fill="#d62728"/>
<circle cx="103.1" cy="719.5" r="2.2" fill="#1f77b4"/>
<circle cx="225.9" cy="691.1" r="2.2" fill="#2ca02c"/>
<circle cx="94.4" cy="639.7" r="2.2" fill="#1f77b4"/>
<circle cx="238.5" cy="612.2" r="2.2" fill="#2ca02c"/>
<circle cx="316.0" cy="690.2" r="2.2" fill="#d62728"/>
<circle cx="301.7" cy="644.1" r="2.2" fill="#d62728"/>
<circle cx="506.1" cy="653.4" r="2.2" fill="#ff7f0e"/>
<circle cx="175.5" cy="646.7" r="2.2" fill="#ff7f0e"/>
<circle cx="398.3" cy="675.2" r="2.2" fill="#1f77b4"/>
<circle cx="623.8" cy="688.9" r="2.2" fill="#d62728"/>
<circle cx="212.0" cy="677.6" r="2.2" fill="#ff7f0e"/>
<circle cx="235.3" cy="674.4" r="2.2" fill="#2ca02c"/>
<circle cx="152.1" cy="679.1" r="2.2" fill="#ff7f0e"/>
<circle cx="556.0" cy="677.3" r="2.2" fill="#2ca02c"/>
<circle cx="333.4" cy="674.1" r="2.2" fill="#d62728"/>
<circle cx="390.0" cy="679.1" r="2.2" fill="#1f77b4"/>
<circle cx="498.2" cy="654.4" r="2.2" fill="#ff7f0e"/>
<circle cx="644.8" cy="674.5" r="2.2" fill="#d62728"/>
<circle cx="640.3" cy="682.9" r="2.2" fill="#d62728"/>
<circle cx="379.9" cy="670.5" r="2.2" fill="#1f77b4"/>
<circle cx="178.7" cy="651.5" r="2.2" fill="#ff7f0e"/>
<circle cx="201.7" cy="625.1" r="2.2" fill="#ff7f0e"/>
<circle cx="141.2" cy="662.4" r="2.2" fill="#1f77b4"/>
<circle cx="376.8" cy="640.2" r="2.2" fill="#1f77b4"/>
<circle cx="551.0" cy="600.2" r="2.2" fill="#d62728"/>
<circle cx="232.1" cy="678.9" r="2.2" fill="#2ca02c"/>
<circle cx="407.4" cy="647.8" r="2.2" fill="#1f77b4"/>
<circle cx="335.5" cy="646.3" r="2.2" fill="#d62728"/>
<circle cx="219.7" cy="642.8" r="2.2" fill="#ff7f0e"/>
<circle cx="251.2" cy="682.6" r="2.2" fill="#2ca02c"/>
<circle cx="122.6" cy="670.7" r="2.2" fill="#1f77b4"/>
<circle cx="239.8" cy="600.2" r="2.2" fill="#d62728"/>
<circle cx="554.3" cy="727.8" r="2.2" fill="#2ca02c"/>
<circle cx="402.9" cy="629.7" r="2.2" fill="#1f77b4"/>
<circle cx="243.2" cy="652.3" r="2.2" fill="#2ca02c"/>
<circle cx="198.4" cy="644.9" r="2.2" fill="#ff7f0e"/>
<circle cx="403.2" cy="671.9" r="2.2" fill="#1f77b4"/>
<circle cx="82.6" cy="682.6" r="2.2" fill="#1f77b4"/>
<circle cx="311.1" cy="662.4" r="2.2" fill="#d62728"/>
<circle cx="180.3" cy="678.4" r="2.2" fill="#ff7f0e"/>
<circle cx="417.6" cy="636.3" r="2.2" fill="#1f77b4"/>
<circle cx="539.9" cy="653.8" r="2.2" fill="#2ca02c"/>
<circle cx="177.8" cy="675.2" r="2.2" fill="#ff7f0e"/>
<circle cx="94.1" cy="648.2" r="2.2" fill="#1f77b4"/>
<circle cx="269.4" cy="662.4" r="2.2" fill="#2ca02c"/>
<circle cx="107.0" cy="648.9" r="2.2" fill="#1f77b4"/>
<circle cx="102.6" cy="634.7" r="2.2" fill="#1f77b4"/>
<circle cx="236.1" cy="712.2" r="2.2" fill="#2ca02c"/>
<circle cx="66.2" cy="721.0" r="2.2" fill="#1f77b4"/>
<circle cx="100.7" cy="673.3" r="2.2" fill="#1f77b4"/>
<circle cx="294.0" cy="698.5" r="2.2" fill="#d62728"/>
<circle cx="88.2" cy="682.8" r="2.2" fill="#1f77b4"/>
<circle cx="622.4" cy="677.3" r="2.2" fill="#d62728"/>
<circle cx="78.4" cy="641.8" r="2.2" fill="#1f77b4"/>
<circle cx="581.7" cy="651.2" r="2.2" fill="#2ca02c"/>
<circle cx="276.3" cy="645.2" r="2.2" fill="#d62728"/>
<circle cx="253.0" cy="646.5" r="2.2" fill="#2ca02c"/>
<circle cx="240.2" cy="682.1" r="2.2" fill="#2ca02c"/>
<circle cx="243.2" cy="672.2" r="2.2" fill="#2ca02c"/>
<circle cx="274.5" cy="672.4" r="2.2" fill="#d62728"/>
<circle cx="225.5" cy="647.5" r="2.2" fill="#2ca02c"/>
<circle cx="76.1" cy="662.4" r="2.2" fill="#1f77b4"/>
<circle cx="608.1" cy="654.3" r="2.2" fill="#d62728"/>
<circle cx="222.7" cy="678.9" r="2.2" fill="#2ca02c"/>
<circle cx="378.4" cy="714.2" r="2.2" fill="#1f77b4"/>
<circle cx="649.0" cy="653.4" r="2.2" fill="#d62728"/>
<circle cx="329.4" cy="692.7" r="2.2" fill="#d62728"/>
<circle cx="479.5" cy="646.5" r="2.2" fill="#ff7f0e"/>
<circle cx="314.2" cy="670.8" r="2.2" fill="#d62728"/>
<circle cx="107.6" cy="645.0" r="2.2" fill="#1f77b4"/>
<circle cx="329.4" cy="685.1" r="2.2" fill="#d62728"/>
<circle cx="70.6" cy="652.2" r="2.2" fill="#1f77b4"/>
<circle cx="440.8" cy="717.7" r="2.2" fill="#1f77b4"/>
<circle cx="95.3" cy="662.4" r="2.2" fill="#d62728"/>
<circle cx="176.7" cy="654.4" r="2.2" fill="#ff7f0e"/>
<circle cx="598.7" cy="713.2" r="2.2" fill="#d62728"/>
<circle cx="631.4" cy="683.6" r="2.2" fill="#d62728"/>
<circle cx="285.1" cy="720.8" r="2.2" fill="#d62728"/>
<circle cx="195.5" cy="672.4" r="2.2" fill="#ff7f0e"/>
<circle cx="295.7" cy="651.1" r="2.2" fill="#d62728"/>
<circle cx="244.5" cy="662.4" r="2.2" fill="#2ca02c"/>
<circle cx="140.4" cy="671.5" r="2.2" fill="#1f77b4"/>
<circle cx="334.2" cy="678.8" r="2.2" fill="#d62728"/>
<circle cx="288.4" cy="647.6" r="2.2" fill="#d62728"/>
<circle cx="615.2" cy="653.5" r="2.2" fill="#d62728"/>
<circle cx="475.3" cy="677.1" r="2.2" fill="#ff7f0e"/>
<circle cx="103.7" cy="652.0" r="2.2" fill="#1f77b4"/>
<circle cx="223.6" cy="640.8" r="2.2" fill="#2ca02c"/>
<circle cx="187.2" cy="643.6" r="2.2" fill="#ff7f0e"/>
<circle cx="399.6" cy="646.3" r="2.2" fill="#1f77b4"/>
<circle cx="319.8" cy="633.0" r="2.2" fill="#d62728"/>
<circle cx="515.4" cy="649.3" r="2.2" fill="#ff7f0e"/>
<circle cx="259.3" cy="653.4" r="2.2" fill="#2ca02c"/>
<circle cx="296.1" cy="684.7" r="2.2" fill="#d62728"/>
<circle cx="233.4" cy="676.7" r="2.2" fill="#2ca02c"/>
<circle cx="130.8" cy="643.5" r="2.2" fill="#1f77b4"/>
<circle cx="558.5" cy="684.8" r="2.2" fill="#2ca02c"/>
<circle cx="485.5" cy="645.0" r="2.2" fill="#ff7f0e"/>
<circle cx="197.0" cy="662.4" r="2.2" fill="#ff7f0e"/>
<circle cx="144.7" cy="684.6" r="2.2" fill="#1f77b4"/>
<circle cx="65.3" cy="639.4" r="2.2" fill="#1f77b4"/>
<circle cx="91.9" cy="642.4" r="2.2" fill="#1f77b4"/>
<circle cx="195.8" cy="640.6" r="2.2" fill="#ff7f0e"/>
<circle cx="203.6" cy="662.4" r="2.2" fill="#ff7f0e"/>
<circle cx="390.7" cy="670.5" r="2.2" fill="#1f77b4"/>
<circle cx="198.6" cy="646.0" r="2.2" fill="#ff7f0e"/>
<circle cx="92.6" cy="647.1" r="2.2" fill="#1f77b4"/>
<circle cx="153.4" cy="676.3" r="2.2" fill="#ff7f0e"/>
<circle cx="196.7" cy="671.6" r="2.2" fill="#ff7f0e"/>
<circle cx="389.7" cy="676.9" r="2.2" fill="#1f77b4"/>
<circle cx="88.6" cy="647.8" r="2.2" fill="#1f77b4"/>
<circle cx="511.3" cy="677.1" r="2.2" fill="#ff7f0e"/>
<circle cx="257.5" cy="625.2" r="2.2" fill="#2ca02c"/>
<circle cx="121.5" cy="705.7" r="2.2" fill="#1f77b4"/>
<circle cx="210.8" cy="640.7" r="2.2" fill="#ff7f0e"/>
<circle cx="315.9" cy="634.5" r="2.2" fill="#d62728"/>
<circle cx="531.7" cy="683.5" r="2.2" fill="#2ca02c"/>
<circle cx="331.3" cy="678.7" r="2.2" fill="#d62728"/>
<circle cx="319.0" cy="651.7" r="2.2" fill="#d62728"/>
<circle cx="255.1" cy="639.7" r="2.2" fill="#2ca02c"/>
<circle cx="524.9" cy="671.7" r="2.2" fill="#ff7f0e"/>
<circle cx="113.5" cy="672.6" r="2.2" fill="#1f77b4"/>
<circle cx="139.0" cy="651.9" r="2.2" fill="#1f77b4"/>
<circle cx="236.6" cy="674.0" r="2.2" fill="#2ca02c"/>
<circle cx="263.5" cy="643.5" r="2.2" fill="#2ca02c"/>
<circle cx="194.4" cy="670.6" r="2.2" fill="#ff7f0e"/>
<circle cx="575.8" cy="653.9" r="2.2" fill="#2ca02c"/>
<circle cx="317.8" cy="671.0" r="2.2" fill="#d62728"/>
<circle cx="338.1" cy="693.8" r="2.2" fill="#d62728"/>
<circle cx="576.2" cy="615.2" r="2.2" fill="#2ca02c"/>
<circle cx="88.2" cy="677.0" r="2.2" fill="#1f77b4"/>
<circle cx="83.0" cy="697.7" r="2.2" fill="#1f77b4"/>
<circle cx="268.7" cy="636.1" r="2.2" fill="#2ca02c"/>
<circle cx="116.6" cy="640.8" r="2.2" fill="#1f77b4"/>
<circle cx="298.3" cy="671.0" r="2.2" fill="#d62728"/>
<circle cx="240.6" cy="675.5" r="2.2" fill="#2ca02c"/>
<circle cx="327.5" cy="653.9" r="2.2" fill="#d62728"/>
<circle cx="485.3" cy="671.0" r="2.2" fill="#ff7f0e"/>
<circle cx="226.6" cy="691.9" r="2.2" fill="#2ca02c"/>
<circle cx="143.5" cy="662.4" r="2.2" fill="#1f77b4"/>
<circle cx="114.3" cy="662.4" r="2.2" fill="#1f77b4"/>
<circle cx="246.3" cy="717.3" r="2.2" fill="#2ca02c"/>
<circle cx="579.5" cy="620.5" r="2.2" fill="#2ca02c"/>
<circle cx="628.8" cy="642.3" r="2.2" fill="#d62728"/>
<circle cx="174.5" cy="647.3" r="2.2" fill="#ff7f0e"/>
<circle cx="178.8" cy="674.1" r="2.2" fill="#ff7f0e"/>
<circle cx="503.7" cy="687.1" r="2.2" fill="#ff7f0e"/>
<circle cx="222.6" cy="701.0" r="2.2" fill="#2ca02c"/>
<circle cx="73.0" cy="705.5" r="2.2" fill="#1f77b4"/>
<circle cx="233.9" cy="708.7" r="2.2" fill="#2ca02c"/>
<circle cx="69.1" cy="670.7" r="2.2" fill="#1f77b4"/>
<circle cx="177.4" cy="648.3" r="2.2" fill="#ff7f0e"/>
<circle cx="132.6" cy="649.6" r="2.2" fill="#1f77b4"/>
<circle cx="296.3" cy="689.2" r="2.2" fill="#d62728"/>
<circle cx="207.8" cy="651.5" r="2.2" fill="#ff7f0e"/>
<circle cx="142.7" cy="649.6" r="2.2" fill="#1f77b4"/>
<circle cx="85.4" cy="662.4" r="2.2" fill="#1f77b4"/>
<circle cx="169.8" cy="670.4" r="2.2" fill="#ff7f0e"/>
<circle cx="247.1" cy="654.3" r="2.2" fill="#2ca02c"/>
<circle cx="65.9" cy="662.4" r="2.2" fill="#1f77b4"/>
<circle cx="523.2" cy="653.2" r="2.2" fill="#ff7f0e"/>
<circle cx="629.7" cy="650.1" r="2.2" fill="#d62728"/>
<circle cx="296.0" cy="647.3" r="2.2" fill="#d62728"/>
<circle cx="444.6" cy="677.7" r="2.2" fill="#1f77b4"/>
<circle cx="303.6" cy="676.5" r="2.2" fill="#d62728"/>
<circle cx="291.3" cy="662.4" r="2.2" fill="#d62728"/>
<circle cx="608.2" cy="670.5" r="2.2" fill="#d62728"/>
<circle cx="597.9" cy="671.0" r="2.2" fill="#d62728"/>
<circle cx="308.7" cy="681.9" r="2.2" fill="#d62728"/>
<circle cx="542.3" cy="600.2" r="2.2" fill="#2ca02c"/>
<circle cx="118.0" cy="644.6" r="2.2" fill="#1f77b4"/>
<circle cx="92.8" cy="643.8" r="2.2" fill="#1f77b4"/>
<circle cx="331.8" cy="692.9" r="2.2" fill="#d62728"/>
<circle cx="479.3" cy="645.9" r="2.2" fill="#ff7f0e"/>
<circle cx="276.9" cy="675.7" r="2.2" fill="#d62728"/>
<circle cx="307.9" cy="689.9" r="2.2" fill="#d62728"/>
<circle cx="499.5" cy="683.2" r="2.2" fill="#ff7f0e"/>
<circle cx="618.2" cy="653.1" r="2.2" fill="#d62728"/>
<circle cx="422.5" cy="641.9" r="2.2" fill="#1f77b4"/>
<circle cx="260.5" cy="639.5" r="2.2" fill="#2ca02c"/>
<circle cx="219.9" cy="680.1" r="2.2" fill="#ff7f0e"/>
<circle cx="195.8" cy="690.8" r="2.2" fill="#ff7f0e"/>
<circle cx="376.2" cy="672.6" r="2.2" fill="#1f77b4"/>
<circle cx="576.4" cy="651.5" r="2.2" fill="#2ca02c"/>
<circle cx="263.5" cy="690.7" r="2.2" fill="#2ca02c"/>
<circle cx="143.9" cy="679.8" r="2.2" fill="#1f77b4"/>
<circle cx="89.9" cy="653.2" r="2.2" fill="#1f77b4"/>
<circle cx="293.4" cy="645.8" r="2.2" fill="#d62728"/>
<circle cx="168.2" cy="652.8" r="2.2" fill="#ff7f0e"/>
<circle cx="531.2" cy="670.4" r="2.2" fill="#2ca02c"/>
<circle cx="113.5" cy="644.1" r="2.2" fill="#1f77b4"/>
<circle cx="504.9" cy="686.3" r="2.2" fill="#ff7f0e"/>
<circle cx="251.7" cy="641.0" r="2.2" fill="#2ca02c"/>
<circle cx="241.1" cy="647.4" r="2.2" fill="#2ca02c"/>
<circle cx="302.8" cy="677.6" r="2.2" fill="#d62728"/>
<circle cx="587.5" cy="672.7" r="2.2" fill="#d62728"/>
<circle cx="91.7" cy="651.8" r="2.2" fill="#1f77b4"/>
<circle cx="272.2" cy="650.9" r="2.2" fill="#d62728"/>
<circle cx="263.0" cy="649.1" r="2.2" fill="#2ca02c"/>
<circle cx="619.7" cy="641.3" r="2.2" fill="#d62728"/>
<circle cx="324.9" cy="678.6" r="2.2" fill="#d62728"/>
<circle cx="109.2" cy="648.2" r="2.2" fill="#1f77b4"/>
<circle cx="86.8" cy="642.5" r="2.2" fill="#1f77b4"/>
<circle cx="225.8" cy="687.2" r="2.2" fill="#2ca02c"/>
<circle cx="543.8" cy="671.3" r="2.2" fill="#2ca02c"/>
<circle cx="399.7" cy="652.9" r="2.2" fill="#1f77b4"/>
<circle cx="634.1" cy="642.2" r="2.2" fill="#d62728"/>
<circle cx="179.2" cy="695.4" r="2.2" fill="#ff7f0e"/>
<circle cx="153.1" cy="682.7" r="2.2" fill="#ff7f0e"/>
<circle cx="290.6" cy="675.8" r="2.2" fill="#d62728"/>
<circle cx="116.5" cy="662.4" r="2.2" fill="#1f77b4"/>
<circle cx="320.4" cy="638.7" r="2.2" fill="#d62728"/>
<circle cx="88.0" cy="642.0" r="2.2" fill="#1f77b4"/>
<circle cx="451.0" cy="654.3" r="2.2" fill="#1f77b4"/>
<circle cx="252.2" cy="637.7" r="2.2" fill="#2ca02c"/>
<circle cx="217.8" cy="671.5" r="2.2" fill="#ff7f0e"/>
<circle cx="64.1" cy="677.1" r="2.2" fill="#1f77b4"/>
<circle cx="307.6" cy="641.5" r="2.2" fill="#d62728"/>
<circle cx="331.2" cy="633.9" r="2.2" fill="#d62728"/>
<circle cx="330.9" cy="672.8" r="2.2" fill="#d62728"/>
<circle cx="68.6" cy="682.9" r="2.2" fill="#1f77b4"/>
<circle cx="173.7" cy="671.1" r="2.2" fill="#ff7f0e"/>
<circle cx="338.2" cy="640.1" r="2.2" fill="#d62728"/>
<circle cx="195.7" cy="641.7" r="2.2" fill="#ff7f0e"/>
<circle cx="613.8" cy="681.4" r="2.2" fill="#d62728"/>
<circle cx="601.3" cy="653.4" r="2.2" fill="#d62728"/>
<circle cx="583.2" cy="675.6" r="2.2" fill="#d62728"/>
<circle cx="155.7" cy="644.4" r="2.2" fill="#ff7f0e"/>
<circle cx="496.4" cy="678.7" r="2.2" fill="#ff7f0e"/>
<circle cx="386.2" cy="652.6" r="2.2" fill="#1f77b4"/>
<circle cx="390.6" cy="678.9" r="2.2" fill="#1f77b4"/>
<circle cx="403.8" cy="707.7" r="2.2" fill="#1f77b4"/>
<circle cx="137.8" cy="688.3" r="2.2" fill="#1f77b4"/>
<circle cx="466.3" cy="710.4" r="2.2" fill="#1f77b4"/>
<circle cx="291.5" cy="674.0" r="2.2" fill="#d62728"/>
<circle cx="473.0" cy="670.9" r="2.2" fill="#ff7f0e"/>
<circle cx="495.3" cy="684.2" r="2.2" fill="#ff7f0e"/>
<circle cx="235.1" cy="686.8" r="2.2" fill="#2ca02c"/>
<circle cx="206.2" cy="651.3" r="2.2" fill="#ff7f0e"/>
<circle cx="177.1" cy="640.0" r="2.2" fill="#ff7f0e"/>
<circle cx="627.0" cy="643.5" r="2.2" fill="#d62728"/>
<circle cx="313.9" cy="662.4" r="2.2" fill="#d62728"/>
<circle cx="213.8" cy="678.2" r="2.2" fill="#ff7f0e"/>
<circle cx="236.3" cy="676.6" r="2.2" fill="#2ca02c"/>
<circle cx="454.3" cy="651.1" r="2.2" fill="#1f77b4"/>
<circle cx="118.2" cy="648.1" r="2.2" fill="#1f77b4"/>
<circle cx="289.4" cy="648.8" r="2.2" fill="#d62728"/>
<circle cx="500.7" cy="651.9" r="2.2" fill="#ff7f0e"/>
<circle cx="595.1" cy="673.8" r="2.2" fill="#d62728"/>
<circle cx="134.6" cy="672.3" r="2.2" fill="#1f77b4"/>
<circle cx="67.7" cy="642.5" r="2.2" fill="#1f77b4"/>
<circle cx="125.9" cy="642.4" r="2.2" fill="#1f77b4"/>
<circle cx="318.7" cy="674.3" r="2.2" fill="#d62728"/>
<circle cx="610.8" cy="642.4" r="2.2" fill="#d62728"/>
<circle cx="414.9" cy="653.1" r="2.2" fill="#1f77b4"/>
<circle cx="102.8" cy="691.3" r="2.2" fill="#1f77b4"/>
<circle cx="275.4" cy="647.5" r="2.2" fill="#d62728"/>
<circle cx="91.1" cy="662.4" r="2.2" fill="#1f77b4"/>
<circle cx="512.0" cy="670.8" r="2.2" fill="#ff7f0e"/>
<circle cx="256.6" cy="643.5" r="2.2" fill="#2ca02c"/>
<circle cx="370.0" cy="653.7" r="2.2" fill="#2ca02c"/>
<circle cx="185.7" cy="670.8" r="2.2" fill="#ff7f0e"/>
<circle cx="252.5" cy="685.6" r="2.2" fill="#2ca02c"/>
<circle cx="276.9" cy="681.1" r="2.2" fill="#d62728"/>
<circle cx="305.7" cy="646.0" r="2.2" fill="#d62728"/>
<circle cx="260.7" cy="648.1" r="2.2" fill="#2ca02c"/>
<circle cx="463.3" cy="671.2" r="2.2" fill="#1f77b4"/>
<circle cx="565.4" cy="631.8" r="2.2" fill="#2ca02c"/>
<circle cx="235.1" cy="649.8" r="2.2" fill="#2ca02c"/>
<circle cx="310.9" cy="642.1" r="2.2" fill="#d62728"/>
<circle cx="214.4" cy="646.9" r="2.2" fill="#ff7f0e"/>
<circle cx="641.2" cy="646.6" r="2.2" fill="#d62728"/>
<circle cx="300.6" cy="645.3" r="2.2" fill="#d62728"/>
<circle cx="451.9" cy="647.1" r="2.2" fill="#1f77b4"/>
<circle cx="529.6" cy="651.7" r="2.2" fill="#ff7f0e"/>
<circle cx="253.8" cy="639.9" r="2.2" fill="#2ca02c"/>
<circle cx="415.2" cy="653.6" r="2.2" fill="#1f77b4"/>
<circle cx="156.4" cy="651.5" r="2.2" fill="#ff7f0e"/>
<circle cx="383.1" cy="688.3" r="2.2" fill="#1f77b4"/>
<circle cx="327.8" cy="662.4" r="2.2" fill="#d62728"/>
<circle cx="462.5" cy="674.0" r="2.2" fill="#1f77b4"/>
<circle cx="325.1" cy="662.4" r="2.2" fill="#d62728"/>
<circle cx="609.6" cy="639.3" r="2.2" fill="#d62728"/>
<circle cx="548.0" cy="623.6" r="2.2" fill="#2ca02c"/>
<circle cx="463.8" cy="649.2" r="2.2" fill="#1f77b4"/>
<circle cx="215.5" cy="674.6" r="2.2" fill="#ff7f0e"/>
<circle cx="318.0" cy="649.6" r="2.2" fill="#d62728"/>
<circle cx="324.9" cy="640.2" r="2.2" fill="#d62728"/>
<circle cx="553.6" cy="641.9" r="2.2" fill="#2ca02c"/>
<circle cx="80.2" cy="670.6" r="2.2" fill="#1f77b4"/>
<circle cx="187.7" cy="676.2" r="2.2" fill="#ff7f0e"/>
<circle cx="195.1" cy="641.1" r="2.2" fill="#ff7f0e"/>
<circle cx="408.8" cy="653.5" r="2.2" fill="#1f77b4"/>
<circle cx="460.6" cy="650.1" r="2.2" fill="#1f77b4"/>
<circle cx="594.2" cy="653.4" r="2.2" fill="#d62728"/>
<circle cx="315.6" cy="683.0" r="2.2" fill="#d62728"/>
<circle cx="203.1" cy="673.9" r="2.2" fill="#ff7f0e"/>
<circle cx="180.4" cy="716.5" r="2.2" fill="#ff7f0e"/>
<circle cx="95.0" cy="641.2" r="2.2" fill="#1f77b4"/>
<circle cx="387.8" cy="677.6" r="2.2" fill="#1f77b4"/>
<circle cx="84.7" cy="695.1" r="2.2" fill="#1f77b4"/>
<circle cx="308.5" cy="677.8" r="2.2" fill="#d62728"/>
<circle cx="645.4" cy="694.8" r="2.2" fill="#d62728"/>
<circle cx="394.7" cy="652.3" r="2.2" fill="#1f77b4"/>
<circle cx="482.0" cy="682.8" r="2.2" fill="#ff7f0e"/>
<circle cx="76.7" cy="691.4" r="2.2" fill="#1f77b4"/>
<circle cx="114.0" cy="676.3" r="2.2" fill="#1f77b4"/>
<circle cx="296.8" cy="681.7" r="2.2" fill="#d62728"/>
<circle cx="234.7" cy="654.3" r="2.2" fill="#2ca02c"/>
<circle cx="179.3" cy="650.8" r="2.2" fill="#ff7f0e"/>
<circle cx="165.4" cy="683.3" r="2.2" fill="#ff7f0e"/>
<circle cx="220.1" cy="680.1" r="2.2" fill="#ff7f0e"/>
<circle cx="222.8" cy="689.6" r="2.2" fill="#2ca02c"/>
<circle cx="113.4" cy="677.8" r="2.2" fill="#1f77b4"/>
<circle cx="221.0" cy="662.4" r="2.2" fill="#d62728"/>
<circle cx="402.0" cy="673.1" r="2.2" fill="#1f77b4"/>
<circle cx="426.1" cy="677.1" r="2.2" fill="#1f77b4"/>
<circle cx="97.5" cy="652.6" r="2.2" fill="#1f77b4"/>
<circle cx="250.6" cy="675.6" r="2.2" fill="#2ca02c"/>
<circle cx="521.9" cy="673.1" r="2.2" fill="#ff7f0e"/>
<circle cx="421.6" cy="626.1" r="2.2" fill="#1f77b4"/>
<circle cx="325.0" cy="633.8" r="2.2" fill="#d62728"/>
<circle cx="237.8" cy="644.1" r="2.2" fill="#2ca02c"/>
<circle cx="272.0" cy="653.2" r="2.2" fill="#d62728"/>
<circle cx="612.7" cy="672.1" r="2.2" fill="#d62728"/>
<circle cx="272.1" cy="676.5" r="2.2" fill="#d62728"/>
<circle cx="303.8" cy="684.6" r="2.2" fill="#d62728"/>
<circle cx="373.4" cy="654.3" r="2.2" fill="#1f77b4"/>
<circle cx="228.5" cy="654.4" r="2.2" fill="#2ca02c"/>
<circle cx="258.9" cy="643.8" r="2.2" fill="#2ca02c"/>
<circle cx="543.8" cy="723.6" r="2.2" fill="#2ca02c"/>
<circle cx="72.2" cy="677.7" r="2.2" fill="#1f77b4"/>
<circle cx="549.6" cy="614.2" r="2.2" fill="#2ca02c"/>
<circle cx="237.9" cy="683.2" r="2.2" fill="#2ca02c"/>
<circle cx="638.0" cy="673.5" r="2.2" fill="#d62728"/>
<circle cx="242.7" cy="650.3" r="2.2" fill="#2ca02c"/>
<circle cx="226.0" cy="649.1" r="2.2" fill="#2ca02c"/>
<circle cx="84.6" cy="691.1" r="2.2" fill="#1f77b4"/>
<circle cx="555.1" cy="674.9" r="2.2" fill="#2ca02c"/>
<circle cx="209.4" cy="649.2" r="2.2" fill="#ff7f0e"/>
<circle cx="464.7" cy="695.1" r="2.2" fill="#1f77b4"/>
<circle cx="587.4" cy="680.9" r="2.2" fill="#d62728"/>
<circle cx="101.7" cy="650.4" r="2.2" fill="#1f77b4"/>
<circle cx="329.2" cy="619.8" r="2.2" fill="#d62728"/>
<circle cx="277.1" cy="631.3" r="2.2" fill="#d62728"/>
<circle cx="264.8" cy="653.1" r="2.2" fill="#2ca02c"/>
<circle cx="274.3" cy="662.4" r="2.2" fill="#d62728"/>
<circle cx="292.0" cy="706.4" r="2.2" fill="#d62728"/>
<circle cx="285.7" cy="673.3" r="2.2" fill="#d62728"/>
<circle cx="475.1" cy="674.1" r="2.2" fill="#ff7f0e"/>
<circle cx="563.8" cy="672.2" r="2.2" fill="#2ca02c"/>
<circle cx="385.1" cy="632.3" r="2.2" fill="#1f77b4"/>
<circle cx="419.7" cy="671.4" r="2.2" fill="#1f77b4"/>
<circle cx="463.9" cy="651.7" r="2.2" fill="#1f77b4"/>
<circle cx="410.6" cy="679.6" r="2.2" fill="#1f77b4"/>
<circle cx="209.0" cy="662.4" r="2.2" fill="#ff7f0e"/>
<circle cx="225.5" cy="675.2" r="2.2" fill="#2ca02c"/>
<circle cx="520.2" cy="650.0" r="2.2" fill="#ff7f0e"/>
<circle cx="226.4" cy="687.6" r="2.2" fill="#2ca02c"/>
<circle cx="75.8" cy="678.9" r="2.2" fill="#1f77b4"/>
<circle cx="139.4" cy="698.1" r="2.2" fill="#1f77b4"/>
<circle cx="138.1" cy="662.4" r="2.2" fill="#1f77b4"/>
<circle cx="332.6" cy="682.0" r="2.2" fill="#d62728"/>
<circle cx="203.5" cy="647.6" r="2.2" fill="#ff7f0e"/>
<circle cx="213.4" cy="679.2" r="2.2" fill="#ff7f0e"/>
<circle cx="243.0" cy="691.6" r="2.2" fill="#2ca02c"/>
<circle cx="622.8" cy="670.9" r="2.2" fill="#d62728"/>
<circle cx="208.6" cy="642.1" r="2.2" fill="#ff7f0e"/>
<circle cx="89.0" cy="686.8" r="2.2" fill="#1f77b4"/>
<circle cx="154.4" cy="644.1" r="2.2" fill="#ff7f0e"/>
<circle cx="202.1" cy="673.9" r="2.2" fill="#ff7f0e"/>
<circle cx="119.7" cy="662.4" r="2.2" fill="#1f77b4"/>
<circle cx="441.0" cy="652.7" r="2.2" fill="#1f77b4"/>
<circle cx="89.8" cy="649.6" r="2.2" fill="#1f77b4"/>
<circle cx="269.8" cy="653.2" r="2.2" fill="#2ca02c"/>
<circle cx="336.1" cy="662.4" r="2.2" fill="#d62728"/>
<circle cx="598.0" cy="644.5" r="2.2" fill="#d62728"/>
<circle cx="583.0" cy="721.9" r="2.2" fill="#d62728"/>
<circle cx="75.7" cy="678.5" r="2.2" fill="#1f77b4"/>
<circle cx="416.9" cy="646.5" r="2.2" fill="#1f77b4"/>
<circle cx="200.3" cy="654.0" r="2.2" fill="#ff7f0e"/>
<circle cx="230.6" cy="695.3" r="2.2" fill="#2ca02c"/>
<circle cx="130.8" cy="653.5" r="2.2" fill="#1f77b4"/>
<circle cx="583.0" cy="652.6" r="2.2" fill="#2ca02c"/>
<circle cx="439.1" cy="651.6" r="2.2" fill="#1f77b4"/>
<circle cx="332.0" cy="634.7" r="2.2" fill="#d62728"/>
<circle cx="323.3" cy="644.7" r="2.2" fill="#d62728"/>
<circle cx="63.2" cy="643.3" r="2.2" fill="#1f77b4"/>
<circle cx="281.5" cy="671.6" r="2.2" fill="#d62728"/>
<circle cx="169.7" cy="677.9" r="2.2" fill="#ff7f0e"/>
<circle cx="176.0" cy="682.5" r="2.2" fill="#ff7f0e"/>
<circle cx="317.6" cy="646.4" r="2.2" fill="#d62728"/>
<circle cx="134.3" cy="653.6" r="2.2" fill="#1f77b4"/>
<circle cx="235.4" cy="654.4" r="2.2" fill="#2ca02c"/>
<circle cx="233.6" cy="649.3" r="2.2" fill="#2ca02c"/>
<circle cx="537.8" cy="685.5" r="2.2" fill="#2ca02c"/>
<circle cx="605.6" cy="641.2" r="2.2" fill="#d62728"/>
<circle cx="130.3" cy="662.4" r="2.2" fill="#1f77b4"/>
<circle cx="179.7" cy="681.4" r="2.2" fill="#ff7f0e"/>
<circle cx="159.1" cy="646.9" r="2.2" fill="#ff7f0e"/>
<circle cx="423.0" cy="674.6" r="2.2" fill="#1f77b4"/>
<circle cx="223.6" cy="662.4" r="2.2" fill="#2ca02c"/>
<circle cx="85.8" cy="671.6" r="2.2" fill="#1f77b4"/>
<circle cx="156.6" cy="681.5" r="2.2" fill="#ff7f0e"/>
<circle cx="314.8" cy="681.2" r="2.2" fill="#d62728"/>
<circle cx="296.6" cy="652.8" r="2.2" fill="#d62728"/>
<circle cx="265.7" cy="707.1" r="2.2" fill="#2ca02c"/>
<circle cx="569.0" cy="675.1" r="2.2" fill="#2ca02c"/>
<circle cx="422.9" cy="672.7" r="2.2" fill="#1f77b4"/>
<circle cx="327.1" cy="671.3" r="2.2" fill="#d62728"/>
<circle cx="441.1" cy="648.8" r="2.2" fill="#1f77b4"/>
<circle cx="292.4" cy="653.7" r="2.2" fill="#d62728"/>
<circle cx="146.4" cy="676.4" r="2.2" fill="#1f77b4"/>
<circle cx="203.2" cy="689.8" r="2.2" fill="#ff7f0e"/>
<circle cx="179.0" cy="682.1" r="2.2" fill="#ff7f0e"/>
<circle cx="117.8" cy="678.4" r="2.2" fill="#1f77b4"/>
<circle cx="102.6" cy="671.1" r="2.2" fill="#1f77b4"/>
<circle cx="631.2" cy="685.2" r="2.2" fill="#d62728"/>
<circle cx="159.4" cy="653.8" r="2.2" fill="#ff7f0e"/>
<circle cx="510.5" cy="679.4" r="2.2" fill="#ff7f0e"/>
<circle cx="611.9" cy="670.6" r="2.2" fill="#d62728"/>
<circle cx="279.0" cy="651.3" r="2.2" fill="#d62728"/>
<circle cx="182.8" cy="645.4" r="2.2" fill="#ff7f0e"/>
<circle cx="231.3" cy="693.1" r="2.2" fill="#2ca02c"/>
<circle cx="558.6" cy="614.2" r="2.2" fill="#d62728"/>
<circle cx="82.5" cy="662.4" r="2.2" fill="#1f77b4"/>
<circle cx="232.0" cy="600.2" r="2.2" fill="#2ca02c"/>
<circle cx="524.4" cy="687.2" r="2.2" fill="#ff7f0e"/>
<circle cx="193.5" cy="643.6" r="2.2" fill="#ff7f0e"/>
<circle cx="113.7" cy="629.2" r="2.2" fill="#1f77b4"/>
<circle cx="262.1" cy="629.9" r="2.2" fill="#2ca02c"/>
<circle cx="253.0" cy="692.9" r="2.2" fill="#2ca02c"/>
<circle cx="238.1" cy="673.3" r="2.2" fill="#2ca02c"/>
<circle cx="165.3" cy="690.7" r="2.2" fill="#ff7f0e"/>
<circle cx="303.0" cy="673.1" r="2.2" fill="#d62728"/>
<circle cx="266.2" cy="662.4" r="2.2" fill="#2ca02c"/>
<circle cx="254.2" cy="682.4" r="2.2" fill="#2ca02c"/>
<circle cx="454.9" cy="632.8" r="2.2" fill="#1f77b4"/>
<circle cx="634.3" cy="651.6" r="2.2" fill="#d62728"/>
<circle cx="63.0" cy="662.4" r="2.2" fill="#1f77b4"/>
<circle cx="174.9" cy="678.5" r="2.2" fill="#ff7f0e"/>
<circle cx="243.8" cy="639.6" r="2.2" fill="#2ca02c"/>
<circle cx="295.4" cy="647.8" r="2.2" fill="#d62728"/>
<circle cx="107.1" cy="693.2" r="2.2" fill="#1f77b4"/>
<circle cx="126.7" cy="643.8" r="2.2" fill="#1f77b4"/>
<circle cx="142.8" cy="674.5" r="2.2" fill="#1f77b4"/>
<circle cx="632.1" cy="649.1" r="2.2" fill="#d62728"/>
<circle cx="262.9" cy="654.1" r="2.2" fill="#2ca02c"/>
<circle cx="522.4" cy="647.0" r="2.2" fill="#ff7f0e"/>
<circle cx="621.2" cy="643.8" r="2.2" fill="#d62728"/>
<circle cx="620.0" cy="676.0" r="2.2" fill="#d62728"/>
<circle cx="477.3" cy="652.2" r="2.2" fill="#ff7f0e"/>
<circle cx="338.4" cy="649.7" r="2.2" fill="#d62728"/>
<circle cx="331.9" cy="672.0" r="2.2" fill="#d62728"/>
<circle cx="465.8" cy="652.4" r="2.2" fill="#1f77b4"/>
<circle cx="191.0" cy="671.6" r="2.2" fill="#ff7f0e"/>
<circle cx="276.9" cy="650.6" r="2.2" fill="#d62728"/>
<circle cx="417.7" cy="643.7" r="2.2" fill="#1f77b4"/>
<circle cx="150.8" cy="662.4" r="2.2" fill="#ff7f0e"/>
<circle cx="152.7" cy="638.0" r="2.2" fill="#ff7f0e"/>
<circle cx="641.8" cy="679.4" r="2.2" fill="#d62728"/>
<circle cx="603.0" cy="683.2" r="2.2" fill="#d62728"/>
<circle cx="117.9" cy="685.4" r="2.2" fill="#1f77b4"/>
<circle cx="287.9" cy="662.4" r="2.2" fill="#d62728"/>
<circle cx="100.3" cy="662.4" r="2.2" fill="#1f77b4"/>
<circle cx="398.0" cy="649.9" r="2.2" fill="#1f77b4"/>
<circle cx="215.8" cy="652.0" r="2.2" fill="#ff7f0e"/>
<circle cx="462.0" cy="687.5" r="2.2" fill="#1f77b4"/>
<circle cx="214.8" cy="649.4" r="2.2" fill="#ff7f0e"/>
<circle cx="552.0" cy="671.2" r="2.2" fill="#2ca02c"/>
<circle cx="274.0" cy="653.2" r="2.2" fill="#d62728"/>
<circle cx="182.3" cy="674.4" r="2.2" fill="#ff7f0e"/>
<circle cx="266.3" cy="671.0" r="2.2" fill="#2ca02c"/>
<circle cx="508.9" cy="676.6" r="2.2" fill="#ff7f0e"/>
<circle cx="313.2" cy="640.6" r="2.2" fill="#d62728"/>
<circle cx="220.3" cy="662.4" r="2.2" fill="#2ca02c"/>
<circle cx="180.3" cy="643.3" r="2.2" fill="#ff7f0e"/>
<circle cx="307.3" cy="686.5" r="2.2" fill="#d62728"/>
<circle cx="476.8" cy="679.4" r="2.2" fill="#ff7f0e"/>
<circle cx="281.6" cy="686.4" r="2.2" fill="#d62728"/>
<circle cx="72.2" cy="674.6" r="2.2" fill="#1f77b4"/>
<circle cx="106.0" cy="684.5" r="2.2" fill="#1f77b4"/>
<circle cx="338.8" cy="711.8" r="2.2" fill="#d62728"/>
<circle cx="184.4" cy="684.1" r="2.2" fill="#ff7f0e"/>
<circle cx="65.2" cy="680.6" r="2.2" fill="#1f77b4"/>
<circle cx="379.1" cy="652.0" r="2.2" fill="#1f77b4"/>
<circle cx="525.5" cy="675.5" r="2.2" fill="#ff7f0e"/>
<circle cx="65.7" cy="718.3" r="2.2" fill="#1f77b4"/>
<circle cx="334.0" cy="682.4" r="2.2" fill="#d62728"/>
<circle cx="567.7" cy="632.4" r="2.2" fill="#2ca02c"/>
<circle cx="600.1" cy="695.7" r="2.2" fill="#d62728"/>
<circle cx="154.7" cy="675.8" r="2.2" fill="#ff7f0e"/>
<circle cx="577.3" cy="679.3" r="2.2" fill="#2ca02c"/>
<circle cx="233.8" cy="683.4" r="2.2" fill="#2ca02c"/>
<circle cx="576.7" cy="710.7" r="2.2" fill="#2ca02c"/>
<circle cx="116.6" cy="644.8" r="2.2" fill="#1f77b4"/>
<circle cx="616.9" cy="672.6" r="2.2" fill="#d62728"/>
<circle cx="175.5" cy="654.3" r="2.2" fill="#ff7f0e"/>
<circle cx="244.0" cy="612.9" r="2.2" fill="#d62728"/>
<circle cx="337.4" cy="684.9" r="2.2" fill="#d62728"/>
<circle cx="564.0" cy="671.6" r="2.2" fill="#2ca02c"/>
<circle cx="292.3" cy="643.1" r="2.2" fill="#d62728"/>
<circle cx="213.9" cy="682.7" r="2.2" fill="#ff7f0e"/>
<circle cx="104.0" cy="684.5" r="2.2" fill="#1f77b4"/>
<circle cx="475.7" cy="653.3" r="2.2" fill="#ff7f0e"/>
<circle cx="284.9" cy="672.4" r="2.2" fill="#d62728"/>
<circle cx="229.7" cy="677.8" r="2.2" fill="#2ca02c"/>
<circle cx="317.3" cy="675.3" r="2.2" fill="#d62728"/>
<circle cx="528.6" cy="654.3" r="2.2" fill="#ff7f0e"/>
<circle cx="261.2" cy="647.3" r="2.2" fill="#2ca02c"/>
<circle cx="178.7" cy="662.4" r="2.2" fill="#ff7f0e"/>
<circle cx="481.3" cy="679.1" r="2.2" fill="#ff7f0e"/>
<circle cx="128.1" cy="653.3" r="2.2" fill="#1f77b4"/>
<circle cx="254.8" cy="649.6" r="2.2" fill="#2ca02c"/>
<circle cx="524.5" cy="681.8" r="2.2" fill="#ff7f0e"/>
<circle cx="642.4" cy="650.2" r="2.2" fill="#d62728"/>
<circle cx="329.1" cy="646.2" r="2.2" fill="#d62728"/>
<circle cx="318.1" cy="684.7" r="2.2" fill="#d62728"/>
<circle cx="250.5" cy="624.9" r="2.2" fill="#2ca02c"/>
<circle cx="242.3" cy="671.9" r="2.2" fill="#2ca02c"/>
<circle cx="582.9" cy="673.7" r="2.2" fill="#2ca02c"/>
<circle cx="164.5" cy="670.6" r="2.2" fill="#ff7f0e"/>
<circle cx="201.4" cy="671.8" r="2.2" fill="#ff7f0e"/>
<circle cx="316.7" cy="698.6" r="2.2" fill="#d62728"/>
<circle cx="150.4" cy="647.6" r="2.2" fill="#ff7f0e"/>
<circle cx="206.7" cy="628.0" r="2.2" fill="#ff7f0e"/>
<circle cx="583.4" cy="653.5" r="2.2" fill="#d62728"/>
<circle cx="577.2" cy="723.4" r="2.2" fill="#2ca02c"/>
<circle cx="488.3" cy="686.8" r="2.2" fill="#ff7f0e"/>
<circle cx="505.2" cy="679.0" r="2.2" fill="#ff7f0e"/>
<circle cx="251.8" cy="677.6" r="2.2" fill="#2ca02c"/>
<circle cx="270.8" cy="687.1" r="2.2" fill="#2ca02c"/>
<circle cx="208.5" cy="682.2" r="2.2" fill="#ff7f0e"/>
<circle cx="150.2" cy="653.7" r="2.2" fill="#ff7f0e"/>
<circle cx="577.2" cy="645.4" r="2.2" fill="#2ca02c"/>
<circle cx="216.9" cy="686.8" r="2.2" fill="#ff7f0e"/>
<circle cx="313.7" cy="643.5" r="2.2" fill="#d62728"/>
<circle cx="189.1" cy="650.9" r="2.2" fill="#ff7f0e"/>
<circle cx="274.8" cy="652.1" r="2.2" fill="#d62728"/>
<circle cx="115.9" cy="670.6" r="2.2" fill="#1f77b4"/>
<circle cx="115.9" cy="645.6" r="2.2" fill="#1f77b4"/>
<circle cx="635.0" cy="680.2" r="2.2" fill="#d62728"/>
<circle cx="70.8" cy="651.4" r="2.2" fill="#1f77b4"/>
<circle cx="634.1" cy="653.6" r="2.2" fill="#d62728"/>
<circle cx="243.6" cy="684.5" r="2.2" fill="#2ca02c"/>
<circle cx="630.2" cy="654.1" r="2.2" fill="#d62728"/>
<circle cx="279.6" cy="654.1" r="2.2" fill="#d62728"/>
<circle cx="102.5" cy="674.3" r="2.2" fill="#1f77b4"/>
<circle cx="584.5" cy="680.9" r="2.2" fill="#d62728"/>
<circle cx="287.6" cy="649.9" r="2.2" fill="#d62728"/>
<circle cx="254.9" cy="631.8" r="2.2" fill="#2ca02c"/>
<circle cx="290.3" cy="682.1" r="2.2" fill="#d62728"/>
<circle cx="323.5" cy="633.5" r="2.2" fill="#d62728"/>
<circle cx="268.1" cy="693.7" r="2.2" fill="#2ca02c"/>
<circle cx="244.9" cy="711.2" r="2.2" fill="#2ca02c"/>
<circle cx="154.4" cy="650.9" r="2.2" fill="#ff7f0e"/>
<circle cx="75.7" cy="643.8" r="2.2" fill="#1f77b4"/>
<circle cx="313.5" cy="671.8" r="2.2" fill="#d62728"/>
<circle cx="63.1" cy="634.1" r="2.2" fill="#1f77b4"/>
<circle cx="517.1" cy="650.3" r="2.2" fill="#ff7f0e"/>
<circle cx="167.2" cy="645.9" r="2.2" fill="#ff7f0e"/>
<circle cx="520.2" cy="687.4" r="2.2" fill="#ff7f0e"/>
<circle cx="267.2" cy="653.8" r="2.2" fill="#2ca02c"/>
<circle cx="232.0" cy="615.9" r="2.2" fill="#2ca02c"/>
<circle cx="197.6" cy="648.4" r="2.2" fill="#ff7f0e"/>
<circle cx="629.6" cy="717.9" r="2.2" fill="#d62728"/>
<circle cx="501.5" cy="677.4" r="2.2" fill="#ff7f0e"/>
<circle cx="250.7" cy="632.2" r="2.2" fill="#2ca02c"/>
<circle cx="246.9" cy="662.4" r="2.2" fill="#2ca02c"/>
<circle cx="529.6" cy="651.1" r="2.2" fill="#ff7f0e"/>
<circle cx="155.6" cy="677.1" r="2.2" fill="#ff7f0e"/>
<circle cx="373.7" cy="679.8" r="2.2" fill="#1f77b4"/>
<circle cx="501.0" cy="653.0" r="2.2" fill="#ff7f0e"/>
<circle cx="330.0" cy="646.2" r="2.2" fill="#d62728"/>
<circle cx="135.4" cy="676.8" r="2.2" fill="#1f77b4"/>
<circle cx="295.3" cy="649.2" r="2.2" fill="#d62728"/>
<circle cx="440.1" cy="671.4" r="2.2" fill="#1f77b4"/>
<circle cx="317.5" cy="677.7" r="2.2" fill="#d62728"/>
<circle cx="240.4" cy="652.6" r="2.2" fill="#2ca02c"/>
<circle cx="373.0" cy="651.2" r="2.2" fill="#1f77b4"/>
<circle cx="252.6" cy="662.4" r="2.2" fill="#2ca02c"/>
<circle cx="400.3" cy="677.4" r="2.2" fill="#1f77b4"/>
<circle cx="64.2" cy="681.7" r="2.2" fill="#1f77b4"/>
<circle cx="558.7" cy="641.7" r="2.2" fill="#2ca02c"/>
<circle cx="376.8" cy="622.7" r="2.2" fill="#1f77b4"/>
<circle cx="527.0" cy="648.8" r="2.2" fill="#ff7f0e"/>
<circle cx="176.2" cy="691.1" r="2.2" fill="#ff7f0e"/>
<circle cx="148.0" cy="662.4" r="2.2" fill="#ff7f0e"/>
<circle cx="254.0" cy="642.5" r="2.2" fill="#2ca02c"/>
<circle cx="267.6" cy="675.0" r="2.2" fill="#2ca02c"/>
<circle cx="500.9" cy="673.2" r="2.2" fill="#ff7f0e"/>
<circle cx="482.7" cy="651.3" r="2.2" fill="#ff7f0e"/>
<circle cx="184.0" cy="679.9" r="2.2" fill="#ff7f0e"/>
<circle cx="402.3" cy="648.4" r="2.2" fill="#1f77b4"/>
<circle cx="225.7" cy="643.8" r="2.2" fill="#2ca02c"/>
<circle cx="228.4" cy="647.9" r="2.2" fill="#2ca02c"/>
<circle cx="553.5" cy="683.3" r="2.2" fill="#2ca02c"/>
<circle cx="157.5" cy="650.9" r="2.2" fill="#ff7f0e"/>
<circle cx="65.5" cy="680.7" r="2.2" fill="#1f77b4"/>
<circle cx="158.9" cy="662.4" r="2.2" fill="#ff7f0e"/>
<circle cx="234.9" cy="678.7" r="2.2" fill="#2ca02c"/>
<circle cx="305.3" cy="628.6" r="2.2" fill="#d62728"/>
<circle cx="322.4" cy="633.7" r="2.2" fill="#d62728"/>
<circle cx="324.9" cy="681.6" r="2.2" fill="#d62728"/>
<circle cx="589.1" cy="647.9" r="2.2" fill="#d62728"/>
<circle cx="485.7" cy="687.9" r="2.2" fill="#ff7f0e"/>
<circle cx="155.2" cy="645.1" r="2.2" fill="#ff7f0e"/>
<circle cx="215.5" cy="620.9" r="2.2" fill="#ff7f0e"/>
<circle cx="321.4" cy="649.7" r="2.2" fill="#d62728"/>
<circle cx="224.3" cy="649.6" r="2.2" fill="#2ca02c"/>
<circle cx="224.5" cy="620.8" r="2.2" fill="#2ca02c"/>
<circle cx="202.9" cy="647.9" r="2.2" fill="#ff7f0e"/>
<circle cx="103.4" cy="662.4" r="2.2" fill="#1f77b4"/>
<circle cx="609.6" cy="675.8" r="2.2" fill="#d62728"/>
<circle cx="223.8" cy="654.3" r="2.2" fill="#2ca02c"/>
<circle cx="216.4" cy="670.6" r="2.2" fill="#ff7f0e"/>
<circle cx="505.4" cy="648.2" r="2.2" fill="#ff7f0e"/>
<circle cx="290.0" cy="677.5" r="2.2" fill="#d62728"/>
<circle cx="478.7" cy="654.0" r="2.2" fill="#ff7f0e"/>
<circle cx="324.9" cy="636.0" r="2.2" fill="#d62728"/>
<circle cx="235.7" cy="609.3" r="2.2" fill="#2ca02c"/>
<circle cx="534.3" cy="694.9" r="2.2" fill="#2ca02c"/>
<circle cx="171.2" cy="654.3" r="2.2" fill="#ff7f0e"/>
<circle cx="309.0" cy="682.2" r="2.2" fill="#d62728"/>
<circle cx="265.1" cy="641.0" r="2.2" fill="#2ca02c"/>
<circle cx="197.9" cy="642.4" r="2.2" fill="#ff7f0e"/>
<circle cx="183.5" cy="647.6" r="2.2" fill="#ff7f0e"/>
<circle cx="126.3" cy="678.1" r="2.2" fill="#1f77b4"/>
<circle cx="152.4" cy="671.2" r="2.2" fill="#ff7f0e"/>
<circle cx="326.6" cy="686.5" r="2.2" fill="#d62728"/>
<circle cx="289.9" cy="647.8" r="2.2" fill="#d62728"/>
<circle cx="154.1" cy="676.8" r="2.2" fill="#ff7f0e"/>
<circle cx="335.7" cy="670.7" r="2.2" fill="#d62728"/>
<circle cx="123.2" cy="678.9" r="2.2" fill="#1f77b4"/>
<circle cx="105.3" cy="673.8" r="2.2" fill="#1f77b4"/>
<circle cx="76.1" cy="671.7" r="2.2" fill="#1f77b4"/>
<circle cx="536.0" cy="674.2" r="2.2" fill="#2ca02c"/>
<circle cx="298.1" cy="671.7" r="2.2" fill="#d62728"/>
<circle cx="95.8" cy="671.4" r="2.2" fill="#1f77b4"/>
<circle cx="175.3" cy="653.8" r="2.2" fill="#ff7f0e"/>
<circle cx="436.0" cy="678.4" r="2.2" fill="#1f77b4"/>
<circle cx="580.0" cy="671.6" r="2.2" fill="#2ca02c"/>
<circle cx="377.9" cy="646.2" r="2.2" fill="#1f77b4"/>
<circle cx="188.2" cy="718.8" r="2.2" fill="#ff7f0e"/>
<circle cx="562.2" cy="690.0" r="2.2" fill="#2ca02c"/>
<circle cx="67.7" cy="680.1" r="2.2" fill="#1f77b4"/>
<circle cx="73.4" cy="678.7" r="2.2" fill="#1f77b4"/>
<circle cx="296.4" cy="692.4" r="2.2" fill="#d62728"/>
<circle cx="216.5" cy="701.1" r="2.2" fill="#ff7f0e"/>
<circle cx="338.8" cy="662.4" r="2.2" fill="#d62728"/>
<circle cx="247.1" cy="690.3" r="2.2" fill="#2ca02c"/>
<circle cx="223.3" cy="680.0" r="2.2" fill="#2ca02c"/>
<circle cx="199.1" cy="662.4" r="2.2" fill="#d62728"/>
<circle cx="211.1" cy="643.7" r="2.2" fill="#2ca02c"/>
<circle cx="96.0" cy="684.7" r="2.2" fill="#2ca02c"/>
<circle cx="89.2" cy="652.7" r="2.2" fill="#d62728"/>
<circle cx="202.3" cy="676.1" r="2.2" fill="#d62728"/>
<circle cx="92.6" cy="644.0" r="2.2" fill="#d62728"/>
<circle cx="179.7" cy="671.7" r="2.2" fill="#2ca02c"/>
<circle cx="193.5" cy="648.7" r="2.2" fill="#2ca02c"/>
<circle cx="130.9" cy="642.9" r="2.2" fill="#2ca02c"/>
<circle cx="222.9" cy="644.4" r="2.2" fill="#2ca02c"/>
<circle cx="169.0" cy="672.3" r="2.2" fill="#ff7f0e"/>
<circle cx="225.1" cy="671.6" r="2.2" fill="#ff7f0e"/>
<circle cx="170.3" cy="670.5" r="2.2" fill="#d62728"/>
<circle cx="108.9" cy="677.8" r="2.2" fill="#2ca02c"/>
<circle cx="72.4" cy="673.4" r="2.2" fill="#2ca02c"/>
<circle cx="82.4" cy="686.7" r="2.2" fill="#d62728"/>
<circle cx="99.0" cy="649.2" r="2.2" fill="#2ca02c"/>
<circle cx="147.1" cy="681.8" r="2.2" fill="#2ca02c"/>
<circle cx="66.7" cy="650.4" r="2.2" fill="#d62728"/>
<circle cx="133.1" cy="654.4" r="2.2" fill="#d62728"/>
<circle cx="72.3" cy="654.3" r="2.2" fill="#d62728"/>
<circle cx="181.7" cy="639.4" r="2.2" fill="#d62728"/>
<circle cx="221.2" cy="674.4" r="2.2" fill="#2ca02c"/>
<circle cx="198.3" cy="671.7" r="2.2" fill="#ff7f0e"/>
<circle cx="219.6" cy="647.8" r="2.2" fill="#d62728"/>
<circle cx="117.4" cy="679.0" r="2.2" fill="#ff7f0e"/>
<circle cx="226.0" cy="676.9" r="2.2" fill="#d62728"/>
<circle cx="147.7" cy="642.9" r="2.2" fill="#d62728"/>
<circle cx="220.4" cy="672.1" r="2.2" fill="#2ca02c"/>
<circle cx="113.3" cy="674.6" r="2.2" fill="#ff7f0e"/>
<circle cx="162.5" cy="682.4" r="2.2" fill="#d62728"/>
<circle cx="152.0" cy="677.8" r="2.2" fill="#d62728"/>
<circle cx="121.1" cy="644.1" r="2.2" fill="#ff7f0e"/>
<circle cx="124.7" cy="653.4" r="2.2" fill="#ff7f0e"/>
<circle cx="169.3" cy="683.6" r="2.2" fill="#d62728"/>
<circle cx="95.7" cy="642.5" r="2.2" fill="#ff7f0e"/>
<circle cx="195.4" cy="651.0" r="2.2" fill="#2ca02c"/>
<circle cx="141.1" cy="672.3" r="2.2" fill="#2ca02c"/>
<circle cx="123.9" cy="647.1" r="2.2" fill="#2ca02c"/>
<circle cx="151.5" cy="684.0" r="2.2" fill="#d62728"/>
<circle cx="204.6" cy="685.7" r="2.2" fill="#2ca02c"/>
<circle cx="515.5" cy="682.9" r="2.2" fill="#2ca02c"/>
<circle cx="526.4" cy="681.5" r="2.2" fill="#d62728"/>
<circle cx="477.5" cy="677.6" r="2.2" fill="#ff7f0e"/>
<circle cx="457.1" cy="682.2" r="2.2" fill="#ff7f0e"/>
<circle cx="551.6" cy="645.5" r="2.2" fill="#ff7f0e"/>
<circle cx="457.8" cy="677.9" r="2.2" fill="#ff7f0e"/>
<circle cx="489.3" cy="671.4" r="2.2" fill="#d62728"/>
<circle cx="555.8" cy="651.7" r="2.2" fill="#2ca02c"/>
<circle cx="439.9" cy="680.6" r="2.2" fill="#ff7f0e"/>
<circle cx="491.5" cy="649.9" r="2.2" fill="#2ca02c"/>
<circle cx="467.6" cy="677.9" r="2.2" fill="#ff7f0e"/>
<circle cx="412.9" cy="652.4" r="2.2" fill="#ff7f0e"/>
<circle cx="370.9" cy="677.5" r="2.2" fill="#d62728"/>
<circle cx="402.2" cy="682.2" r="2.2" fill="#2ca02c"/>
<line x1="50.8" y1="662.4" x2="350.8" y2="662.4" stroke="#111" stroke-width="1" stroke-dasharray="2.4,1.15"/>
<line x1="357" y1="662.4" x2="659.4" y2="662.4" stroke="#111" stroke-width="1" stroke-dasharray="2.4,1.15"/>
<line x1="351.0" y1="593.4" x2="351.0" y2="742" stroke="#999" stroke-width="1.6"/>
<line x1="47.3" y1="595.5" x2="50.8" y2="595.5" stroke="#333" stroke-width="0.8"/>
<text x="45.9" y="598.1" font-size="7.4" font-weight="normal" font-style="normal" text-anchor="end" fill="#222" >10.0</text>
<line x1="356.9" y1="595.5" x2="359.4" y2="595.5" stroke="#333" stroke-width="0.8"/>
<rect x="353.2" y="594.0" width="1.4" height="3" fill="#ccc"/>
<line x1="47.3" y1="612.2" x2="50.8" y2="612.2" stroke="#333" stroke-width="0.8"/>
<text x="45.9" y="614.825" font-size="7.4" font-weight="normal" font-style="normal" text-anchor="end" fill="#222" >7.5</text>
<line x1="356.9" y1="612.2" x2="359.4" y2="612.2" stroke="#333" stroke-width="0.8"/>
<rect x="353.2" y="610.7" width="1.4" height="3" fill="#ccc"/>
<line x1="47.3" y1="628.9" x2="50.8" y2="628.9" stroke="#333" stroke-width="0.8"/>
<text x="45.9" y="631.55" font-size="7.4" font-weight="normal" font-style="normal" text-anchor="end" fill="#222" >5.0</text>
<line x1="356.9" y1="628.9" x2="359.4" y2="628.9" stroke="#333" stroke-width="0.8"/>
<rect x="353.2" y="627.4" width="1.4" height="3" fill="#ccc"/>
<line x1="47.3" y1="645.7" x2="50.8" y2="645.7" stroke="#333" stroke-width="0.8"/>
<text x="45.9" y="648.275" font-size="7.4" font-weight="normal" font-style="normal" text-anchor="end" fill="#222" >2.5</text>
<line x1="356.9" y1="645.7" x2="359.4" y2="645.7" stroke="#333" stroke-width="0.8"/>
<rect x="353.2" y="644.2" width="1.4" height="3" fill="#ccc"/>
<line x1="47.3" y1="662.4" x2="50.8" y2="662.4" stroke="#333" stroke-width="0.8"/>
<text x="45.9" y="665.0" font-size="7.4" font-weight="normal" font-style="normal" text-anchor="end" fill="#222" >0.0</text>
<line x1="356.9" y1="662.4" x2="359.4" y2="662.4" stroke="#333" stroke-width="0.8"/>
<rect x="353.2" y="660.9" width="1.4" height="3" fill="#ccc"/>
<line x1="47.3" y1="679.1" x2="50.8" y2="679.1" stroke="#333" stroke-width="0.8"/>
<text x="45.9" y="681.725" font-size="7.4" font-weight="normal" font-style="normal" text-anchor="end" fill="#222" >−2.5</text>
<line x1="356.9" y1="679.1" x2="359.4" y2="679.1" stroke="#333" stroke-width="0.8"/>
<rect x="353.2" y="677.6" width="1.4" height="3" fill="#ccc"/>
<line x1="47.3" y1="695.9" x2="50.8" y2="695.9" stroke="#333" stroke-width="0.8"/>
<text x="45.9" y="698.45" font-size="7.4" font-weight="normal" font-style="normal" text-anchor="end" fill="#222" >−5.0</text>
<line x1="356.9" y1="695.9" x2="359.4" y2="695.9" stroke="#333" stroke-width="0.8"/>
<rect x="353.2" y="694.4" width="1.4" height="3" fill="#ccc"/>
<line x1="47.3" y1="712.6" x2="50.8" y2="712.6" stroke="#333" stroke-width="0.8"/>
<text x="45.9" y="715.175" font-size="7.4" font-weight="normal" font-style="normal" text-anchor="end" fill="#222" >−7.5</text>
<line x1="356.9" y1="712.6" x2="359.4" y2="712.6" stroke="#333" stroke-width="0.8"/>
<rect x="353.2" y="711.1" width="1.4" height="3" fill="#ccc"/>
<line x1="47.3" y1="729.3" x2="50.8" y2="729.3" stroke="#333" stroke-width="0.8"/>
<text x="45.9" y="731.9" font-size="7.4" font-weight="normal" font-style="normal" text-anchor="end" fill="#222" >−10.0</text>
<line x1="356.9" y1="729.3" x2="359.4" y2="729.3" stroke="#333" stroke-width="0.8"/>
<rect x="353.2" y="727.8" width="1.4" height="3" fill="#ccc"/>
<text transform="translate(25.4,681.5) rotate(-90)" font-size="10.3" fill="#111" textLength="36.8" lengthAdjust="spacingAndGlyphs">Log2FC</text>
<text x="54" y="604.4" font-size="10" font-weight="normal" font-style="normal" text-anchor="start" fill="#111" textLength="24" lengthAdjust="spacingAndGlyphs" >Yeast</text>
<text x="362.5" y="604.4" font-size="10" font-weight="normal" font-style="normal" text-anchor="start" fill="#111" textLength="24.5" lengthAdjust="spacingAndGlyphs" >Yeast</text>
<text x="54.3" y="738.3" font-size="10" font-weight="normal" font-style="normal" text-anchor="start" fill="#111" textLength="43.8" lengthAdjust="spacingAndGlyphs" >Mycelium</text>
<text x="362.5" y="738.3" font-size="10" font-weight="normal" font-style="normal" text-anchor="start" fill="#111" textLength="44.3" lengthAdjust="spacingAndGlyphs" >Mycelium</text>
<rect x="64" y="742" width="273.5" height="3" fill="#000"/>
<rect x="372.7" y="742.2" width="273" height="2.6" fill="#000"/>
<text x="162.4" y="755.2" font-size="10.8" font-weight="normal" font-style="normal" text-anchor="start" fill="#222" textLength="47.7" lengthAdjust="spacingAndGlyphs" >Total H2H</text>
<text x="477" y="754.6" font-size="10.8" font-weight="normal" font-style="normal" text-anchor="start" fill="#222" textLength="75.5" lengthAdjust="spacingAndGlyphs" >Dimorphic H2H</text>
<circle cx="117.6" cy="768.9" r="2.5" fill="#1f77b4"/>
<text x="135" y="772.1" font-size="9.6" font-weight="normal" font-style="normal" text-anchor="start" fill="#222" textLength="187.2" lengthAdjust="spacingAndGlyphs" >CELLULAR PROCESSES AND SIGNALING</text>
<circle cx="117.6" cy="782.8" r="2.5" fill="#ff7f0e"/>
<text x="135" y="786.0" font-size="9.6" font-weight="normal" font-style="normal" text-anchor="start" fill="#222" textLength="204" lengthAdjust="spacingAndGlyphs" >INFORMATION STORAGE AND PROCESSING</text>
<circle cx="388.2" cy="768.5" r="2.5" fill="#2ca02c"/>
<text x="406.2" y="771.7" font-size="9.6" font-weight="normal" font-style="normal" text-anchor="start" fill="#222" textLength="60.8" lengthAdjust="spacingAndGlyphs" >METABOLISM</text>
<circle cx="388.2" cy="782.2" r="2.5" fill="#d62728"/>
<text x="406.2" y="785.4000000000001" font-size="9.6" font-weight="normal" font-style="normal" text-anchor="start" fill="#222" textLength="119.8" lengthAdjust="spacingAndGlyphs" >POORLY CHARACTERIZED</text>
<text x="15.0" y="834.4" font-size="20" font-weight="bold" font-style="normal" text-anchor="start" fill="#000" >d</text>
<text x="156.2" y="827" font-size="12.2" font-weight="normal" font-style="normal" text-anchor="start" fill="#111" textLength="99.2" lengthAdjust="spacingAndGlyphs" >Yeast vs Mycelium</text>
<text x="425.7" y="825.2" font-size="12.2" font-weight="normal" font-style="normal" text-anchor="start" fill="#111" textLength="101.6" lengthAdjust="spacingAndGlyphs" >Mycelium vs Yeast</text>
<rect x="158" y="843.9" width="1.8" height="57.700000000000045" fill="#000"/>
<text x="154.8" y="847.5" font-size="8.4" font-weight="normal" font-style="normal" text-anchor="end" fill="#111" >2</text>
<text x="154.8" y="872" font-size="8.4" font-weight="normal" font-style="normal" text-anchor="end" fill="#111" >1</text>
<text x="154.8" y="900.6" font-size="8.4" font-weight="normal" font-style="normal" text-anchor="end" fill="#111" >0</text>
<text transform="translate(147.5,879) rotate(-90)" font-size="8.6" fill="#111" textLength="20" lengthAdjust="spacingAndGlyphs">BITS</text>
<use href="#gC" fill="#0000cc" transform="translate(165.00,897.60) scale(0.01046,-0.00800) translate(-84,20)"/>
<use href="#gG" fill="#ffb300" transform="translate(165.00,884.70) scale(0.01013,-0.01041) translate(-84,20)"/>
<path d="M181.00,893.00 H195.00 V893.58 H190.03 V896.40 H185.97 V893.58 H181.00 Z" fill="#008000"/>
<use href="#gA" fill="#d40000" transform="translate(181.00,892.20) scale(0.01019,-0.02654) translate(-51,0)"/>
<use href="#gA" fill="#d40000" transform="translate(197.30,896.60) scale(0.01019,-0.00078) translate(-51,0)"/>
<path d="M197.30,846.20 H211.30 V854.58 H206.33 V895.50 H202.27 V854.58 H197.30 Z" fill="#008000"/>
<use href="#gG" fill="#ffb300" transform="translate(213.00,897.60) scale(0.01013,-0.00400) translate(-84,20)"/>
<path d="M213.00,859.80 H227.00 V865.24 H222.03 V891.80 H217.97 V865.24 H213.00 Z" fill="#008000"/>
<use href="#gG" fill="#ffb300" transform="translate(228.80,897.60) scale(0.01013,-0.00593) translate(-84,20)"/>
<path d="M228.80,865.40 H242.80 V869.41 H237.83 V889.00 H233.77 V869.41 H228.80 Z" fill="#008000"/>
<use href="#gC" fill="#0000cc" transform="translate(244.50,897.60) scale(0.01046,-0.00731) translate(-84,20)"/>
<use href="#gG" fill="#ffb300" transform="translate(244.50,886.00) scale(0.01013,-0.01214) translate(-84,20)"/>
<use href="#gG" fill="#ffb300" transform="translate(260.80,897.60) scale(0.01013,-0.00138) translate(-84,20)"/>
<use href="#gA" fill="#d40000" transform="translate(260.80,895.60) scale(0.01019,-0.00440) translate(-51,0)"/>
<use href="#gC" fill="#0000cc" transform="translate(260.80,888.30) scale(0.01046,-0.00807) translate(-84,20)"/>
<text transform="translate(175.0,905) rotate(-90)" font-size="8.6" fill="#111">1</text>
<text transform="translate(191.0,905) rotate(-90)" font-size="8.6" fill="#111">2</text>
<text transform="translate(207.3,905) rotate(-90)" font-size="8.6" fill="#111">3</text>
<text transform="translate(223.0,905) rotate(-90)" font-size="8.6" fill="#111">4</text>
<text transform="translate(238.8,905) rotate(-90)" font-size="8.6" fill="#111">5</text>
<text transform="translate(254.5,905) rotate(-90)" font-size="8.6" fill="#111">6</text>
<text transform="translate(270.8,905) rotate(-90)" font-size="8.6" fill="#111">7</text>
<rect x="426.9" y="840.8" width="1.8" height="58.0" fill="#000"/>
<text x="423.7" y="843.5" font-size="8.4" font-weight="normal" font-style="normal" text-anchor="end" fill="#111" >2</text>
<text x="423.7" y="868.5" font-size="8.4" font-weight="normal" font-style="normal" text-anchor="end" fill="#111" >1</text>
<text x="423.7" y="897.7" font-size="8.4" font-weight="normal" font-style="normal" text-anchor="end" fill="#111" >0</text>
<text transform="translate(416.8,876.1) rotate(-90)" font-size="8.6" fill="#111" textLength="19.399999999999977" lengthAdjust="spacingAndGlyphs">BITS</text>
<path d="M435.90,842.20 H448.10 V851.41 H443.77 V896.40 H440.23 V851.41 H435.90 Z" fill="#008000"/>
<use href="#gC" fill="#0000cc" transform="translate(451.90,896.40) scale(0.00911,-0.03738) translate(-84,20)"/>
<path d="M468.10,842.20 H480.30 V851.41 H475.97 V896.40 H472.43 V851.41 H468.10 Z" fill="#008000"/>
<path d="M484.00,842.20 H496.20 V851.41 H491.87 V896.40 H488.33 V851.41 H484.00 Z" fill="#008000"/>
<path d="M500.20,842.20 H512.40 V851.41 H508.07 V896.40 H504.53 V851.41 H500.20 Z" fill="#008000"/>
<use href="#gC" fill="#0000cc" transform="translate(516.20,896.40) scale(0.00911,-0.03738) translate(-84,20)"/>
<text transform="translate(445.0,903.2) rotate(-90)" font-size="8.6" fill="#111">1</text>
<text transform="translate(461.0,903.2) rotate(-90)" font-size="8.6" fill="#111">2</text>
<text transform="translate(477.2,903.2) rotate(-90)" font-size="8.6" fill="#111">3</text>
<text transform="translate(493.1,903.2) rotate(-90)" font-size="8.6" fill="#111">4</text>
<text transform="translate(509.3,903.2) rotate(-90)" font-size="8.6" fill="#111">5</text>
<text transform="translate(525.3,903.2) rotate(-90)" font-size="8.6" fill="#111">6</text>
<rect x="126.6" y="927.3" width="1.8" height="57.90000000000009" fill="#000"/>
<text x="123.39999999999999" y="930.7" font-size="8.4" font-weight="normal" font-style="normal" text-anchor="end" fill="#111" >2</text>
<text x="123.39999999999999" y="955" font-size="8.4" font-weight="normal" font-style="normal" text-anchor="end" fill="#111" >1</text>
<text x="123.39999999999999" y="983.3" font-size="8.4" font-weight="normal" font-style="normal" text-anchor="end" fill="#111" >0</text>
<text transform="translate(117,961.5) rotate(-90)" font-size="8.6" fill="#111" textLength="18.0" lengthAdjust="spacingAndGlyphs">BITS</text>
<use href="#gA" fill="#d40000" transform="translate(128.00,983.00) scale(0.00670,-0.00248) translate(-51,0)"/>
<use href="#gC" fill="#0000cc" transform="translate(128.00,979.50) scale(0.00687,-0.00324) translate(-84,20)"/>
<use href="#gG" fill="#ffb300" transform="translate(128.00,974.80) scale(0.00666,-0.01048) translate(-84,20)"/>
<path d="M137.98,982.20 H147.18 V982.70 H143.91 V983.00 H141.25 V982.70 H137.98 Z" fill="#008000"/>
<use href="#gC" fill="#0000cc" transform="translate(147.96,983.00) scale(0.00687,-0.00276) translate(-84,20)"/>
<use href="#gA" fill="#d40000" transform="translate(147.96,979.00) scale(0.00670,-0.00355) translate(-51,0)"/>
<use href="#gG" fill="#ffb300" transform="translate(147.96,973.80) scale(0.00666,-0.00717) translate(-84,20)"/>
<path d="M157.94,981.00 H167.14 V981.50 H163.87 V983.00 H161.21 V981.50 H157.94 Z" fill="#008000"/>
<use href="#gA" fill="#d40000" transform="translate(157.94,981.00) scale(0.00670,-0.00284) translate(-51,0)"/>
<use href="#gG" fill="#ffb300" transform="translate(157.94,976.70) scale(0.00666,-0.00262) translate(-84,20)"/>
<use href="#gG" fill="#ffb300" transform="translate(167.92,983.00) scale(0.00666,-0.00207) translate(-84,20)"/>
<use href="#gA" fill="#d40000" transform="translate(167.92,980.00) scale(0.00670,-0.00170) translate(-51,0)"/>
<use href="#gC" fill="#0000cc" transform="translate(167.92,977.60) scale(0.00687,-0.01503) translate(-84,20)"/>
<path d="M177.90,980.00 H187.10 V980.51 H183.83 V983.00 H181.17 V980.51 H177.90 Z" fill="#008000"/>
<use href="#gG" fill="#ffb300" transform="translate(177.90,980.00) scale(0.00666,-0.00228) translate(-84,20)"/>
<use href="#gA" fill="#d40000" transform="translate(177.90,976.70) scale(0.00670,-0.01483) translate(-51,0)"/>
<use href="#gA" fill="#d40000" transform="translate(187.88,983.00) scale(0.00670,-0.00177) translate(-51,0)"/>
<use href="#gC" fill="#0000cc" transform="translate(187.88,980.50) scale(0.00687,-0.00200) translate(-84,20)"/>
<path d="M187.88,971.00 H197.08 V972.12 H193.81 V977.60 H191.15 V972.12 H187.88 Z" fill="#008000"/>
<use href="#gA" fill="#d40000" transform="translate(197.86,983.00) scale(0.00670,-0.00142) translate(-51,0)"/>
<use href="#gG" fill="#ffb300" transform="translate(197.86,981.00) scale(0.00666,-0.00234) translate(-84,20)"/>
<use href="#gC" fill="#0000cc" transform="translate(197.86,977.60) scale(0.00687,-0.00524) translate(-84,20)"/>
<use href="#gC" fill="#0000cc" transform="translate(207.84,983.00) scale(0.00687,-0.00207) translate(-84,20)"/>
<path d="M207.84,975.70 H217.04 V976.43 H213.77 V980.00 H211.11 V976.43 H207.84 Z" fill="#008000"/>
<use href="#gA" fill="#d40000" transform="translate(207.84,975.70) scale(0.00670,-0.01214) translate(-51,0)"/>
<use href="#gA" fill="#d40000" transform="translate(217.82,983.00) scale(0.00670,-0.00213) translate(-51,0)"/>
<use href="#gG" fill="#ffb300" transform="translate(217.82,980.00) scale(0.00666,-0.00297) translate(-84,20)"/>
<path d="M217.82,954.50 H227.02 V958.10 H223.75 V975.70 H221.09 V958.10 H217.82 Z" fill="#008000"/>
<use href="#gC" fill="#0000cc" transform="translate(227.80,983.00) scale(0.00687,-0.00138) translate(-84,20)"/>
<use href="#gA" fill="#d40000" transform="translate(227.80,981.00) scale(0.00670,-0.00305) translate(-51,0)"/>
<path d="M227.80,961.50 H237.00 V964.08 H233.73 V976.70 H231.07 V964.08 H227.80 Z" fill="#008000"/>
<path d="M237.78,971.00 H246.98 V973.04 H243.71 V983.00 H241.05 V973.04 H237.78 Z" fill="#008000"/>
<use href="#gG" fill="#ffb300" transform="translate(237.78,970.50) scale(0.00666,-0.01014) translate(-84,20)"/>
<use href="#gC" fill="#0000cc" transform="translate(247.76,983.00) scale(0.00687,-0.00172) translate(-84,20)"/>
<use href="#gA" fill="#d40000" transform="translate(247.76,980.50) scale(0.00670,-0.00248) translate(-51,0)"/>
<use href="#gG" fill="#ffb300" transform="translate(247.76,977.00) scale(0.00666,-0.00276) translate(-84,20)"/>
<path d="M257.74,981.00 H266.94 V981.50 H263.67 V983.00 H261.01 V981.50 H257.74 Z" fill="#008000"/>
<use href="#gC" fill="#0000cc" transform="translate(257.74,981.00) scale(0.00687,-0.00172) translate(-84,20)"/>
<use href="#gG" fill="#ffb300" transform="translate(267.72,983.00) scale(0.00666,-0.00766) translate(-84,20)"/>
<path d="M267.72,955.80 H276.92 V958.54 H273.65 V971.90 H270.99 V958.54 H267.72 Z" fill="#008000"/>
<use href="#gA" fill="#d40000" transform="translate(277.70,983.00) scale(0.00670,-0.00213) translate(-51,0)"/>
<use href="#gC" fill="#0000cc" transform="translate(277.70,980.00) scale(0.00687,-0.00166) translate(-84,20)"/>
<use href="#gG" fill="#ffb300" transform="translate(277.70,977.60) scale(0.00666,-0.00593) translate(-84,20)"/>
<path d="M287.68,974.80 H296.88 V976.19 H293.61 V983.00 H290.95 V976.19 H287.68 Z" fill="#008000"/>
<use href="#gG" fill="#ffb300" transform="translate(287.68,973.80) scale(0.00666,-0.01572) translate(-84,20)"/>
<path d="M297.66,982.00 H306.86 V982.50 H303.59 V983.00 H300.93 V982.50 H297.66 Z" fill="#008000"/>
<use href="#gC" fill="#0000cc" transform="translate(307.64,983.30) scale(0.00687,-0.00393) translate(-84,20)"/>
<use href="#gG" fill="#ffb300" transform="translate(307.64,977.60) scale(0.00666,-0.02290) translate(-84,20)"/>
<text transform="translate(135.6,994) rotate(-90)" font-size="8.4" fill="#111">1</text>
<text transform="translate(145.6,994) rotate(-90)" font-size="8.4" fill="#111">2</text>
<text transform="translate(155.6,994) rotate(-90)" font-size="8.4" fill="#111">3</text>
<text transform="translate(165.5,994) rotate(-90)" font-size="8.4" fill="#111">4</text>
<text transform="translate(175.5,994) rotate(-90)" font-size="8.4" fill="#111">5</text>
<text transform="translate(185.5,994) rotate(-90)" font-size="8.4" fill="#111">6</text>
<text transform="translate(195.5,994) rotate(-90)" font-size="8.4" fill="#111">7</text>
<text transform="translate(205.5,994) rotate(-90)" font-size="8.4" fill="#111">8</text>
<text transform="translate(215.4,994) rotate(-90)" font-size="8.4" fill="#111">9</text>
<text transform="translate(225.4,994) rotate(-90)" font-size="8.4" fill="#111">10</text>
<text transform="translate(235.4,994) rotate(-90)" font-size="8.4" fill="#111">11</text>
<text transform="translate(245.4,994) rotate(-90)" font-size="8.4" fill="#111">12</text>
<text transform="translate(255.4,994) rotate(-90)" font-size="8.4" fill="#111">13</text>
<text transform="translate(265.3,994) rotate(-90)" font-size="8.4" fill="#111">14</text>
<text transform="translate(275.3,994) rotate(-90)" font-size="8.4" fill="#111">15</text>
<text transform="translate(285.3,994) rotate(-90)" font-size="8.4" fill="#111">16</text>
<text transform="translate(295.3,994) rotate(-90)" font-size="8.4" fill="#111">17</text>
<text transform="translate(305.3,994) rotate(-90)" font-size="8.4" fill="#111">18</text>
<text transform="translate(315.2,994) rotate(-90)" font-size="8.4" fill="#111">19</text>
<rect x="389.5" y="926.8" width="1.8" height="58.0" fill="#000"/>
<text x="386.3" y="930.4" font-size="8.4" font-weight="normal" font-style="normal" text-anchor="end" fill="#111" >2</text>
<text x="386.3" y="955" font-size="8.4" font-weight="normal" font-style="normal" text-anchor="end" fill="#111" >1</text>
<text x="386.3" y="982.9" font-size="8.4" font-weight="normal" font-style="normal" text-anchor="end" fill="#111" >0</text>
<text transform="translate(379.5,961.5) rotate(-90)" font-size="8.6" fill="#111" textLength="19.899999999999977" lengthAdjust="spacingAndGlyphs">BITS</text>
<use href="#gG" fill="#ffb300" transform="translate(391.60,982.40) scale(0.00724,-0.00434) translate(-84,20)"/>
<use href="#gA" fill="#d40000" transform="translate(391.60,975.70) scale(0.00728,-0.02044) translate(-51,0)"/>
<use href="#gA" fill="#d40000" transform="translate(402.67,982.40) scale(0.00728,-0.03705) translate(-51,0)"/>
<use href="#gA" fill="#d40000" transform="translate(413.74,982.40) scale(0.00728,-0.03705) translate(-51,0)"/>
<use href="#gG" fill="#ffb300" transform="translate(424.81,982.40) scale(0.00724,-0.03600) translate(-84,20)"/>
<use href="#gA" fill="#d40000" transform="translate(435.88,982.40) scale(0.00728,-0.03705) translate(-51,0)"/>
<use href="#gG" fill="#ffb300" transform="translate(446.95,982.40) scale(0.00724,-0.00717) translate(-84,20)"/>
<use href="#gA" fill="#d40000" transform="translate(446.95,971.00) scale(0.00728,-0.01214) translate(-51,0)"/>
<use href="#gA" fill="#d40000" transform="translate(458.02,982.40) scale(0.00728,-0.03705) translate(-51,0)"/>
<use href="#gG" fill="#ffb300" transform="translate(469.09,982.40) scale(0.00724,-0.03600) translate(-84,20)"/>
<use href="#gA" fill="#d40000" transform="translate(480.16,982.40) scale(0.00728,-0.03705) translate(-51,0)"/>
<use href="#gG" fill="#ffb300" transform="translate(491.23,982.40) scale(0.00724,-0.03600) translate(-84,20)"/>
<use href="#gA" fill="#d40000" transform="translate(502.30,982.40) scale(0.00728,-0.03705) translate(-51,0)"/>
<use href="#gG" fill="#ffb300" transform="translate(513.37,982.40) scale(0.00724,-0.03600) translate(-84,20)"/>
<use href="#gA" fill="#d40000" transform="translate(524.44,982.40) scale(0.00728,-0.03705) translate(-51,0)"/>
<use href="#gA" fill="#d40000" transform="translate(535.51,982.40) scale(0.00728,-0.00341) translate(-51,0)"/>
<use href="#gG" fill="#ffb300" transform="translate(535.51,977.60) scale(0.00724,-0.02090) translate(-84,20)"/>
<use href="#gA" fill="#d40000" transform="translate(546.58,982.40) scale(0.00728,-0.03705) translate(-51,0)"/>
<use href="#gA" fill="#d40000" transform="translate(557.65,982.40) scale(0.00728,-0.00809) translate(-51,0)"/>
<use href="#gG" fill="#ffb300" transform="translate(557.65,970.00) scale(0.00724,-0.01110) translate(-84,20)"/>
<use href="#gA" fill="#d40000" transform="translate(568.72,982.40) scale(0.00728,-0.03705) translate(-51,0)"/>
<text transform="translate(399.6,993.6) rotate(-90)" font-size="8.4" fill="#111">1</text>
<text transform="translate(410.7,993.6) rotate(-90)" font-size="8.4" fill="#111">2</text>
<text transform="translate(421.7,993.6) rotate(-90)" font-size="8.4" fill="#111">3</text>
<text transform="translate(432.8,993.6) rotate(-90)" font-size="8.4" fill="#111">4</text>
<text transform="translate(443.9,993.6) rotate(-90)" font-size="8.4" fill="#111">5</text>
<text transform="translate(455.0,993.6) rotate(-90)" font-size="8.4" fill="#111">6</text>
<text transform="translate(466.0,993.6) rotate(-90)" font-size="8.4" fill="#111">7</text>
<text transform="translate(477.1,993.6) rotate(-90)" font-size="8.4" fill="#111">8</text>
<text transform="translate(488.2,993.6) rotate(-90)" font-size="8.4" fill="#111">9</text>
<text transform="translate(499.2,993.6) rotate(-90)" font-size="8.4" fill="#111">10</text>
<text transform="translate(510.3,993.6) rotate(-90)" font-size="8.4" fill="#111">11</text>
<text transform="translate(521.4,993.6) rotate(-90)" font-size="8.4" fill="#111">12</text>
<text transform="translate(532.4,993.6) rotate(-90)" font-size="8.4" fill="#111">13</text>
<text transform="translate(543.5,993.6) rotate(-90)" font-size="8.4" fill="#111">14</text>
<text transform="translate(554.6,993.6) rotate(-90)" font-size="8.4" fill="#111">15</text>
<text transform="translate(565.7,993.6) rotate(-90)" font-size="8.4" fill="#111">16</text>
<text transform="translate(576.7,993.6) rotate(-90)" font-size="8.4" fill="#111">17</text></svg>
</body></html>
